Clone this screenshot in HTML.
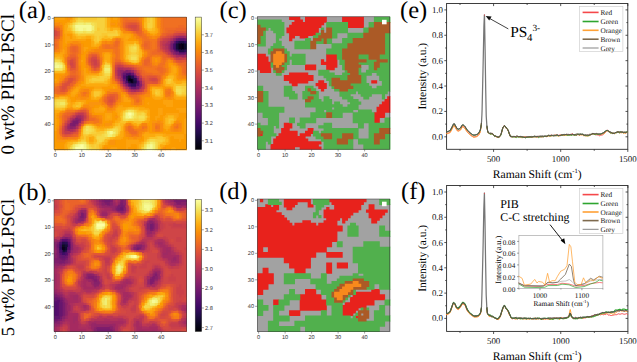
<!DOCTYPE html><html><head><meta charset="utf-8"><style>html,body{margin:0;padding:0;background:#fff}body{width:637px;height:362px;position:relative;overflow:hidden}</style></head><body><svg width="637" height="362" viewBox="0 0 637 362" text-rendering="geometricPrecision" style="position:absolute;left:0;top:0">
<rect width="637" height="362" fill="#fff"/>
<defs><filter id="soft" x="0" y="0" width="1" height="1"><feGaussianBlur stdDeviation="0.45" edgeMode="duplicate"/></filter></defs>
<text x="18.8" y="18.2" font-size="24.5" font-family='"Liberation Serif", serif' text-anchor="start" fill="#000" >(a)</text>
<text x="18.2" y="199.8" font-size="24.5" font-family='"Liberation Serif", serif' text-anchor="start" fill="#000" >(b)</text>
<text x="219.5" y="18.0" font-size="24.5" font-family='"Liberation Serif", serif' text-anchor="start" fill="#000" >(c)</text>
<text x="219.2" y="199.0" font-size="24.5" font-family='"Liberation Serif", serif' text-anchor="start" fill="#000" >(d)</text>
<text x="400.0" y="18.0" font-size="24.5" font-family='"Liberation Serif", serif' text-anchor="start" fill="#000" >(e)</text>
<text x="401.0" y="199.0" font-size="24.5" font-family='"Liberation Serif", serif' text-anchor="start" fill="#000" >(f)</text>
<text transform="translate(14.4,154.4) rotate(-90)" font-size="19" font-family='"Liberation Serif", serif' fill="#000">0 wt% PIB-LPSCl</text>
<text transform="translate(14.4,336.2) rotate(-90)" font-size="18.6" font-family='"Liberation Serif", serif' fill="#000">5 wt% PIB-LPSCl</text>
<g filter="url(#soft)"><rect x="54.0" y="17.1" width="132.4" height="132.5" fill="#f8890c"/>
<path fill="#fca309" d="M54.00 17.10h11.19v3.25h-11.19zM112.26 17.10h5.90v3.25h-5.90zM154.62 17.10h3.25v3.25h-3.25zM154.62 19.75h3.25v3.25h-3.25zM64.59 22.40h3.25v3.25h-3.25zM154.62 22.40h3.25v3.25h-3.25zM154.62 25.05h3.25v3.25h-3.25zM120.20 30.35h3.25v3.25h-3.25zM146.68 30.35h3.25v3.25h-3.25zM64.59 33.00h3.25v3.25h-3.25zM122.85 33.00h8.54v3.25h-8.54zM151.98 33.00h3.25v3.25h-3.25zM64.59 35.65h5.90v3.25h-5.90zM114.90 35.65h11.19v3.25h-11.19zM128.14 35.65h3.25v3.25h-3.25zM64.59 38.30h21.78v3.25h-21.78zM104.31 38.30h3.25v3.25h-3.25zM109.61 38.30h3.25v3.25h-3.25zM122.85 38.30h5.90v3.25h-5.90zM64.59 40.95h3.25v3.25h-3.25zM122.85 40.95h3.25v3.25h-3.25zM122.85 43.60h3.25v3.25h-3.25zM83.13 46.25h5.90v3.25h-5.90zM122.85 46.25h3.25v3.25h-3.25zM138.74 46.25h3.25v3.25h-3.25zM61.94 48.90h3.25v3.25h-3.25zM83.13 48.90h3.25v3.25h-3.25zM122.85 48.90h3.25v3.25h-3.25zM59.30 51.55h5.90v3.25h-5.90zM104.31 51.55h5.90v3.25h-5.90zM122.85 51.55h3.25v3.25h-3.25zM141.38 51.55h3.25v3.25h-3.25zM61.94 56.85h3.25v3.25h-3.25zM122.85 56.85h3.25v3.25h-3.25zM80.48 59.50h3.25v3.25h-3.25zM109.61 62.15h3.25v3.25h-3.25zM133.44 62.15h3.25v3.25h-3.25zM170.51 64.80h5.90v3.25h-5.90zM64.59 67.45h3.25v3.25h-3.25zM83.13 67.45h3.25v3.25h-3.25zM170.51 67.45h3.25v3.25h-3.25zM83.13 70.10h3.25v3.25h-3.25zM99.02 70.10h3.25v3.25h-3.25zM170.51 70.10h3.25v3.25h-3.25zM83.13 72.75h13.84v3.25h-13.84zM167.86 72.75h3.25v3.25h-3.25zM173.16 72.75h3.25v3.25h-3.25zM83.13 75.40h3.25v3.25h-3.25zM109.61 75.40h3.25v3.25h-3.25zM54.00 78.05h3.25v3.25h-3.25zM83.13 78.05h3.25v3.25h-3.25zM162.57 78.05h3.25v3.25h-3.25zM83.13 80.70h3.25v3.25h-3.25zM80.48 83.35h5.90v3.25h-5.90zM106.96 83.35h3.25v3.25h-3.25zM162.57 83.35h3.25v3.25h-3.25zM75.18 86.00h5.90v3.25h-5.90zM93.72 86.00h8.54v3.25h-8.54zM112.26 86.00h3.25v3.25h-3.25zM157.27 86.00h5.90v3.25h-5.90zM170.51 86.00h3.25v3.25h-3.25zM72.54 88.65h3.25v3.25h-3.25zM91.07 88.65h3.25v3.25h-3.25zM101.66 88.65h3.25v3.25h-3.25zM149.33 88.65h3.25v3.25h-3.25zM69.89 91.30h3.25v3.25h-3.25zM75.18 91.30h3.25v3.25h-3.25zM69.89 93.95h5.90v3.25h-5.90zM122.85 93.95h3.25v3.25h-3.25zM67.24 96.60h3.25v3.25h-3.25zM122.85 96.60h5.90v3.25h-5.90zM151.98 96.60h3.25v3.25h-3.25zM159.92 96.60h3.25v3.25h-3.25zM173.16 96.60h3.25v3.25h-3.25zM75.18 99.25h11.19v3.25h-11.19zM122.85 99.25h8.54v3.25h-8.54zM162.57 99.25h11.19v3.25h-11.19zM69.89 101.90h3.25v3.25h-3.25zM83.13 101.90h3.25v3.25h-3.25zM146.68 101.90h3.25v3.25h-3.25zM162.57 101.90h11.19v3.25h-11.19zM69.89 104.55h3.25v3.25h-3.25zM80.48 104.55h3.25v3.25h-3.25zM99.02 104.55h3.25v3.25h-3.25zM117.55 104.55h5.90v3.25h-5.90zM165.22 104.55h8.54v3.25h-8.54zM64.59 107.20h3.25v3.25h-3.25zM72.54 107.20h3.25v3.25h-3.25zM93.72 107.20h5.90v3.25h-5.90zM114.90 107.20h3.25v3.25h-3.25zM144.03 107.20h5.90v3.25h-5.90zM157.27 107.20h5.90v3.25h-5.90zM175.81 107.20h11.19v3.25h-11.19zM93.72 109.85h11.19v3.25h-11.19zM114.90 109.85h3.25v3.25h-3.25zM157.27 109.85h5.90v3.25h-5.90zM178.46 109.85h8.54v3.25h-8.54zM54.00 112.50h3.25v3.25h-3.25zM104.31 112.50h8.54v3.25h-8.54zM157.27 112.50h5.90v3.25h-5.90zM165.22 112.50h13.84v3.25h-13.84zM54.00 115.15h3.25v3.25h-3.25zM104.31 115.15h3.25v3.25h-3.25zM109.61 115.15h3.25v3.25h-3.25zM117.55 115.15h3.25v3.25h-3.25zM154.62 115.15h5.90v3.25h-5.90zM162.57 115.15h3.25v3.25h-3.25zM175.81 115.15h3.25v3.25h-3.25zM54.00 117.80h3.25v3.25h-3.25zM104.31 117.80h8.54v3.25h-8.54zM154.62 117.80h3.25v3.25h-3.25zM162.57 117.80h3.25v3.25h-3.25zM183.75 117.80h3.25v3.25h-3.25zM54.00 120.45h3.25v3.25h-3.25zM146.68 120.45h3.25v3.25h-3.25zM162.57 120.45h3.25v3.25h-3.25zM183.75 120.45h3.25v3.25h-3.25zM54.00 123.10h3.25v3.25h-3.25zM91.07 123.10h3.25v3.25h-3.25zM122.85 123.10h3.25v3.25h-3.25zM162.57 123.10h3.25v3.25h-3.25zM183.75 123.10h3.25v3.25h-3.25zM54.00 125.75h3.25v3.25h-3.25zM96.37 125.75h13.84v3.25h-13.84zM162.57 125.75h3.25v3.25h-3.25zM167.86 125.75h3.25v3.25h-3.25zM183.75 125.75h3.25v3.25h-3.25zM54.00 128.40h3.25v3.25h-3.25zM165.22 128.40h3.25v3.25h-3.25zM183.75 128.40h3.25v3.25h-3.25zM144.03 131.05h5.90v3.25h-5.90zM183.75 131.05h3.25v3.25h-3.25zM141.38 133.70h3.25v3.25h-3.25zM165.22 133.70h19.14v3.25h-19.14zM88.42 136.35h3.25v3.25h-3.25zM120.20 136.35h3.25v3.25h-3.25zM167.86 136.35h3.25v3.25h-3.25zM173.16 136.35h11.19v3.25h-11.19zM69.89 139.00h8.54v3.25h-8.54zM88.42 139.00h5.90v3.25h-5.90zM106.96 139.00h3.25v3.25h-3.25zM125.50 139.00h13.84v3.25h-13.84zM167.86 139.00h3.25v3.25h-3.25zM178.46 139.00h3.25v3.25h-3.25zM64.59 141.65h3.25v3.25h-3.25zM125.50 141.65h16.49v3.25h-16.49zM167.86 141.65h3.25v3.25h-3.25zM101.66 144.30h3.25v3.25h-3.25zM125.50 144.30h5.90v3.25h-5.90zM136.09 144.30h3.25v3.25h-3.25zM162.57 144.30h3.25v3.25h-3.25zM54.00 146.95h3.25v3.25h-3.25zM109.61 146.95h8.54v3.25h-8.54zM125.50 146.95h3.25v3.25h-3.25zM136.09 146.95h3.25v3.25h-3.25zM159.92 146.95h3.25v3.25h-3.25zM170.51 146.95h5.90v3.25h-5.90z"/>
<path fill="#fb9b06" d="M64.59 17.10h3.25v3.25h-3.25zM69.89 17.10h3.25v3.25h-3.25zM109.61 17.10h3.25v3.25h-3.25zM54.00 19.75h16.49v3.25h-16.49zM109.61 19.75h8.54v3.25h-8.54zM141.38 19.75h3.25v3.25h-3.25zM61.94 22.40h3.25v3.25h-3.25zM114.90 22.40h3.25v3.25h-3.25zM141.38 22.40h3.25v3.25h-3.25zM61.94 25.05h3.25v3.25h-3.25zM109.61 25.05h8.54v3.25h-8.54zM61.94 27.70h3.25v3.25h-3.25zM61.94 30.35h3.25v3.25h-3.25zM61.94 33.00h3.25v3.25h-3.25zM67.24 33.00h5.90v3.25h-5.90zM130.79 33.00h3.25v3.25h-3.25zM149.33 33.00h3.25v3.25h-3.25zM154.62 33.00h3.25v3.25h-3.25zM61.94 35.65h3.25v3.25h-3.25zM69.89 35.65h3.25v3.25h-3.25zM130.79 35.65h3.25v3.25h-3.25zM61.94 38.30h3.25v3.25h-3.25zM85.78 38.30h5.90v3.25h-5.90zM128.14 38.30h8.54v3.25h-8.54zM61.94 40.95h3.25v3.25h-3.25zM67.24 40.95h3.25v3.25h-3.25zM80.48 40.95h11.19v3.25h-11.19zM61.94 43.60h5.90v3.25h-5.90zM83.13 43.60h8.54v3.25h-8.54zM61.94 46.25h3.25v3.25h-3.25zM88.42 46.25h8.54v3.25h-8.54zM85.78 48.90h3.25v3.25h-3.25zM54.00 51.55h5.90v3.25h-5.90zM83.13 51.55h3.25v3.25h-3.25zM101.66 51.55h3.25v3.25h-3.25zM61.94 54.20h3.25v3.25h-3.25zM80.48 54.20h5.90v3.25h-5.90zM101.66 54.20h3.25v3.25h-3.25zM109.61 54.20h3.25v3.25h-3.25zM141.38 54.20h3.25v3.25h-3.25zM80.48 56.85h5.90v3.25h-5.90zM83.13 59.50h3.25v3.25h-3.25zM101.66 59.50h3.25v3.25h-3.25zM109.61 59.50h3.25v3.25h-3.25zM138.74 59.50h3.25v3.25h-3.25zM154.62 59.50h3.25v3.25h-3.25zM80.48 62.15h5.90v3.25h-5.90zM130.79 62.15h3.25v3.25h-3.25zM136.09 62.15h3.25v3.25h-3.25zM167.86 62.15h5.90v3.25h-5.90zM64.59 64.80h3.25v3.25h-3.25zM80.48 64.80h5.90v3.25h-5.90zM167.86 64.80h3.25v3.25h-3.25zM80.48 67.45h3.25v3.25h-3.25zM85.78 67.45h3.25v3.25h-3.25zM175.81 67.45h3.25v3.25h-3.25zM64.59 70.10h3.25v3.25h-3.25zM85.78 70.10h3.25v3.25h-3.25zM175.81 70.10h3.25v3.25h-3.25zM54.00 72.75h11.19v3.25h-11.19zM175.81 72.75h3.25v3.25h-3.25zM54.00 75.40h5.90v3.25h-5.90zM56.65 78.05h3.25v3.25h-3.25zM175.81 78.05h3.25v3.25h-3.25zM181.10 78.05h5.90v3.25h-5.90zM54.00 80.70h3.25v3.25h-3.25zM80.48 80.70h3.25v3.25h-3.25zM77.83 83.35h3.25v3.25h-3.25zM109.61 83.35h5.90v3.25h-5.90zM80.48 86.00h13.84v3.25h-13.84zM101.66 86.00h11.19v3.25h-11.19zM114.90 86.00h3.25v3.25h-3.25zM149.33 86.00h3.25v3.25h-3.25zM162.57 86.00h3.25v3.25h-3.25zM77.83 88.65h3.25v3.25h-3.25zM104.31 88.65h3.25v3.25h-3.25zM149.33 91.30h3.25v3.25h-3.25zM67.24 93.95h3.25v3.25h-3.25zM75.18 93.95h3.25v3.25h-3.25zM88.42 93.95h3.25v3.25h-3.25zM120.20 93.95h3.25v3.25h-3.25zM149.33 93.95h3.25v3.25h-3.25zM162.57 93.95h3.25v3.25h-3.25zM69.89 96.60h5.90v3.25h-5.90zM88.42 96.60h3.25v3.25h-3.25zM99.02 96.60h3.25v3.25h-3.25zM144.03 96.60h8.54v3.25h-8.54zM162.57 96.60h3.25v3.25h-3.25zM69.89 99.25h5.90v3.25h-5.90zM85.78 99.25h13.84v3.25h-13.84zM144.03 99.25h19.14v3.25h-19.14zM173.16 99.25h13.84v3.25h-13.84zM85.78 101.90h3.25v3.25h-3.25zM120.20 101.90h11.19v3.25h-11.19zM144.03 101.90h3.25v3.25h-3.25zM149.33 101.90h13.84v3.25h-13.84zM173.16 101.90h13.84v3.25h-13.84zM93.72 104.55h5.90v3.25h-5.90zM101.66 104.55h3.25v3.25h-3.25zM122.85 104.55h13.84v3.25h-13.84zM138.74 104.55h27.08v3.25h-27.08zM173.16 104.55h13.84v3.25h-13.84zM77.83 107.20h3.25v3.25h-3.25zM91.07 107.20h3.25v3.25h-3.25zM104.31 107.20h3.25v3.25h-3.25zM149.33 107.20h8.54v3.25h-8.54zM162.57 107.20h13.84v3.25h-13.84zM59.30 109.85h3.25v3.25h-3.25zM91.07 109.85h3.25v3.25h-3.25zM104.31 109.85h3.25v3.25h-3.25zM112.26 109.85h3.25v3.25h-3.25zM149.33 109.85h8.54v3.25h-8.54zM162.57 109.85h16.49v3.25h-16.49zM56.65 112.50h3.25v3.25h-3.25zM93.72 112.50h11.19v3.25h-11.19zM112.26 112.50h5.90v3.25h-5.90zM149.33 112.50h8.54v3.25h-8.54zM162.57 112.50h3.25v3.25h-3.25zM178.46 112.50h8.54v3.25h-8.54zM101.66 115.15h3.25v3.25h-3.25zM112.26 115.15h3.25v3.25h-3.25zM149.33 115.15h5.90v3.25h-5.90zM159.92 115.15h3.25v3.25h-3.25zM178.46 115.15h8.54v3.25h-8.54zM56.65 117.80h3.25v3.25h-3.25zM101.66 117.80h3.25v3.25h-3.25zM112.26 117.80h5.90v3.25h-5.90zM149.33 117.80h5.90v3.25h-5.90zM157.27 117.80h5.90v3.25h-5.90zM175.81 117.80h8.54v3.25h-8.54zM56.65 120.45h3.25v3.25h-3.25zM101.66 120.45h8.54v3.25h-8.54zM112.26 120.45h3.25v3.25h-3.25zM149.33 120.45h3.25v3.25h-3.25zM173.16 120.45h3.25v3.25h-3.25zM181.10 120.45h3.25v3.25h-3.25zM56.65 123.10h3.25v3.25h-3.25zM83.13 123.10h3.25v3.25h-3.25zM101.66 123.10h3.25v3.25h-3.25zM138.74 123.10h3.25v3.25h-3.25zM146.68 123.10h5.90v3.25h-5.90zM170.51 123.10h3.25v3.25h-3.25zM181.10 123.10h3.25v3.25h-3.25zM149.33 125.75h3.25v3.25h-3.25zM181.10 125.75h3.25v3.25h-3.25zM149.33 128.40h3.25v3.25h-3.25zM162.57 128.40h3.25v3.25h-3.25zM167.86 128.40h3.25v3.25h-3.25zM181.10 128.40h3.25v3.25h-3.25zM54.00 131.05h3.25v3.25h-3.25zM122.85 131.05h3.25v3.25h-3.25zM149.33 131.05h35.02v3.25h-35.02zM54.00 133.70h3.25v3.25h-3.25zM122.85 133.70h3.25v3.25h-3.25zM183.75 133.70h3.25v3.25h-3.25zM54.00 136.35h3.25v3.25h-3.25zM77.83 136.35h3.25v3.25h-3.25zM122.85 136.35h5.90v3.25h-5.90zM141.38 136.35h3.25v3.25h-3.25zM170.51 136.35h3.25v3.25h-3.25zM183.75 136.35h3.25v3.25h-3.25zM54.00 139.00h3.25v3.25h-3.25zM64.59 139.00h5.90v3.25h-5.90zM114.90 139.00h11.19v3.25h-11.19zM138.74 139.00h5.90v3.25h-5.90zM170.51 139.00h8.54v3.25h-8.54zM181.10 139.00h5.90v3.25h-5.90zM54.00 141.65h11.19v3.25h-11.19zM106.96 141.65h3.25v3.25h-3.25zM114.90 141.65h11.19v3.25h-11.19zM170.51 141.65h16.49v3.25h-16.49zM54.00 144.30h11.19v3.25h-11.19zM104.31 144.30h21.78v3.25h-21.78zM130.79 144.30h5.90v3.25h-5.90zM165.22 144.30h21.78v3.25h-21.78zM56.65 146.95h8.54v3.25h-8.54zM101.66 146.95h3.25v3.25h-3.25zM106.96 146.95h3.25v3.25h-3.25zM117.55 146.95h8.54v3.25h-8.54zM128.14 146.95h8.54v3.25h-8.54zM165.22 146.95h5.90v3.25h-5.90zM175.81 146.95h11.19v3.25h-11.19z"/>
<path fill="#fa9407" d="M67.24 17.10h3.25v3.25h-3.25zM117.55 17.10h3.25v3.25h-3.25zM141.38 17.10h3.25v3.25h-3.25zM117.55 19.75h3.25v3.25h-3.25zM59.30 22.40h3.25v3.25h-3.25zM109.61 22.40h5.90v3.25h-5.90zM117.55 25.05h3.25v3.25h-3.25zM141.38 25.05h3.25v3.25h-3.25zM157.27 27.70h3.25v3.25h-3.25zM157.27 30.35h3.25v3.25h-3.25zM133.44 35.65h3.25v3.25h-3.25zM120.20 38.30h3.25v3.25h-3.25zM136.09 38.30h3.25v3.25h-3.25zM69.89 40.95h3.25v3.25h-3.25zM77.83 40.95h3.25v3.25h-3.25zM80.48 43.60h3.25v3.25h-3.25zM99.02 43.60h3.25v3.25h-3.25zM138.74 43.60h3.25v3.25h-3.25zM64.59 46.25h3.25v3.25h-3.25zM80.48 46.25h3.25v3.25h-3.25zM96.37 46.25h3.25v3.25h-3.25zM59.30 48.90h3.25v3.25h-3.25zM64.59 48.90h3.25v3.25h-3.25zM80.48 48.90h3.25v3.25h-3.25zM88.42 48.90h3.25v3.25h-3.25zM141.38 48.90h3.25v3.25h-3.25zM64.59 51.55h3.25v3.25h-3.25zM80.48 51.55h3.25v3.25h-3.25zM85.78 51.55h3.25v3.25h-3.25zM109.61 51.55h3.25v3.25h-3.25zM101.66 56.85h3.25v3.25h-3.25zM109.61 56.85h3.25v3.25h-3.25zM154.62 56.85h3.25v3.25h-3.25zM122.85 59.50h3.25v3.25h-3.25zM175.81 64.80h3.25v3.25h-3.25zM167.86 67.45h3.25v3.25h-3.25zM80.48 70.10h3.25v3.25h-3.25zM88.42 70.10h3.25v3.25h-3.25zM167.86 70.10h3.25v3.25h-3.25zM80.48 72.75h3.25v3.25h-3.25zM59.30 75.40h3.25v3.25h-3.25zM175.81 75.40h3.25v3.25h-3.25zM109.61 78.05h3.25v3.25h-3.25zM178.46 78.05h3.25v3.25h-3.25zM56.65 80.70h3.25v3.25h-3.25zM109.61 80.70h3.25v3.25h-3.25zM114.90 83.35h3.25v3.25h-3.25zM159.92 83.35h3.25v3.25h-3.25zM72.54 86.00h3.25v3.25h-3.25zM165.22 86.00h5.90v3.25h-5.90zM69.89 88.65h3.25v3.25h-3.25zM88.42 88.65h3.25v3.25h-3.25zM106.96 88.65h3.25v3.25h-3.25zM162.57 88.65h3.25v3.25h-3.25zM170.51 88.65h3.25v3.25h-3.25zM77.83 91.30h3.25v3.25h-3.25zM88.42 91.30h3.25v3.25h-3.25zM104.31 91.30h3.25v3.25h-3.25zM120.20 91.30h3.25v3.25h-3.25zM162.57 91.30h3.25v3.25h-3.25zM64.59 93.95h3.25v3.25h-3.25zM101.66 93.95h3.25v3.25h-3.25zM75.18 96.60h5.90v3.25h-5.90zM85.78 96.60h3.25v3.25h-3.25zM120.20 96.60h3.25v3.25h-3.25zM128.14 96.60h3.25v3.25h-3.25zM165.22 96.60h3.25v3.25h-3.25zM170.51 96.60h3.25v3.25h-3.25zM120.20 99.25h3.25v3.25h-3.25zM141.38 99.25h3.25v3.25h-3.25zM88.42 101.90h13.84v3.25h-13.84zM117.55 101.90h3.25v3.25h-3.25zM141.38 101.90h3.25v3.25h-3.25zM88.42 104.55h5.90v3.25h-5.90zM114.90 104.55h3.25v3.25h-3.25zM136.09 104.55h3.25v3.25h-3.25zM67.24 107.20h5.90v3.25h-5.90zM106.96 109.85h5.90v3.25h-5.90zM91.07 112.50h3.25v3.25h-3.25zM56.65 115.15h3.25v3.25h-3.25zM114.90 115.15h3.25v3.25h-3.25zM109.61 120.45h3.25v3.25h-3.25zM151.98 120.45h5.90v3.25h-5.90zM159.92 120.45h3.25v3.25h-3.25zM178.46 120.45h3.25v3.25h-3.25zM93.72 123.10h3.25v3.25h-3.25zM99.02 123.10h3.25v3.25h-3.25zM104.31 123.10h8.54v3.25h-8.54zM130.79 123.10h3.25v3.25h-3.25zM56.65 125.75h3.25v3.25h-3.25zM80.48 125.75h3.25v3.25h-3.25zM122.85 125.75h3.25v3.25h-3.25zM136.09 125.75h3.25v3.25h-3.25zM146.68 125.75h3.25v3.25h-3.25zM122.85 128.40h3.25v3.25h-3.25zM146.68 128.40h3.25v3.25h-3.25zM141.38 131.05h3.25v3.25h-3.25zM128.14 136.35h5.90v3.25h-5.90zM136.09 136.35h5.90v3.25h-5.90zM56.65 139.00h8.54v3.25h-8.54zM109.61 139.00h5.90v3.25h-5.90zM109.61 141.65h5.90v3.25h-5.90zM104.31 146.95h3.25v3.25h-3.25zM162.57 146.95h3.25v3.25h-3.25z"/>
<path fill="#fcb216" d="M72.54 17.10h3.25v3.25h-3.25zM144.03 17.10h3.25v3.25h-3.25zM144.03 19.75h3.25v3.25h-3.25zM67.24 22.40h3.25v3.25h-3.25zM112.26 27.70h5.90v3.25h-5.90zM69.89 30.35h3.25v3.25h-3.25zM149.33 30.35h5.90v3.25h-5.90zM72.54 33.00h3.25v3.25h-3.25zM75.18 35.65h3.25v3.25h-3.25zM80.48 35.65h5.90v3.25h-5.90zM112.26 35.65h3.25v3.25h-3.25zM91.07 38.30h3.25v3.25h-3.25zM133.44 40.95h3.25v3.25h-3.25zM93.72 43.60h3.25v3.25h-3.25zM125.50 43.60h3.25v3.25h-3.25zM138.74 48.90h3.25v3.25h-3.25zM59.30 56.85h3.25v3.25h-3.25zM104.31 59.50h3.25v3.25h-3.25zM109.61 64.80h3.25v3.25h-3.25zM109.61 72.75h3.25v3.25h-3.25zM85.78 75.40h3.25v3.25h-3.25zM106.96 78.05h3.25v3.25h-3.25zM173.16 80.70h3.25v3.25h-3.25zM181.10 80.70h5.90v3.25h-5.90zM165.22 83.35h5.90v3.25h-5.90zM93.72 88.65h8.54v3.25h-8.54zM159.92 88.65h3.25v3.25h-3.25zM91.07 91.30h3.25v3.25h-3.25zM173.16 91.30h3.25v3.25h-3.25zM91.07 93.95h3.25v3.25h-3.25zM99.02 93.95h3.25v3.25h-3.25zM159.92 93.95h3.25v3.25h-3.25zM54.00 96.60h5.90v3.25h-5.90zM64.59 96.60h3.25v3.25h-3.25zM93.72 96.60h3.25v3.25h-3.25zM67.24 101.90h3.25v3.25h-3.25zM80.48 101.90h3.25v3.25h-3.25zM125.50 107.20h3.25v3.25h-3.25zM133.44 107.20h5.90v3.25h-5.90zM120.20 109.85h3.25v3.25h-3.25zM146.68 115.15h3.25v3.25h-3.25zM173.16 117.80h3.25v3.25h-3.25zM117.55 120.45h3.25v3.25h-3.25zM125.50 120.45h3.25v3.25h-3.25zM130.79 120.45h3.25v3.25h-3.25zM141.38 120.45h3.25v3.25h-3.25zM85.78 123.10h5.90v3.25h-5.90zM136.09 123.10h3.25v3.25h-3.25zM165.22 123.10h5.90v3.25h-5.90zM93.72 125.75h3.25v3.25h-3.25zM120.20 125.75h3.25v3.25h-3.25zM99.02 128.40h5.90v3.25h-5.90zM120.20 128.40h3.25v3.25h-3.25zM80.48 131.05h3.25v3.25h-3.25zM80.48 133.70h3.25v3.25h-3.25zM117.55 133.70h3.25v3.25h-3.25zM154.62 133.70h8.54v3.25h-8.54zM112.26 136.35h3.25v3.25h-3.25zM146.68 136.35h3.25v3.25h-3.25zM165.22 136.35h3.25v3.25h-3.25zM144.03 139.00h3.25v3.25h-3.25zM67.24 141.65h3.25v3.25h-3.25zM88.42 141.65h5.90v3.25h-5.90zM141.38 141.65h3.25v3.25h-3.25zM138.74 144.30h3.25v3.25h-3.25zM99.02 146.95h3.25v3.25h-3.25zM138.74 146.95h3.25v3.25h-3.25z"/>
<path fill="#fac228" d="M75.18 17.10h3.25v3.25h-3.25zM104.31 17.10h3.25v3.25h-3.25zM151.98 17.10h3.25v3.25h-3.25zM104.31 19.75h3.25v3.25h-3.25zM151.98 19.75h3.25v3.25h-3.25zM69.89 22.40h3.25v3.25h-3.25zM104.31 22.40h3.25v3.25h-3.25zM151.98 22.40h3.25v3.25h-3.25zM67.24 25.05h3.25v3.25h-3.25zM104.31 25.05h3.25v3.25h-3.25zM151.98 25.05h3.25v3.25h-3.25zM146.68 27.70h5.90v3.25h-5.90zM75.18 33.00h3.25v3.25h-3.25zM117.55 33.00h3.25v3.25h-3.25zM101.66 35.65h3.25v3.25h-3.25zM106.96 35.65h5.90v3.25h-5.90zM99.02 38.30h3.25v3.25h-3.25zM93.72 40.95h5.90v3.25h-5.90zM128.14 43.60h3.25v3.25h-3.25zM136.09 43.60h3.25v3.25h-3.25zM125.50 54.20h3.25v3.25h-3.25zM54.00 56.85h3.25v3.25h-3.25zM125.50 56.85h3.25v3.25h-3.25zM128.14 59.50h3.25v3.25h-3.25zM136.09 59.50h3.25v3.25h-3.25zM106.96 62.15h3.25v3.25h-3.25zM109.61 67.45h3.25v3.25h-3.25zM109.61 70.10h3.25v3.25h-3.25zM91.07 75.40h5.90v3.25h-5.90zM165.22 78.05h3.25v3.25h-3.25zM170.51 78.05h3.25v3.25h-3.25zM88.42 80.70h3.25v3.25h-3.25zM93.72 80.70h11.19v3.25h-11.19zM165.22 80.70h3.25v3.25h-3.25zM170.51 80.70h3.25v3.25h-3.25zM173.16 83.35h13.84v3.25h-13.84zM173.16 86.00h3.25v3.25h-3.25zM157.27 88.65h3.25v3.25h-3.25zM173.16 88.65h3.25v3.25h-3.25zM99.02 91.30h3.25v3.25h-3.25zM154.62 93.95h5.90v3.25h-5.90zM175.81 93.95h3.25v3.25h-3.25zM181.10 93.95h5.90v3.25h-5.90zM77.83 101.90h3.25v3.25h-3.25zM64.59 104.55h3.25v3.25h-3.25zM77.83 104.55h3.25v3.25h-3.25zM54.00 107.20h8.54v3.25h-8.54zM136.09 109.85h8.54v3.25h-8.54zM120.20 115.15h3.25v3.25h-3.25zM120.20 117.80h3.25v3.25h-3.25zM120.20 120.45h5.90v3.25h-5.90zM133.44 120.45h8.54v3.25h-8.54zM117.55 123.10h3.25v3.25h-3.25zM112.26 125.75h3.25v3.25h-3.25zM104.31 128.40h3.25v3.25h-3.25zM117.55 131.05h3.25v3.25h-3.25zM91.07 133.70h3.25v3.25h-3.25zM93.72 136.35h3.25v3.25h-3.25zM149.33 136.35h8.54v3.25h-8.54zM162.57 136.35h3.25v3.25h-3.25zM93.72 141.65h3.25v3.25h-3.25zM159.92 141.65h3.25v3.25h-3.25zM141.38 144.30h3.25v3.25h-3.25zM157.27 144.30h3.25v3.25h-3.25zM67.24 146.95h3.25v3.25h-3.25z"/>
<path fill="#f7d13d" d="M77.83 17.10h3.25v3.25h-3.25zM96.37 17.10h8.54v3.25h-8.54zM149.33 17.10h3.25v3.25h-3.25zM75.18 19.75h3.25v3.25h-3.25zM83.13 19.75h21.78v3.25h-21.78zM149.33 19.75h3.25v3.25h-3.25zM96.37 22.40h8.54v3.25h-8.54zM146.68 22.40h5.90v3.25h-5.90zM69.89 25.05h3.25v3.25h-3.25zM96.37 25.05h8.54v3.25h-8.54zM146.68 25.05h5.90v3.25h-5.90zM99.02 27.70h5.90v3.25h-5.90zM93.72 30.35h13.84v3.25h-13.84zM114.90 30.35h3.25v3.25h-3.25zM77.83 33.00h3.25v3.25h-3.25zM93.72 33.00h8.54v3.25h-8.54zM106.96 33.00h11.19v3.25h-11.19zM96.37 35.65h3.25v3.25h-3.25zM96.37 38.30h3.25v3.25h-3.25zM133.44 43.60h3.25v3.25h-3.25zM128.14 46.25h3.25v3.25h-3.25zM128.14 48.90h3.25v3.25h-3.25zM130.79 51.55h5.90v3.25h-5.90zM128.14 54.20h3.25v3.25h-3.25zM136.09 54.20h3.25v3.25h-3.25zM128.14 56.85h3.25v3.25h-3.25zM136.09 56.85h3.25v3.25h-3.25zM133.44 59.50h3.25v3.25h-3.25zM61.94 67.45h3.25v3.25h-3.25zM99.02 75.40h8.54v3.25h-8.54zM91.07 78.05h13.84v3.25h-13.84zM167.86 78.05h3.25v3.25h-3.25zM181.10 86.00h5.90v3.25h-5.90zM183.75 88.65h3.25v3.25h-3.25zM154.62 91.30h3.25v3.25h-3.25zM181.10 91.30h5.90v3.25h-5.90zM54.00 99.25h3.25v3.25h-3.25zM64.59 101.90h3.25v3.25h-3.25zM54.00 104.55h3.25v3.25h-3.25zM133.44 109.85h3.25v3.25h-3.25zM136.09 112.50h5.90v3.25h-5.90zM144.03 115.15h3.25v3.25h-3.25zM133.44 117.80h5.90v3.25h-5.90zM114.90 125.75h3.25v3.25h-3.25zM106.96 128.40h3.25v3.25h-3.25zM91.07 131.05h5.90v3.25h-5.90zM96.37 133.70h5.90v3.25h-5.90zM104.31 136.35h3.25v3.25h-3.25zM80.48 139.00h5.90v3.25h-5.90zM96.37 139.00h3.25v3.25h-3.25zM101.66 139.00h3.25v3.25h-3.25zM154.62 139.00h8.54v3.25h-8.54zM75.18 141.65h3.25v3.25h-3.25zM96.37 141.65h3.25v3.25h-3.25zM69.89 144.30h3.25v3.25h-3.25zM88.42 144.30h3.25v3.25h-3.25zM93.72 144.30h3.25v3.25h-3.25zM91.07 146.95h5.90v3.25h-5.90zM141.38 146.95h3.25v3.25h-3.25z"/>
<path fill="#f9c932" d="M80.48 17.10h16.49v3.25h-16.49zM146.68 17.10h3.25v3.25h-3.25zM146.68 19.75h3.25v3.25h-3.25zM69.89 27.70h3.25v3.25h-3.25zM96.37 27.70h3.25v3.25h-3.25zM104.31 27.70h3.25v3.25h-3.25zM72.54 30.35h3.25v3.25h-3.25zM106.96 30.35h8.54v3.25h-8.54zM80.48 33.00h13.84v3.25h-13.84zM101.66 33.00h5.90v3.25h-5.90zM93.72 35.65h3.25v3.25h-3.25zM99.02 35.65h3.25v3.25h-3.25zM93.72 38.30h3.25v3.25h-3.25zM130.79 43.60h3.25v3.25h-3.25zM136.09 46.25h3.25v3.25h-3.25zM136.09 48.90h3.25v3.25h-3.25zM128.14 51.55h3.25v3.25h-3.25zM136.09 51.55h3.25v3.25h-3.25zM59.30 59.50h3.25v3.25h-3.25zM130.79 59.50h3.25v3.25h-3.25zM61.94 62.15h3.25v3.25h-3.25zM104.31 62.15h3.25v3.25h-3.25zM101.66 67.45h3.25v3.25h-3.25zM101.66 70.10h3.25v3.25h-3.25zM101.66 72.75h3.25v3.25h-3.25zM96.37 75.40h3.25v3.25h-3.25zM106.96 75.40h3.25v3.25h-3.25zM88.42 78.05h3.25v3.25h-3.25zM104.31 78.05h3.25v3.25h-3.25zM91.07 80.70h3.25v3.25h-3.25zM167.86 80.70h3.25v3.25h-3.25zM154.62 88.65h3.25v3.25h-3.25zM93.72 91.30h5.90v3.25h-5.90zM157.27 91.30h3.25v3.25h-3.25zM93.72 93.95h5.90v3.25h-5.90zM178.46 93.95h3.25v3.25h-3.25zM64.59 99.25h3.25v3.25h-3.25zM75.18 104.55h3.25v3.25h-3.25zM122.85 109.85h3.25v3.25h-3.25zM144.03 112.50h3.25v3.25h-3.25zM144.03 117.80h3.25v3.25h-3.25zM167.86 117.80h5.90v3.25h-5.90zM167.86 120.45h3.25v3.25h-3.25zM83.13 125.75h3.25v3.25h-3.25zM91.07 125.75h3.25v3.25h-3.25zM117.55 125.75h3.25v3.25h-3.25zM93.72 128.40h3.25v3.25h-3.25zM117.55 128.40h3.25v3.25h-3.25zM96.37 131.05h8.54v3.25h-8.54zM83.13 133.70h5.90v3.25h-5.90zM93.72 133.70h3.25v3.25h-3.25zM114.90 133.70h3.25v3.25h-3.25zM83.13 136.35h3.25v3.25h-3.25zM106.96 136.35h3.25v3.25h-3.25zM157.27 136.35h5.90v3.25h-5.90zM146.68 139.00h3.25v3.25h-3.25zM162.57 139.00h3.25v3.25h-3.25zM72.54 141.65h3.25v3.25h-3.25zM85.78 141.65h3.25v3.25h-3.25zM99.02 141.65h3.25v3.25h-3.25zM144.03 141.65h3.25v3.25h-3.25zM157.27 141.65h3.25v3.25h-3.25zM91.07 144.30h3.25v3.25h-3.25zM96.37 144.30h3.25v3.25h-3.25zM96.37 146.95h3.25v3.25h-3.25z"/>
<path fill="#fcaa0f" d="M106.96 17.10h3.25v3.25h-3.25zM69.89 19.75h3.25v3.25h-3.25zM106.96 19.75h3.25v3.25h-3.25zM106.96 22.40h3.25v3.25h-3.25zM64.59 25.05h3.25v3.25h-3.25zM106.96 25.05h3.25v3.25h-3.25zM64.59 27.70h3.25v3.25h-3.25zM109.61 27.70h3.25v3.25h-3.25zM117.55 27.70h3.25v3.25h-3.25zM144.03 27.70h3.25v3.25h-3.25zM154.62 27.70h3.25v3.25h-3.25zM64.59 30.35h5.90v3.25h-5.90zM154.62 30.35h3.25v3.25h-3.25zM120.20 33.00h3.25v3.25h-3.25zM72.54 35.65h3.25v3.25h-3.25zM85.78 35.65h5.90v3.25h-5.90zM125.50 35.65h3.25v3.25h-3.25zM101.66 38.30h3.25v3.25h-3.25zM106.96 38.30h3.25v3.25h-3.25zM91.07 40.95h3.25v3.25h-3.25zM99.02 40.95h3.25v3.25h-3.25zM125.50 40.95h8.54v3.25h-8.54zM136.09 40.95h3.25v3.25h-3.25zM91.07 43.60h3.25v3.25h-3.25zM96.37 43.60h3.25v3.25h-3.25zM54.00 54.20h8.54v3.25h-8.54zM104.31 54.20h5.90v3.25h-5.90zM122.85 54.20h3.25v3.25h-3.25zM104.31 56.85h5.90v3.25h-5.90zM138.74 56.85h3.25v3.25h-3.25zM61.94 59.50h3.25v3.25h-3.25zM106.96 59.50h3.25v3.25h-3.25zM125.50 59.50h3.25v3.25h-3.25zM101.66 62.15h3.25v3.25h-3.25zM173.16 67.45h3.25v3.25h-3.25zM173.16 70.10h3.25v3.25h-3.25zM96.37 72.75h3.25v3.25h-3.25zM170.51 72.75h3.25v3.25h-3.25zM165.22 75.40h3.25v3.25h-3.25zM173.16 75.40h3.25v3.25h-3.25zM173.16 78.05h3.25v3.25h-3.25zM106.96 80.70h3.25v3.25h-3.25zM162.57 80.70h3.25v3.25h-3.25zM175.81 80.70h5.90v3.25h-5.90zM85.78 83.35h21.78v3.25h-21.78zM151.98 86.00h5.90v3.25h-5.90zM75.18 88.65h3.25v3.25h-3.25zM72.54 91.30h3.25v3.25h-3.25zM101.66 91.30h3.25v3.25h-3.25zM151.98 93.95h3.25v3.25h-3.25zM173.16 93.95h3.25v3.25h-3.25zM91.07 96.60h3.25v3.25h-3.25zM96.37 96.60h3.25v3.25h-3.25zM154.62 96.60h5.90v3.25h-5.90zM175.81 96.60h11.19v3.25h-11.19zM67.24 99.25h3.25v3.25h-3.25zM72.54 101.90h3.25v3.25h-3.25zM67.24 104.55h3.25v3.25h-3.25zM75.18 107.20h3.25v3.25h-3.25zM99.02 107.20h5.90v3.25h-5.90zM117.55 107.20h8.54v3.25h-8.54zM138.74 107.20h5.90v3.25h-5.90zM54.00 109.85h5.90v3.25h-5.90zM117.55 109.85h3.25v3.25h-3.25zM146.68 109.85h3.25v3.25h-3.25zM117.55 112.50h3.25v3.25h-3.25zM146.68 112.50h3.25v3.25h-3.25zM106.96 115.15h3.25v3.25h-3.25zM165.22 115.15h3.25v3.25h-3.25zM173.16 115.15h3.25v3.25h-3.25zM117.55 117.80h3.25v3.25h-3.25zM146.68 117.80h3.25v3.25h-3.25zM114.90 120.45h3.25v3.25h-3.25zM128.14 120.45h3.25v3.25h-3.25zM144.03 120.45h3.25v3.25h-3.25zM112.26 123.10h3.25v3.25h-3.25zM133.44 123.10h3.25v3.25h-3.25zM109.61 125.75h3.25v3.25h-3.25zM165.22 125.75h3.25v3.25h-3.25zM80.48 128.40h3.25v3.25h-3.25zM120.20 131.05h3.25v3.25h-3.25zM120.20 133.70h3.25v3.25h-3.25zM144.03 133.70h11.19v3.25h-11.19zM162.57 133.70h3.25v3.25h-3.25zM91.07 136.35h3.25v3.25h-3.25zM114.90 136.35h5.90v3.25h-5.90zM144.03 136.35h3.25v3.25h-3.25zM104.31 141.65h3.25v3.25h-3.25zM165.22 141.65h3.25v3.25h-3.25zM64.59 144.30h3.25v3.25h-3.25zM159.92 144.30h3.25v3.25h-3.25zM64.59 146.95h3.25v3.25h-3.25z"/>
<path fill="#f57d15" d="M120.20 17.10h3.25v3.25h-3.25zM120.20 19.75h3.25v3.25h-3.25zM138.74 19.75h3.25v3.25h-3.25zM120.20 22.40h3.25v3.25h-3.25zM120.20 25.05h3.25v3.25h-3.25zM59.30 27.70h3.25v3.25h-3.25zM159.92 27.70h3.25v3.25h-3.25zM159.92 30.35h3.25v3.25h-3.25zM59.30 35.65h3.25v3.25h-3.25zM117.55 38.30h3.25v3.25h-3.25zM67.24 46.25h3.25v3.25h-3.25zM77.83 46.25h3.25v3.25h-3.25zM117.55 46.25h3.25v3.25h-3.25zM141.38 46.25h3.25v3.25h-3.25zM54.00 48.90h3.25v3.25h-3.25zM67.24 48.90h3.25v3.25h-3.25zM77.83 48.90h3.25v3.25h-3.25zM144.03 48.90h3.25v3.25h-3.25zM67.24 51.55h3.25v3.25h-3.25zM77.83 51.55h3.25v3.25h-3.25zM88.42 51.55h3.25v3.25h-3.25zM112.26 51.55h3.25v3.25h-3.25zM154.62 54.20h3.25v3.25h-3.25zM64.59 56.85h3.25v3.25h-3.25zM112.26 56.85h3.25v3.25h-3.25zM64.59 59.50h3.25v3.25h-3.25zM112.26 59.50h3.25v3.25h-3.25zM120.20 59.50h3.25v3.25h-3.25zM165.22 59.50h3.25v3.25h-3.25zM85.78 62.15h3.25v3.25h-3.25zM125.50 62.15h3.25v3.25h-3.25zM157.27 62.15h3.25v3.25h-3.25zM99.02 64.80h3.25v3.25h-3.25zM178.46 64.80h3.25v3.25h-3.25zM165.22 67.45h3.25v3.25h-3.25zM67.24 70.10h3.25v3.25h-3.25zM77.83 70.10h3.25v3.25h-3.25zM93.72 70.10h3.25v3.25h-3.25zM165.22 70.10h3.25v3.25h-3.25zM67.24 72.75h3.25v3.25h-3.25zM77.83 72.75h3.25v3.25h-3.25zM61.94 78.05h3.25v3.25h-3.25zM77.83 78.05h3.25v3.25h-3.25zM159.92 78.05h3.25v3.25h-3.25zM59.30 80.70h3.25v3.25h-3.25zM56.65 83.35h3.25v3.25h-3.25zM149.33 83.35h8.54v3.25h-8.54zM69.89 86.00h3.25v3.25h-3.25zM146.68 86.00h3.25v3.25h-3.25zM120.20 88.65h3.25v3.25h-3.25zM165.22 88.65h3.25v3.25h-3.25zM80.48 91.30h3.25v3.25h-3.25zM85.78 91.30h3.25v3.25h-3.25zM106.96 91.30h3.25v3.25h-3.25zM80.48 93.95h3.25v3.25h-3.25zM104.31 93.95h3.25v3.25h-3.25zM117.55 93.95h3.25v3.25h-3.25zM138.74 93.95h3.25v3.25h-3.25zM165.22 93.95h3.25v3.25h-3.25zM101.66 96.60h3.25v3.25h-3.25zM117.55 96.60h3.25v3.25h-3.25zM130.79 96.60h3.25v3.25h-3.25zM138.74 96.60h3.25v3.25h-3.25zM138.74 99.25h3.25v3.25h-3.25zM133.44 101.90h5.90v3.25h-5.90zM112.26 104.55h3.25v3.25h-3.25zM80.48 107.20h3.25v3.25h-3.25zM85.78 107.20h3.25v3.25h-3.25zM64.59 109.85h3.25v3.25h-3.25zM88.42 112.50h3.25v3.25h-3.25zM59.30 115.15h3.25v3.25h-3.25zM91.07 115.15h5.90v3.25h-5.90zM88.42 120.45h5.90v3.25h-5.90zM59.30 123.10h3.25v3.25h-3.25zM154.62 123.10h5.90v3.25h-5.90zM136.09 128.40h8.54v3.25h-8.54zM154.62 128.40h5.90v3.25h-5.90zM77.83 131.05h3.25v3.25h-3.25zM136.09 133.70h3.25v3.25h-3.25zM67.24 136.35h8.54v3.25h-8.54z"/>
<path fill="#f06f20" d="M122.85 17.10h5.90v3.25h-5.90zM162.57 17.10h24.43v3.25h-24.43zM122.85 19.75h3.25v3.25h-3.25zM136.09 19.75h3.25v3.25h-3.25zM162.57 19.75h24.43v3.25h-24.43zM162.57 22.40h24.43v3.25h-24.43zM138.74 25.05h3.25v3.25h-3.25zM162.57 25.05h16.49v3.25h-16.49zM183.75 25.05h3.25v3.25h-3.25zM162.57 27.70h3.25v3.25h-3.25zM59.30 30.35h3.25v3.25h-3.25zM162.57 30.35h3.25v3.25h-3.25zM59.30 33.00h3.25v3.25h-3.25zM136.09 33.00h3.25v3.25h-3.25zM141.38 33.00h3.25v3.25h-3.25zM159.92 33.00h3.25v3.25h-3.25zM141.38 35.65h5.90v3.25h-5.90zM56.65 38.30h3.25v3.25h-3.25zM144.03 38.30h5.90v3.25h-5.90zM54.00 40.95h3.25v3.25h-3.25zM117.55 40.95h3.25v3.25h-3.25zM149.33 40.95h3.25v3.25h-3.25zM154.62 40.95h3.25v3.25h-3.25zM104.31 43.60h5.90v3.25h-5.90zM112.26 43.60h3.25v3.25h-3.25zM141.38 43.60h3.25v3.25h-3.25zM149.33 43.60h3.25v3.25h-3.25zM154.62 43.60h3.25v3.25h-3.25zM54.00 46.25h3.25v3.25h-3.25zM104.31 46.25h13.84v3.25h-13.84zM149.33 46.25h3.25v3.25h-3.25zM154.62 46.25h3.25v3.25h-3.25zM114.90 48.90h3.25v3.25h-3.25zM149.33 48.90h5.90v3.25h-5.90zM69.89 51.55h3.25v3.25h-3.25zM75.18 51.55h3.25v3.25h-3.25zM91.07 51.55h5.90v3.25h-5.90zM114.90 51.55h3.25v3.25h-3.25zM149.33 51.55h3.25v3.25h-3.25zM75.18 54.20h3.25v3.25h-3.25zM114.90 54.20h3.25v3.25h-3.25zM149.33 54.20h3.25v3.25h-3.25zM159.92 54.20h3.25v3.25h-3.25zM114.90 56.85h3.25v3.25h-3.25zM144.03 56.85h3.25v3.25h-3.25zM165.22 56.85h5.90v3.25h-5.90zM99.02 59.50h3.25v3.25h-3.25zM162.57 59.50h3.25v3.25h-3.25zM99.02 62.15h3.25v3.25h-3.25zM122.85 62.15h3.25v3.25h-3.25zM141.38 62.15h3.25v3.25h-3.25zM149.33 62.15h3.25v3.25h-3.25zM159.92 62.15h5.90v3.25h-5.90zM112.26 64.80h3.25v3.25h-3.25zM136.09 64.80h16.49v3.25h-16.49zM157.27 64.80h5.90v3.25h-5.90zM181.10 64.80h3.25v3.25h-3.25zM67.24 67.45h3.25v3.25h-3.25zM112.26 67.45h3.25v3.25h-3.25zM141.38 67.45h3.25v3.25h-3.25zM154.62 67.45h3.25v3.25h-3.25zM162.57 67.45h3.25v3.25h-3.25zM181.10 67.45h3.25v3.25h-3.25zM75.18 70.10h3.25v3.25h-3.25zM112.26 70.10h3.25v3.25h-3.25zM144.03 70.10h3.25v3.25h-3.25zM157.27 70.10h3.25v3.25h-3.25zM162.57 70.10h3.25v3.25h-3.25zM181.10 70.10h3.25v3.25h-3.25zM75.18 72.75h3.25v3.25h-3.25zM112.26 72.75h3.25v3.25h-3.25zM151.98 72.75h11.19v3.25h-11.19zM183.75 72.75h3.25v3.25h-3.25zM112.26 75.40h3.25v3.25h-3.25zM146.68 83.35h3.25v3.25h-3.25zM54.00 86.00h3.25v3.25h-3.25zM54.00 91.30h3.25v3.25h-3.25zM83.13 91.30h3.25v3.25h-3.25zM112.26 91.30h5.90v3.25h-5.90zM125.50 91.30h3.25v3.25h-3.25zM167.86 91.30h3.25v3.25h-3.25zM128.14 93.95h3.25v3.25h-3.25zM136.09 93.95h3.25v3.25h-3.25zM133.44 96.60h5.90v3.25h-5.90zM114.90 99.25h3.25v3.25h-3.25zM104.31 101.90h3.25v3.25h-3.25zM106.96 104.55h3.25v3.25h-3.25zM83.13 107.20h3.25v3.25h-3.25zM61.94 112.50h3.25v3.25h-3.25zM88.42 115.15h3.25v3.25h-3.25zM93.72 117.80h3.25v3.25h-3.25zM59.30 125.75h3.25v3.25h-3.25zM141.38 125.75h3.25v3.25h-3.25zM154.62 125.75h3.25v3.25h-3.25zM175.81 125.75h3.25v3.25h-3.25zM77.83 128.40h3.25v3.25h-3.25zM128.14 131.05h3.25v3.25h-3.25zM59.30 133.70h3.25v3.25h-3.25z"/>
<path fill="#f3761b" d="M128.14 17.10h11.19v3.25h-11.19zM159.92 17.10h3.25v3.25h-3.25zM159.92 19.75h3.25v3.25h-3.25zM138.74 22.40h3.25v3.25h-3.25zM159.92 22.40h3.25v3.25h-3.25zM54.00 25.05h5.90v3.25h-5.90zM159.92 25.05h3.25v3.25h-3.25zM122.85 27.70h3.25v3.25h-3.25zM130.79 30.35h3.25v3.25h-3.25zM141.38 30.35h3.25v3.25h-3.25zM144.03 33.00h3.25v3.25h-3.25zM138.74 35.65h3.25v3.25h-3.25zM146.68 35.65h3.25v3.25h-3.25zM157.27 35.65h3.25v3.25h-3.25zM114.90 38.30h3.25v3.25h-3.25zM141.38 38.30h3.25v3.25h-3.25zM149.33 38.30h8.54v3.25h-8.54zM56.65 40.95h3.25v3.25h-3.25zM112.26 40.95h3.25v3.25h-3.25zM141.38 40.95h3.25v3.25h-3.25zM151.98 40.95h3.25v3.25h-3.25zM56.65 43.60h3.25v3.25h-3.25zM69.89 43.60h8.54v3.25h-8.54zM101.66 43.60h3.25v3.25h-3.25zM109.61 43.60h3.25v3.25h-3.25zM117.55 43.60h3.25v3.25h-3.25zM151.98 43.60h3.25v3.25h-3.25zM56.65 46.25h3.25v3.25h-3.25zM101.66 46.25h3.25v3.25h-3.25zM151.98 46.25h3.25v3.25h-3.25zM112.26 48.90h3.25v3.25h-3.25zM117.55 48.90h3.25v3.25h-3.25zM146.68 48.90h3.25v3.25h-3.25zM96.37 51.55h3.25v3.25h-3.25zM117.55 51.55h3.25v3.25h-3.25zM146.68 51.55h3.25v3.25h-3.25zM67.24 54.20h3.25v3.25h-3.25zM117.55 54.20h3.25v3.25h-3.25zM146.68 54.20h3.25v3.25h-3.25zM151.98 54.20h3.25v3.25h-3.25zM157.27 54.20h3.25v3.25h-3.25zM85.78 56.85h3.25v3.25h-3.25zM99.02 56.85h3.25v3.25h-3.25zM117.55 56.85h3.25v3.25h-3.25zM149.33 56.85h3.25v3.25h-3.25zM159.92 56.85h3.25v3.25h-3.25zM85.78 59.50h3.25v3.25h-3.25zM141.38 59.50h3.25v3.25h-3.25zM149.33 59.50h3.25v3.25h-3.25zM159.92 59.50h3.25v3.25h-3.25zM112.26 62.15h3.25v3.25h-3.25zM175.81 62.15h3.25v3.25h-3.25zM88.42 64.80h3.25v3.25h-3.25zM151.98 64.80h5.90v3.25h-5.90zM162.57 64.80h3.25v3.25h-3.25zM144.03 67.45h11.19v3.25h-11.19zM146.68 70.10h11.19v3.25h-11.19zM162.57 72.75h3.25v3.25h-3.25zM181.10 72.75h3.25v3.25h-3.25zM64.59 75.40h3.25v3.25h-3.25zM77.83 75.40h3.25v3.25h-3.25zM159.92 75.40h3.25v3.25h-3.25zM112.26 78.05h3.25v3.25h-3.25zM75.18 80.70h3.25v3.25h-3.25zM114.90 80.70h3.25v3.25h-3.25zM72.54 83.35h3.25v3.25h-3.25zM117.55 83.35h3.25v3.25h-3.25zM67.24 88.65h3.25v3.25h-3.25zM167.86 88.65h3.25v3.25h-3.25zM64.59 91.30h3.25v3.25h-3.25zM109.61 91.30h3.25v3.25h-3.25zM144.03 91.30h3.25v3.25h-3.25zM165.22 91.30h3.25v3.25h-3.25zM83.13 93.95h3.25v3.25h-3.25zM167.86 93.95h3.25v3.25h-3.25zM101.66 99.25h3.25v3.25h-3.25zM133.44 99.25h3.25v3.25h-3.25zM67.24 109.85h8.54v3.25h-8.54zM96.37 117.80h3.25v3.25h-3.25zM85.78 120.45h3.25v3.25h-3.25zM93.72 120.45h5.90v3.25h-5.90zM175.81 123.10h3.25v3.25h-3.25zM125.50 125.75h3.25v3.25h-3.25zM130.79 125.75h3.25v3.25h-3.25zM144.03 125.75h3.25v3.25h-3.25zM157.27 125.75h3.25v3.25h-3.25zM173.16 125.75h3.25v3.25h-3.25zM125.50 128.40h3.25v3.25h-3.25zM133.44 128.40h3.25v3.25h-3.25zM136.09 131.05h3.25v3.25h-3.25zM130.79 133.70h5.90v3.25h-5.90zM61.94 136.35h5.90v3.25h-5.90z"/>
<path fill="#f78410" d="M138.74 17.10h3.25v3.25h-3.25zM59.30 25.05h3.25v3.25h-3.25zM128.14 30.35h3.25v3.25h-3.25zM133.44 33.00h3.25v3.25h-3.25zM136.09 35.65h3.25v3.25h-3.25zM149.33 35.65h3.25v3.25h-3.25zM154.62 35.65h3.25v3.25h-3.25zM59.30 38.30h3.25v3.25h-3.25zM138.74 38.30h3.25v3.25h-3.25zM104.31 40.95h3.25v3.25h-3.25zM109.61 40.95h3.25v3.25h-3.25zM77.83 43.60h3.25v3.25h-3.25zM99.02 46.25h3.25v3.25h-3.25zM56.65 48.90h3.25v3.25h-3.25zM93.72 48.90h19.14v3.25h-19.14zM99.02 51.55h3.25v3.25h-3.25zM77.83 54.20h3.25v3.25h-3.25zM85.78 54.20h3.25v3.25h-3.25zM99.02 54.20h3.25v3.25h-3.25zM112.26 54.20h3.25v3.25h-3.25zM144.03 54.20h3.25v3.25h-3.25zM77.83 56.85h3.25v3.25h-3.25zM141.38 56.85h3.25v3.25h-3.25zM170.51 59.50h3.25v3.25h-3.25zM138.74 62.15h3.25v3.25h-3.25zM151.98 62.15h3.25v3.25h-3.25zM165.22 62.15h3.25v3.25h-3.25zM77.83 64.80h3.25v3.25h-3.25zM165.22 64.80h3.25v3.25h-3.25zM77.83 67.45h3.25v3.25h-3.25zM88.42 67.45h3.25v3.25h-3.25zM178.46 67.45h3.25v3.25h-3.25zM91.07 70.10h3.25v3.25h-3.25zM96.37 70.10h3.25v3.25h-3.25zM178.46 70.10h3.25v3.25h-3.25zM178.46 72.75h3.25v3.25h-3.25zM181.10 75.40h5.90v3.25h-5.90zM112.26 80.70h3.25v3.25h-3.25zM159.92 80.70h3.25v3.25h-3.25zM54.00 83.35h3.25v3.25h-3.25zM157.27 83.35h3.25v3.25h-3.25zM117.55 86.00h3.25v3.25h-3.25zM83.13 88.65h5.90v3.25h-5.90zM146.68 88.65h3.25v3.25h-3.25zM117.55 91.30h3.25v3.25h-3.25zM146.68 91.30h3.25v3.25h-3.25zM170.51 91.30h3.25v3.25h-3.25zM85.78 93.95h3.25v3.25h-3.25zM141.38 93.95h3.25v3.25h-3.25zM117.55 99.25h3.25v3.25h-3.25zM101.66 101.90h3.25v3.25h-3.25zM114.90 101.90h3.25v3.25h-3.25zM138.74 101.90h3.25v3.25h-3.25zM106.96 107.20h5.90v3.25h-5.90zM59.30 112.50h3.25v3.25h-3.25zM96.37 115.15h3.25v3.25h-3.25zM59.30 117.80h3.25v3.25h-3.25zM99.02 117.80h3.25v3.25h-3.25zM59.30 120.45h3.25v3.25h-3.25zM99.02 120.45h3.25v3.25h-3.25zM128.14 123.10h3.25v3.25h-3.25zM141.38 123.10h5.90v3.25h-5.90zM173.16 123.10h3.25v3.25h-3.25zM178.46 123.10h3.25v3.25h-3.25zM138.74 125.75h3.25v3.25h-3.25zM178.46 125.75h3.25v3.25h-3.25zM144.03 128.40h3.25v3.25h-3.25zM173.16 128.40h5.90v3.25h-5.90zM125.50 131.05h3.25v3.25h-3.25zM138.74 131.05h3.25v3.25h-3.25zM128.14 133.70h3.25v3.25h-3.25zM59.30 136.35h3.25v3.25h-3.25zM75.18 136.35h3.25v3.25h-3.25z"/>
<path fill="#f98b0b" d="M157.27 17.10h3.25v3.25h-3.25zM157.27 19.75h3.25v3.25h-3.25zM54.00 22.40h5.90v3.25h-5.90zM117.55 22.40h3.25v3.25h-3.25zM157.27 22.40h3.25v3.25h-3.25zM157.27 25.05h3.25v3.25h-3.25zM120.20 27.70h3.25v3.25h-3.25zM141.38 27.70h3.25v3.25h-3.25zM122.85 30.35h5.90v3.25h-5.90zM144.03 30.35h3.25v3.25h-3.25zM146.68 33.00h3.25v3.25h-3.25zM157.27 33.00h3.25v3.25h-3.25zM151.98 35.65h3.25v3.25h-3.25zM112.26 38.30h3.25v3.25h-3.25zM59.30 40.95h3.25v3.25h-3.25zM72.54 40.95h5.90v3.25h-5.90zM101.66 40.95h3.25v3.25h-3.25zM106.96 40.95h3.25v3.25h-3.25zM120.20 40.95h3.25v3.25h-3.25zM138.74 40.95h3.25v3.25h-3.25zM59.30 43.60h3.25v3.25h-3.25zM67.24 43.60h3.25v3.25h-3.25zM120.20 43.60h3.25v3.25h-3.25zM59.30 46.25h3.25v3.25h-3.25zM120.20 46.25h3.25v3.25h-3.25zM91.07 48.90h3.25v3.25h-3.25zM120.20 48.90h3.25v3.25h-3.25zM120.20 51.55h3.25v3.25h-3.25zM144.03 51.55h3.25v3.25h-3.25zM64.59 54.20h3.25v3.25h-3.25zM120.20 54.20h3.25v3.25h-3.25zM120.20 56.85h3.25v3.25h-3.25zM151.98 56.85h3.25v3.25h-3.25zM157.27 56.85h3.25v3.25h-3.25zM77.83 59.50h3.25v3.25h-3.25zM151.98 59.50h3.25v3.25h-3.25zM157.27 59.50h3.25v3.25h-3.25zM167.86 59.50h3.25v3.25h-3.25zM64.59 62.15h3.25v3.25h-3.25zM77.83 62.15h3.25v3.25h-3.25zM128.14 62.15h3.25v3.25h-3.25zM154.62 62.15h3.25v3.25h-3.25zM173.16 62.15h3.25v3.25h-3.25zM85.78 64.80h3.25v3.25h-3.25zM99.02 67.45h3.25v3.25h-3.25zM64.59 72.75h3.25v3.25h-3.25zM165.22 72.75h3.25v3.25h-3.25zM61.94 75.40h3.25v3.25h-3.25zM80.48 75.40h3.25v3.25h-3.25zM162.57 75.40h3.25v3.25h-3.25zM178.46 75.40h3.25v3.25h-3.25zM59.30 78.05h3.25v3.25h-3.25zM80.48 78.05h3.25v3.25h-3.25zM77.83 80.70h3.25v3.25h-3.25zM75.18 83.35h3.25v3.25h-3.25zM80.48 88.65h3.25v3.25h-3.25zM109.61 88.65h11.19v3.25h-11.19zM67.24 91.30h3.25v3.25h-3.25zM122.85 91.30h3.25v3.25h-3.25zM54.00 93.95h11.19v3.25h-11.19zM77.83 93.95h3.25v3.25h-3.25zM125.50 93.95h3.25v3.25h-3.25zM144.03 93.95h5.90v3.25h-5.90zM170.51 93.95h3.25v3.25h-3.25zM80.48 96.60h5.90v3.25h-5.90zM141.38 96.60h3.25v3.25h-3.25zM167.86 96.60h3.25v3.25h-3.25zM99.02 99.25h3.25v3.25h-3.25zM130.79 99.25h3.25v3.25h-3.25zM130.79 101.90h3.25v3.25h-3.25zM83.13 104.55h5.90v3.25h-5.90zM104.31 104.55h3.25v3.25h-3.25zM88.42 107.20h3.25v3.25h-3.25zM112.26 107.20h3.25v3.25h-3.25zM61.94 109.85h3.25v3.25h-3.25zM88.42 109.85h3.25v3.25h-3.25zM99.02 115.15h3.25v3.25h-3.25zM157.27 120.45h3.25v3.25h-3.25zM175.81 120.45h3.25v3.25h-3.25zM96.37 123.10h3.25v3.25h-3.25zM125.50 123.10h3.25v3.25h-3.25zM151.98 123.10h3.25v3.25h-3.25zM159.92 123.10h3.25v3.25h-3.25zM133.44 125.75h3.25v3.25h-3.25zM151.98 125.75h3.25v3.25h-3.25zM159.92 125.75h3.25v3.25h-3.25zM170.51 125.75h3.25v3.25h-3.25zM56.65 128.40h3.25v3.25h-3.25zM151.98 128.40h3.25v3.25h-3.25zM159.92 128.40h3.25v3.25h-3.25zM170.51 128.40h3.25v3.25h-3.25zM178.46 128.40h3.25v3.25h-3.25zM56.65 131.05h3.25v3.25h-3.25zM56.65 133.70h3.25v3.25h-3.25zM77.83 133.70h3.25v3.25h-3.25zM125.50 133.70h3.25v3.25h-3.25zM138.74 133.70h3.25v3.25h-3.25zM56.65 136.35h3.25v3.25h-3.25zM133.44 136.35h3.25v3.25h-3.25z"/>
<path fill="#fbba1f" d="M72.54 19.75h3.25v3.25h-3.25zM144.03 22.40h3.25v3.25h-3.25zM144.03 25.05h3.25v3.25h-3.25zM67.24 27.70h3.25v3.25h-3.25zM106.96 27.70h3.25v3.25h-3.25zM151.98 27.70h3.25v3.25h-3.25zM117.55 30.35h3.25v3.25h-3.25zM77.83 35.65h3.25v3.25h-3.25zM91.07 35.65h3.25v3.25h-3.25zM104.31 35.65h3.25v3.25h-3.25zM125.50 46.25h3.25v3.25h-3.25zM125.50 48.90h3.25v3.25h-3.25zM125.50 51.55h3.25v3.25h-3.25zM138.74 51.55h3.25v3.25h-3.25zM138.74 54.20h3.25v3.25h-3.25zM56.65 56.85h3.25v3.25h-3.25zM101.66 64.80h3.25v3.25h-3.25zM54.00 70.10h11.19v3.25h-11.19zM99.02 72.75h3.25v3.25h-3.25zM88.42 75.40h3.25v3.25h-3.25zM167.86 75.40h5.90v3.25h-5.90zM85.78 78.05h3.25v3.25h-3.25zM85.78 80.70h3.25v3.25h-3.25zM104.31 80.70h3.25v3.25h-3.25zM170.51 83.35h3.25v3.25h-3.25zM151.98 88.65h3.25v3.25h-3.25zM151.98 91.30h3.25v3.25h-3.25zM159.92 91.30h3.25v3.25h-3.25zM59.30 96.60h5.90v3.25h-5.90zM75.18 101.90h3.25v3.25h-3.25zM72.54 104.55h3.25v3.25h-3.25zM61.94 107.20h3.25v3.25h-3.25zM128.14 107.20h5.90v3.25h-5.90zM144.03 109.85h3.25v3.25h-3.25zM120.20 112.50h3.25v3.25h-3.25zM167.86 115.15h5.90v3.25h-5.90zM165.22 117.80h3.25v3.25h-3.25zM165.22 120.45h3.25v3.25h-3.25zM170.51 120.45h3.25v3.25h-3.25zM114.90 123.10h3.25v3.25h-3.25zM120.20 123.10h3.25v3.25h-3.25zM96.37 128.40h3.25v3.25h-3.25zM88.42 133.70h3.25v3.25h-3.25zM80.48 136.35h3.25v3.25h-3.25zM85.78 136.35h3.25v3.25h-3.25zM109.61 136.35h3.25v3.25h-3.25zM77.83 139.00h3.25v3.25h-3.25zM85.78 139.00h3.25v3.25h-3.25zM93.72 139.00h3.25v3.25h-3.25zM104.31 139.00h3.25v3.25h-3.25zM165.22 139.00h3.25v3.25h-3.25zM69.89 141.65h3.25v3.25h-3.25zM101.66 141.65h3.25v3.25h-3.25zM162.57 141.65h3.25v3.25h-3.25zM67.24 144.30h3.25v3.25h-3.25zM99.02 144.30h3.25v3.25h-3.25zM157.27 146.95h3.25v3.25h-3.25z"/>
<path fill="#f5d949" d="M77.83 19.75h5.90v3.25h-5.90zM72.54 22.40h3.25v3.25h-3.25zM93.72 22.40h3.25v3.25h-3.25zM93.72 25.05h3.25v3.25h-3.25zM93.72 27.70h3.25v3.25h-3.25zM130.79 46.25h3.25v3.25h-3.25zM130.79 48.90h5.90v3.25h-5.90zM130.79 54.20h5.90v3.25h-5.90zM54.00 59.50h5.90v3.25h-5.90zM61.94 64.80h3.25v3.25h-3.25zM104.31 72.75h5.90v3.25h-5.90zM175.81 86.00h5.90v3.25h-5.90zM181.10 88.65h3.25v3.25h-3.25zM175.81 91.30h3.25v3.25h-3.25zM56.65 99.25h8.54v3.25h-8.54zM54.00 101.90h3.25v3.25h-3.25zM56.65 104.55h8.54v3.25h-8.54zM125.50 109.85h3.25v3.25h-3.25zM122.85 112.50h3.25v3.25h-3.25zM141.38 112.50h3.25v3.25h-3.25zM136.09 115.15h3.25v3.25h-3.25zM122.85 117.80h3.25v3.25h-3.25zM128.14 117.80h5.90v3.25h-5.90zM138.74 117.80h5.90v3.25h-5.90zM88.42 125.75h3.25v3.25h-3.25zM83.13 128.40h3.25v3.25h-3.25zM91.07 128.40h3.25v3.25h-3.25zM109.61 128.40h3.25v3.25h-3.25zM114.90 128.40h3.25v3.25h-3.25zM83.13 131.05h3.25v3.25h-3.25zM88.42 131.05h3.25v3.25h-3.25zM104.31 131.05h3.25v3.25h-3.25zM114.90 131.05h3.25v3.25h-3.25zM101.66 133.70h3.25v3.25h-3.25zM96.37 136.35h8.54v3.25h-8.54zM99.02 139.00h3.25v3.25h-3.25zM149.33 139.00h5.90v3.25h-5.90zM154.62 141.65h3.25v3.25h-3.25zM154.62 144.30h3.25v3.25h-3.25zM69.89 146.95h3.25v3.25h-3.25zM88.42 146.95h3.25v3.25h-3.25zM154.62 146.95h3.25v3.25h-3.25z"/>
<path fill="#ed6925" d="M125.50 19.75h11.19v3.25h-11.19zM122.85 22.40h3.25v3.25h-3.25zM122.85 25.05h3.25v3.25h-3.25zM178.46 25.05h5.90v3.25h-5.90zM125.50 27.70h3.25v3.25h-3.25zM138.74 27.70h3.25v3.25h-3.25zM165.22 27.70h11.19v3.25h-11.19zM133.44 30.35h3.25v3.25h-3.25zM165.22 30.35h3.25v3.25h-3.25zM138.74 33.00h3.25v3.25h-3.25zM54.00 38.30h3.25v3.25h-3.25zM114.90 40.95h3.25v3.25h-3.25zM144.03 40.95h5.90v3.25h-5.90zM54.00 43.60h3.25v3.25h-3.25zM114.90 43.60h3.25v3.25h-3.25zM146.68 43.60h3.25v3.25h-3.25zM69.89 46.25h3.25v3.25h-3.25zM75.18 46.25h3.25v3.25h-3.25zM144.03 46.25h5.90v3.25h-5.90zM69.89 48.90h3.25v3.25h-3.25zM75.18 48.90h3.25v3.25h-3.25zM154.62 48.90h3.25v3.25h-3.25zM72.54 51.55h3.25v3.25h-3.25zM151.98 51.55h8.54v3.25h-8.54zM96.37 54.20h3.25v3.25h-3.25zM75.18 56.85h3.25v3.25h-3.25zM146.68 56.85h3.25v3.25h-3.25zM162.57 56.85h3.25v3.25h-3.25zM75.18 59.50h3.25v3.25h-3.25zM114.90 59.50h5.90v3.25h-5.90zM173.16 59.50h3.25v3.25h-3.25zM75.18 62.15h3.25v3.25h-3.25zM146.68 62.15h3.25v3.25h-3.25zM178.46 62.15h5.90v3.25h-5.90zM75.18 64.80h3.25v3.25h-3.25zM133.44 64.80h3.25v3.25h-3.25zM183.75 64.80h3.25v3.25h-3.25zM75.18 67.45h3.25v3.25h-3.25zM91.07 67.45h3.25v3.25h-3.25zM138.74 67.45h3.25v3.25h-3.25zM157.27 67.45h5.90v3.25h-5.90zM183.75 67.45h3.25v3.25h-3.25zM69.89 70.10h3.25v3.25h-3.25zM141.38 70.10h3.25v3.25h-3.25zM159.92 70.10h3.25v3.25h-3.25zM183.75 70.10h3.25v3.25h-3.25zM69.89 72.75h5.90v3.25h-5.90zM144.03 72.75h8.54v3.25h-8.54zM67.24 75.40h3.25v3.25h-3.25zM75.18 75.40h3.25v3.25h-3.25zM75.18 78.05h3.25v3.25h-3.25zM61.94 80.70h3.25v3.25h-3.25zM157.27 80.70h3.25v3.25h-3.25zM59.30 83.35h3.25v3.25h-3.25zM56.65 86.00h3.25v3.25h-3.25zM120.20 86.00h3.25v3.25h-3.25zM54.00 88.65h3.25v3.25h-3.25zM122.85 88.65h3.25v3.25h-3.25zM56.65 91.30h8.54v3.25h-8.54zM141.38 91.30h3.25v3.25h-3.25zM106.96 93.95h3.25v3.25h-3.25zM130.79 93.95h5.90v3.25h-5.90zM104.31 96.60h3.25v3.25h-3.25zM136.09 99.25h3.25v3.25h-3.25zM112.26 101.90h3.25v3.25h-3.25zM109.61 104.55h3.25v3.25h-3.25zM75.18 109.85h3.25v3.25h-3.25zM85.78 109.85h3.25v3.25h-3.25zM64.59 112.50h3.25v3.25h-3.25zM61.94 115.15h3.25v3.25h-3.25zM61.94 117.80h3.25v3.25h-3.25zM88.42 117.80h5.90v3.25h-5.90zM61.94 120.45h3.25v3.25h-3.25zM128.14 125.75h3.25v3.25h-3.25zM59.30 128.40h3.25v3.25h-3.25zM128.14 128.40h5.90v3.25h-5.90zM59.30 131.05h3.25v3.25h-3.25zM130.79 131.05h5.90v3.25h-5.90zM75.18 133.70h3.25v3.25h-3.25z"/>
<path fill="#f2e865" d="M75.18 22.40h3.25v3.25h-3.25zM83.13 22.40h3.25v3.25h-3.25zM72.54 25.05h3.25v3.25h-3.25zM77.83 30.35h5.90v3.25h-5.90zM85.78 30.35h5.90v3.25h-5.90zM59.30 62.15h3.25v3.25h-3.25zM54.00 67.45h8.54v3.25h-8.54zM104.31 70.10h5.90v3.25h-5.90zM59.30 101.90h5.90v3.25h-5.90zM128.14 109.85h3.25v3.25h-3.25zM85.78 128.40h3.25v3.25h-3.25zM80.48 141.65h5.90v3.25h-5.90zM151.98 141.65h3.25v3.25h-3.25zM72.54 144.30h3.25v3.25h-3.25zM85.78 146.95h3.25v3.25h-3.25zM144.03 146.95h3.25v3.25h-3.25z"/>
<path fill="#f1ef75" d="M77.83 22.40h5.90v3.25h-5.90zM85.78 22.40h5.90v3.25h-5.90zM91.07 25.05h3.25v3.25h-3.25zM91.07 27.70h3.25v3.25h-3.25zM56.65 62.15h3.25v3.25h-3.25zM104.31 67.45h5.90v3.25h-5.90zM130.79 115.15h3.25v3.25h-3.25zM106.96 131.05h3.25v3.25h-3.25zM112.26 131.05h3.25v3.25h-3.25zM106.96 133.70h5.90v3.25h-5.90zM149.33 141.65h3.25v3.25h-3.25zM151.98 144.30h3.25v3.25h-3.25zM72.54 146.95h3.25v3.25h-3.25zM151.98 146.95h3.25v3.25h-3.25z"/>
<path fill="#f4e156" d="M91.07 22.40h3.25v3.25h-3.25zM72.54 27.70h3.25v3.25h-3.25zM75.18 30.35h3.25v3.25h-3.25zM83.13 30.35h3.25v3.25h-3.25zM91.07 30.35h3.25v3.25h-3.25zM133.44 46.25h3.25v3.25h-3.25zM130.79 56.85h5.90v3.25h-5.90zM104.31 64.80h5.90v3.25h-5.90zM175.81 88.65h5.90v3.25h-5.90zM178.46 91.30h3.25v3.25h-3.25zM56.65 101.90h3.25v3.25h-3.25zM130.79 109.85h3.25v3.25h-3.25zM133.44 112.50h3.25v3.25h-3.25zM122.85 115.15h3.25v3.25h-3.25zM133.44 115.15h3.25v3.25h-3.25zM138.74 115.15h5.90v3.25h-5.90zM125.50 117.80h3.25v3.25h-3.25zM85.78 125.75h3.25v3.25h-3.25zM88.42 128.40h3.25v3.25h-3.25zM112.26 128.40h3.25v3.25h-3.25zM85.78 131.05h3.25v3.25h-3.25zM104.31 133.70h3.25v3.25h-3.25zM112.26 133.70h3.25v3.25h-3.25zM77.83 141.65h3.25v3.25h-3.25zM146.68 141.65h3.25v3.25h-3.25zM85.78 144.30h3.25v3.25h-3.25zM144.03 144.30h3.25v3.25h-3.25z"/>
<path fill="#e65d2f" d="M125.50 22.40h3.25v3.25h-3.25zM136.09 22.40h3.25v3.25h-3.25zM54.00 27.70h3.25v3.25h-3.25zM128.14 27.70h3.25v3.25h-3.25zM136.09 30.35h3.25v3.25h-3.25zM173.16 30.35h3.25v3.25h-3.25zM165.22 33.00h3.25v3.25h-3.25zM56.65 35.65h3.25v3.25h-3.25zM159.92 35.65h3.25v3.25h-3.25zM157.27 38.30h3.25v3.25h-3.25zM157.27 46.25h3.25v3.25h-3.25zM157.27 48.90h3.25v3.25h-3.25zM165.22 54.20h3.25v3.25h-3.25zM96.37 56.85h3.25v3.25h-3.25zM88.42 62.15h3.25v3.25h-3.25zM120.20 62.15h3.25v3.25h-3.25zM130.79 64.80h3.25v3.25h-3.25zM136.09 67.45h3.25v3.25h-3.25zM138.74 70.10h3.25v3.25h-3.25zM69.89 75.40h5.90v3.25h-5.90zM144.03 75.40h3.25v3.25h-3.25zM157.27 78.05h3.25v3.25h-3.25zM64.59 88.65h3.25v3.25h-3.25zM138.74 91.30h3.25v3.25h-3.25zM109.61 93.95h5.90v3.25h-5.90zM106.96 101.90h3.25v3.25h-3.25zM77.83 109.85h3.25v3.25h-3.25zM69.89 112.50h3.25v3.25h-3.25zM85.78 112.50h3.25v3.25h-3.25zM64.59 115.15h3.25v3.25h-3.25zM64.59 117.80h3.25v3.25h-3.25zM61.94 123.10h3.25v3.25h-3.25zM61.94 133.70h3.25v3.25h-3.25zM69.89 133.70h3.25v3.25h-3.25z"/>
<path fill="#e25734" d="M128.14 22.40h3.25v3.25h-3.25zM125.50 25.05h3.25v3.25h-3.25zM175.81 30.35h11.19v3.25h-11.19zM167.86 33.00h3.25v3.25h-3.25zM54.00 35.65h3.25v3.25h-3.25zM157.27 40.95h3.25v3.25h-3.25zM157.27 43.60h3.25v3.25h-3.25zM162.57 51.55h3.25v3.25h-3.25zM91.07 54.20h5.90v3.25h-5.90zM69.89 56.85h5.90v3.25h-5.90zM88.42 56.85h3.25v3.25h-3.25zM67.24 59.50h3.25v3.25h-3.25zM175.81 59.50h3.25v3.25h-3.25zM181.10 59.50h5.90v3.25h-5.90zM67.24 62.15h3.25v3.25h-3.25zM114.90 62.15h3.25v3.25h-3.25zM91.07 64.80h3.25v3.25h-3.25zM128.14 64.80h3.25v3.25h-3.25zM69.89 67.45h5.90v3.25h-5.90zM93.72 67.45h3.25v3.25h-3.25zM141.38 75.40h3.25v3.25h-3.25zM146.68 75.40h3.25v3.25h-3.25zM154.62 75.40h3.25v3.25h-3.25zM72.54 78.05h3.25v3.25h-3.25zM114.90 78.05h3.25v3.25h-3.25zM144.03 78.05h3.25v3.25h-3.25zM64.59 80.70h3.25v3.25h-3.25zM117.55 80.70h3.25v3.25h-3.25zM146.68 80.70h5.90v3.25h-5.90zM59.30 86.00h3.25v3.25h-3.25zM144.03 86.00h3.25v3.25h-3.25zM59.30 88.65h3.25v3.25h-3.25zM136.09 91.30h3.25v3.25h-3.25zM106.96 96.60h3.25v3.25h-3.25zM112.26 96.60h3.25v3.25h-3.25zM112.26 99.25h3.25v3.25h-3.25zM109.61 101.90h3.25v3.25h-3.25zM83.13 109.85h3.25v3.25h-3.25zM67.24 115.15h3.25v3.25h-3.25zM85.78 117.80h3.25v3.25h-3.25zM75.18 131.05h3.25v3.25h-3.25zM67.24 133.70h3.25v3.25h-3.25z"/>
<path fill="#de5238" d="M130.79 22.40h5.90v3.25h-5.90zM136.09 25.05h3.25v3.25h-3.25zM130.79 27.70h3.25v3.25h-3.25zM136.09 27.70h3.25v3.25h-3.25zM56.65 30.35h3.25v3.25h-3.25zM56.65 33.00h3.25v3.25h-3.25zM170.51 33.00h3.25v3.25h-3.25zM162.57 35.65h3.25v3.25h-3.25zM159.92 48.90h3.25v3.25h-3.25zM167.86 54.20h3.25v3.25h-3.25zM72.54 59.50h3.25v3.25h-3.25zM88.42 59.50h3.25v3.25h-3.25zM178.46 59.50h3.25v3.25h-3.25zM117.55 62.15h3.25v3.25h-3.25zM125.50 64.80h3.25v3.25h-3.25zM138.74 72.75h3.25v3.25h-3.25zM149.33 75.40h5.90v3.25h-5.90zM67.24 78.05h3.25v3.25h-3.25zM146.68 78.05h3.25v3.25h-3.25zM69.89 80.70h3.25v3.25h-3.25zM144.03 80.70h3.25v3.25h-3.25zM151.98 80.70h5.90v3.25h-5.90zM61.94 83.35h3.25v3.25h-3.25zM67.24 83.35h3.25v3.25h-3.25zM144.03 83.35h3.25v3.25h-3.25zM64.59 86.00h3.25v3.25h-3.25zM61.94 88.65h3.25v3.25h-3.25zM128.14 91.30h3.25v3.25h-3.25zM109.61 96.60h3.25v3.25h-3.25zM106.96 99.25h3.25v3.25h-3.25zM80.48 109.85h3.25v3.25h-3.25zM72.54 112.50h3.25v3.25h-3.25zM85.78 115.15h3.25v3.25h-3.25zM77.83 125.75h3.25v3.25h-3.25zM64.59 133.70h3.25v3.25h-3.25z"/>
<path fill="#f6fa96" d="M75.18 25.05h16.49v3.25h-16.49zM77.83 27.70h5.90v3.25h-5.90zM85.78 27.70h5.90v3.25h-5.90zM54.00 64.80h5.90v3.25h-5.90zM128.14 115.15h3.25v3.25h-3.25zM109.61 131.05h3.25v3.25h-3.25zM77.83 144.30h3.25v3.25h-3.25zM149.33 144.30h3.25v3.25h-3.25zM83.13 146.95h3.25v3.25h-3.25zM146.68 146.95h5.90v3.25h-5.90z"/>
<path fill="#d94d3d" d="M128.14 25.05h3.25v3.25h-3.25zM133.44 27.70h3.25v3.25h-3.25zM165.22 35.65h3.25v3.25h-3.25zM159.92 38.30h3.25v3.25h-3.25zM173.16 56.85h3.25v3.25h-3.25zM96.37 59.50h3.25v3.25h-3.25zM72.54 62.15h3.25v3.25h-3.25zM72.54 64.80h3.25v3.25h-3.25zM96.37 64.80h3.25v3.25h-3.25zM122.85 64.80h3.25v3.25h-3.25zM133.44 67.45h3.25v3.25h-3.25zM136.09 70.10h3.25v3.25h-3.25zM69.89 78.05h3.25v3.25h-3.25zM67.24 80.70h3.25v3.25h-3.25zM64.59 83.35h3.25v3.25h-3.25zM120.20 83.35h3.25v3.25h-3.25zM61.94 86.00h3.25v3.25h-3.25zM125.50 88.65h3.25v3.25h-3.25zM133.44 91.30h3.25v3.25h-3.25zM109.61 99.25h3.25v3.25h-3.25zM64.59 120.45h3.25v3.25h-3.25zM61.94 125.75h3.25v3.25h-3.25zM72.54 131.05h3.25v3.25h-3.25z"/>
<path fill="#d44842" d="M130.79 25.05h5.90v3.25h-5.90zM54.00 30.35h3.25v3.25h-3.25zM54.00 33.00h3.25v3.25h-3.25zM173.16 33.00h3.25v3.25h-3.25zM167.86 35.65h3.25v3.25h-3.25zM165.22 51.55h3.25v3.25h-3.25zM91.07 56.85h5.90v3.25h-5.90zM69.89 59.50h3.25v3.25h-3.25zM91.07 62.15h3.25v3.25h-3.25zM96.37 62.15h3.25v3.25h-3.25zM69.89 64.80h3.25v3.25h-3.25zM93.72 64.80h3.25v3.25h-3.25zM141.38 78.05h3.25v3.25h-3.25zM149.33 78.05h3.25v3.25h-3.25zM154.62 78.05h3.25v3.25h-3.25zM122.85 86.00h3.25v3.25h-3.25zM141.38 88.65h3.25v3.25h-3.25zM130.79 91.30h3.25v3.25h-3.25zM69.89 115.15h3.25v3.25h-3.25zM67.24 117.80h3.25v3.25h-3.25zM61.94 128.40h3.25v3.25h-3.25zM61.94 131.05h3.25v3.25h-3.25z"/>
<path fill="#ea632a" d="M56.65 27.70h3.25v3.25h-3.25zM175.81 27.70h11.19v3.25h-11.19zM138.74 30.35h3.25v3.25h-3.25zM167.86 30.35h5.90v3.25h-5.90zM162.57 33.00h3.25v3.25h-3.25zM144.03 43.60h3.25v3.25h-3.25zM72.54 46.25h3.25v3.25h-3.25zM72.54 48.90h3.25v3.25h-3.25zM159.92 51.55h3.25v3.25h-3.25zM69.89 54.20h5.90v3.25h-5.90zM88.42 54.20h3.25v3.25h-3.25zM162.57 54.20h3.25v3.25h-3.25zM67.24 56.85h3.25v3.25h-3.25zM170.51 56.85h3.25v3.25h-3.25zM144.03 59.50h5.90v3.25h-5.90zM144.03 62.15h3.25v3.25h-3.25zM183.75 62.15h3.25v3.25h-3.25zM67.24 64.80h3.25v3.25h-3.25zM96.37 67.45h3.25v3.25h-3.25zM72.54 70.10h3.25v3.25h-3.25zM141.38 72.75h3.25v3.25h-3.25zM157.27 75.40h3.25v3.25h-3.25zM64.59 78.05h3.25v3.25h-3.25zM72.54 80.70h3.25v3.25h-3.25zM69.89 83.35h3.25v3.25h-3.25zM67.24 86.00h3.25v3.25h-3.25zM56.65 88.65h3.25v3.25h-3.25zM144.03 88.65h3.25v3.25h-3.25zM114.90 93.95h3.25v3.25h-3.25zM114.90 96.60h3.25v3.25h-3.25zM104.31 99.25h3.25v3.25h-3.25zM67.24 112.50h3.25v3.25h-3.25zM83.13 120.45h3.25v3.25h-3.25zM80.48 123.10h3.25v3.25h-3.25zM72.54 133.70h3.25v3.25h-3.25z"/>
<path fill="#f3f586" d="M75.18 27.70h3.25v3.25h-3.25zM83.13 27.70h3.25v3.25h-3.25zM54.00 62.15h3.25v3.25h-3.25zM59.30 64.80h3.25v3.25h-3.25zM125.50 112.50h3.25v3.25h-3.25zM130.79 112.50h3.25v3.25h-3.25zM125.50 115.15h3.25v3.25h-3.25zM75.18 144.30h3.25v3.25h-3.25zM83.13 144.30h3.25v3.25h-3.25zM146.68 144.30h3.25v3.25h-3.25z"/>
<path fill="#cf4446" d="M175.81 33.00h3.25v3.25h-3.25zM183.75 33.00h3.25v3.25h-3.25zM159.92 46.25h3.25v3.25h-3.25zM162.57 48.90h3.25v3.25h-3.25zM183.75 56.85h3.25v3.25h-3.25zM91.07 59.50h3.25v3.25h-3.25zM69.89 62.15h3.25v3.25h-3.25zM114.90 64.80h3.25v3.25h-3.25zM114.90 75.40h3.25v3.25h-3.25zM151.98 78.05h3.25v3.25h-3.25zM83.13 112.50h3.25v3.25h-3.25zM83.13 117.80h3.25v3.25h-3.25zM75.18 128.40h3.25v3.25h-3.25zM69.89 131.05h3.25v3.25h-3.25z"/>
<path fill="#ca404a" d="M178.46 33.00h5.90v3.25h-5.90zM170.51 35.65h3.25v3.25h-3.25zM162.57 38.30h3.25v3.25h-3.25zM159.92 40.95h3.25v3.25h-3.25zM159.92 43.60h3.25v3.25h-3.25zM170.51 54.20h3.25v3.25h-3.25zM175.81 56.85h3.25v3.25h-3.25zM181.10 56.85h3.25v3.25h-3.25zM93.72 59.50h3.25v3.25h-3.25zM93.72 62.15h3.25v3.25h-3.25zM120.20 64.80h3.25v3.25h-3.25zM130.79 67.45h3.25v3.25h-3.25zM138.74 75.40h3.25v3.25h-3.25zM117.55 78.05h3.25v3.25h-3.25zM75.18 112.50h3.25v3.25h-3.25zM80.48 120.45h3.25v3.25h-3.25zM64.59 123.10h3.25v3.25h-3.25z"/>
<path fill="#b73557" d="M173.16 35.65h3.25v3.25h-3.25zM165.22 40.95h3.25v3.25h-3.25zM162.57 43.60h3.25v3.25h-3.25zM173.16 54.20h3.25v3.25h-3.25zM128.14 67.45h3.25v3.25h-3.25zM141.38 83.35h3.25v3.25h-3.25zM69.89 117.80h3.25v3.25h-3.25zM64.59 125.75h3.25v3.25h-3.25zM64.59 128.40h3.25v3.25h-3.25zM72.54 128.40h3.25v3.25h-3.25z"/>
<path fill="#a52c60" d="M175.81 35.65h3.25v3.25h-3.25zM183.75 35.65h3.25v3.25h-3.25zM167.86 48.90h3.25v3.25h-3.25zM170.51 51.55h3.25v3.25h-3.25zM175.81 54.20h3.25v3.25h-3.25zM183.75 54.20h3.25v3.25h-3.25zM133.44 88.65h3.25v3.25h-3.25zM75.18 115.15h3.25v3.25h-3.25zM67.24 123.10h3.25v3.25h-3.25zM67.24 128.40h3.25v3.25h-3.25z"/>
<path fill="#982766" d="M178.46 35.65h5.90v3.25h-5.90zM167.86 43.60h3.25v3.25h-3.25zM167.86 46.25h3.25v3.25h-3.25zM178.46 54.20h5.90v3.25h-5.90zM133.44 72.75h3.25v3.25h-3.25zM136.09 75.40h3.25v3.25h-3.25zM138.74 86.00h3.25v3.25h-3.25zM72.54 117.80h3.25v3.25h-3.25zM69.89 120.45h3.25v3.25h-3.25zM77.83 120.45h3.25v3.25h-3.25zM67.24 125.75h3.25v3.25h-3.25z"/>
<path fill="#c43c4e" d="M165.22 38.30h3.25v3.25h-3.25zM178.46 56.85h3.25v3.25h-3.25zM117.55 64.80h3.25v3.25h-3.25zM114.90 67.45h3.25v3.25h-3.25zM114.90 72.75h3.25v3.25h-3.25zM136.09 72.75h3.25v3.25h-3.25zM141.38 80.70h3.25v3.25h-3.25zM138.74 88.65h3.25v3.25h-3.25zM83.13 115.15h3.25v3.25h-3.25zM64.59 131.05h5.90v3.25h-5.90z"/>
<path fill="#bf3952" d="M167.86 38.30h3.25v3.25h-3.25zM162.57 40.95h3.25v3.25h-3.25zM162.57 46.25h3.25v3.25h-3.25zM165.22 48.90h3.25v3.25h-3.25zM167.86 51.55h3.25v3.25h-3.25zM114.90 70.10h3.25v3.25h-3.25zM133.44 70.10h3.25v3.25h-3.25zM120.20 80.70h3.25v3.25h-3.25zM141.38 86.00h3.25v3.25h-3.25zM128.14 88.65h3.25v3.25h-3.25zM77.83 112.50h5.90v3.25h-5.90zM72.54 115.15h3.25v3.25h-3.25zM67.24 120.45h3.25v3.25h-3.25zM77.83 123.10h3.25v3.25h-3.25z"/>
<path fill="#ab2f5e" d="M170.51 38.30h3.25v3.25h-3.25zM167.86 40.95h3.25v3.25h-3.25zM165.22 43.60h3.25v3.25h-3.25zM117.55 67.45h5.90v3.25h-5.90zM122.85 83.35h3.25v3.25h-3.25zM130.79 88.65h3.25v3.25h-3.25zM80.48 115.15h3.25v3.25h-3.25zM80.48 117.80h3.25v3.25h-3.25zM69.89 128.40h3.25v3.25h-3.25z"/>
<path fill="#8c2369" d="M173.16 38.30h3.25v3.25h-3.25zM120.20 75.40h3.25v3.25h-3.25zM128.14 86.00h3.25v3.25h-3.25zM77.83 117.80h3.25v3.25h-3.25zM75.18 123.10h3.25v3.25h-3.25zM69.89 125.75h3.25v3.25h-3.25z"/>
<path fill="#6c186e" d="M175.81 38.30h3.25v3.25h-3.25zM183.75 38.30h3.25v3.25h-3.25zM183.75 51.55h3.25v3.25h-3.25zM130.79 86.00h3.25v3.25h-3.25z"/>
<path fill="#5f136e" d="M178.46 38.30h5.90v3.25h-5.90zM173.16 40.95h3.25v3.25h-3.25zM173.16 48.90h3.25v3.25h-3.25zM178.46 51.55h5.90v3.25h-5.90zM133.44 75.40h3.25v3.25h-3.25z"/>
<path fill="#85216b" d="M170.51 40.95h3.25v3.25h-3.25zM170.51 48.90h3.25v3.25h-3.25zM173.16 51.55h3.25v3.25h-3.25zM122.85 70.10h3.25v3.25h-3.25zM128.14 70.10h3.25v3.25h-3.25zM120.20 72.75h3.25v3.25h-3.25zM122.85 80.70h3.25v3.25h-3.25zM138.74 83.35h3.25v3.25h-3.25zM75.18 117.80h3.25v3.25h-3.25z"/>
<path fill="#360961" d="M175.81 40.95h3.25v3.25h-3.25zM183.75 40.95h3.25v3.25h-3.25zM175.81 48.90h3.25v3.25h-3.25zM183.75 48.90h3.25v3.25h-3.25z"/>
<path fill="#210c4a" d="M178.46 40.95h5.90v3.25h-5.90zM178.46 48.90h5.90v3.25h-5.90zM125.50 75.40h3.25v3.25h-3.25zM125.50 78.05h3.25v3.25h-3.25z"/>
<path fill="#721a6e" d="M170.51 43.60h3.25v3.25h-3.25zM170.51 46.25h3.25v3.25h-3.25zM175.81 51.55h3.25v3.25h-3.25zM136.09 78.05h3.25v3.25h-3.25z"/>
<path fill="#440a68" d="M173.16 43.60h3.25v3.25h-3.25zM173.16 46.25h3.25v3.25h-3.25zM125.50 72.75h5.90v3.25h-5.90zM125.50 80.70h3.25v3.25h-3.25z"/>
<path fill="#150b37" d="M175.81 43.60h3.25v3.25h-3.25zM175.81 46.25h3.25v3.25h-3.25zM128.14 80.70h3.25v3.25h-3.25z"/>
<path fill="#07051b" d="M178.46 43.60h3.25v3.25h-3.25zM178.46 46.25h3.25v3.25h-3.25zM130.79 78.05h3.25v3.25h-3.25zM130.79 80.70h3.25v3.25h-3.25z"/>
<path fill="#040312" d="M181.10 43.60h3.25v3.25h-3.25zM181.10 46.25h3.25v3.25h-3.25zM128.14 78.05h3.25v3.25h-3.25z"/>
<path fill="#10092d" d="M183.75 43.60h3.25v3.25h-3.25zM183.75 46.25h3.25v3.25h-3.25zM128.14 75.40h3.25v3.25h-3.25z"/>
<path fill="#b1325a" d="M165.22 46.25h3.25v3.25h-3.25zM122.85 67.45h5.90v3.25h-5.90zM117.55 75.40h3.25v3.25h-3.25zM138.74 78.05h3.25v3.25h-3.25zM125.50 86.00h3.25v3.25h-3.25zM136.09 88.65h3.25v3.25h-3.25zM75.18 125.75h3.25v3.25h-3.25z"/>
<path fill="#9f2a63" d="M117.55 70.10h3.25v3.25h-3.25zM130.79 70.10h3.25v3.25h-3.25zM117.55 72.75h3.25v3.25h-3.25zM120.20 78.05h3.25v3.25h-3.25zM77.83 115.15h3.25v3.25h-3.25z"/>
<path fill="#922568" d="M120.20 70.10h3.25v3.25h-3.25zM138.74 80.70h3.25v3.25h-3.25zM72.54 125.75h3.25v3.25h-3.25z"/>
<path fill="#7f1e6c" d="M125.50 70.10h3.25v3.25h-3.25zM125.50 83.35h3.25v3.25h-3.25zM69.89 123.10h3.25v3.25h-3.25z"/>
<path fill="#65156e" d="M122.85 72.75h3.25v3.25h-3.25zM130.79 72.75h3.25v3.25h-3.25zM122.85 78.05h3.25v3.25h-3.25zM133.44 86.00h3.25v3.25h-3.25z"/>
<path fill="#510e6c" d="M122.85 75.40h3.25v3.25h-3.25zM136.09 80.70h3.25v3.25h-3.25z"/>
<path fill="#280b53" d="M130.79 75.40h3.25v3.25h-3.25zM133.44 78.05h3.25v3.25h-3.25z"/>
<path fill="#1b0c41" d="M133.44 80.70h3.25v3.25h-3.25z"/>
<path fill="#4a0c6b" d="M128.14 83.35h3.25v3.25h-3.25z"/>
<path fill="#2f0a5b" d="M130.79 83.35h5.90v3.25h-5.90z"/>
<path fill="#59106e" d="M136.09 83.35h3.25v3.25h-3.25z"/>
<path fill="#781c6d" d="M136.09 86.00h3.25v3.25h-3.25zM72.54 120.45h5.90v3.25h-5.90zM72.54 123.10h3.25v3.25h-3.25z"/>
<path fill="#fcffa4" d="M128.14 112.50h3.25v3.25h-3.25zM80.48 144.30h3.25v3.25h-3.25zM75.18 146.95h8.54v3.25h-8.54z"/>
</g>
<rect x="54.0" y="17.1" width="132.4" height="132.5" fill="none" stroke="#333" stroke-width="0.5"/>
<line x1="55.32" y1="149.6" x2="55.32" y2="151.79999999999998" stroke="#444" stroke-width="0.5"/>
<text x="55.32" y="157.40" font-size="5.6" font-family='"Liberation Sans", sans-serif' text-anchor="middle" fill="#333" >0</text>
<line x1="51.8" y1="18.42" x2="54.0" y2="18.42" stroke="#444" stroke-width="0.5"/>
<text x="50.70" y="20.42" font-size="5.6" font-family='"Liberation Sans", sans-serif' text-anchor="end" fill="#333" >0</text>
<line x1="81.80" y1="149.6" x2="81.80" y2="151.79999999999998" stroke="#444" stroke-width="0.5"/>
<text x="81.80" y="157.40" font-size="5.6" font-family='"Liberation Sans", sans-serif' text-anchor="middle" fill="#333" >10</text>
<line x1="51.8" y1="44.90" x2="54.0" y2="44.90" stroke="#444" stroke-width="0.5"/>
<text x="50.70" y="46.90" font-size="5.6" font-family='"Liberation Sans", sans-serif' text-anchor="end" fill="#333" >10</text>
<line x1="108.28" y1="149.6" x2="108.28" y2="151.79999999999998" stroke="#444" stroke-width="0.5"/>
<text x="108.28" y="157.40" font-size="5.6" font-family='"Liberation Sans", sans-serif' text-anchor="middle" fill="#333" >20</text>
<line x1="51.8" y1="71.38" x2="54.0" y2="71.38" stroke="#444" stroke-width="0.5"/>
<text x="50.70" y="73.38" font-size="5.6" font-family='"Liberation Sans", sans-serif' text-anchor="end" fill="#333" >20</text>
<line x1="134.76" y1="149.6" x2="134.76" y2="151.79999999999998" stroke="#444" stroke-width="0.5"/>
<text x="134.76" y="157.40" font-size="5.6" font-family='"Liberation Sans", sans-serif' text-anchor="middle" fill="#333" >30</text>
<line x1="51.8" y1="97.86" x2="54.0" y2="97.86" stroke="#444" stroke-width="0.5"/>
<text x="50.70" y="99.86" font-size="5.6" font-family='"Liberation Sans", sans-serif' text-anchor="end" fill="#333" >30</text>
<line x1="161.24" y1="149.6" x2="161.24" y2="151.79999999999998" stroke="#444" stroke-width="0.5"/>
<text x="161.24" y="157.40" font-size="5.6" font-family='"Liberation Sans", sans-serif' text-anchor="middle" fill="#333" >40</text>
<line x1="51.8" y1="124.34" x2="54.0" y2="124.34" stroke="#444" stroke-width="0.5"/>
<text x="50.70" y="126.34" font-size="5.6" font-family='"Liberation Sans", sans-serif' text-anchor="end" fill="#333" >40</text>
<defs><linearGradient id="cb17" x1="0" y1="1" x2="0" y2="0"><stop offset="0.0000" stop-color="#000004"/><stop offset="0.0625" stop-color="#0b0724"/><stop offset="0.1250" stop-color="#210c4a"/><stop offset="0.1875" stop-color="#3d0965"/><stop offset="0.2500" stop-color="#57106e"/><stop offset="0.3125" stop-color="#71196e"/><stop offset="0.3750" stop-color="#8a226a"/><stop offset="0.4375" stop-color="#a32c61"/><stop offset="0.5000" stop-color="#bc3754"/><stop offset="0.5625" stop-color="#d24644"/><stop offset="0.6250" stop-color="#e45a31"/><stop offset="0.6875" stop-color="#f1731d"/><stop offset="0.7500" stop-color="#f98e09"/><stop offset="0.8125" stop-color="#fcac11"/><stop offset="0.8750" stop-color="#f9cb35"/><stop offset="0.9375" stop-color="#f2ea69"/><stop offset="1.0000" stop-color="#fcffa4"/></linearGradient></defs>
<rect x="195.2" y="17.1" width="6.5" height="132.5" fill="url(#cb17)" stroke="#333" stroke-width="0.5"/>
<line x1="201.7" y1="140.77" x2="203.89999999999998" y2="140.77" stroke="#444" stroke-width="0.5"/>
<text x="205.00" y="142.77" font-size="5.6" font-family='"Liberation Sans", sans-serif' text-anchor="start" fill="#333" >3.1</text>
<line x1="201.7" y1="123.10" x2="203.89999999999998" y2="123.10" stroke="#444" stroke-width="0.5"/>
<text x="205.00" y="125.10" font-size="5.6" font-family='"Liberation Sans", sans-serif' text-anchor="start" fill="#333" >3.2</text>
<line x1="201.7" y1="105.43" x2="203.89999999999998" y2="105.43" stroke="#444" stroke-width="0.5"/>
<text x="205.00" y="107.43" font-size="5.6" font-family='"Liberation Sans", sans-serif' text-anchor="start" fill="#333" >3.3</text>
<line x1="201.7" y1="87.77" x2="203.89999999999998" y2="87.77" stroke="#444" stroke-width="0.5"/>
<text x="205.00" y="89.77" font-size="5.6" font-family='"Liberation Sans", sans-serif' text-anchor="start" fill="#333" >3.4</text>
<line x1="201.7" y1="70.10" x2="203.89999999999998" y2="70.10" stroke="#444" stroke-width="0.5"/>
<text x="205.00" y="72.10" font-size="5.6" font-family='"Liberation Sans", sans-serif' text-anchor="start" fill="#333" >3.5</text>
<line x1="201.7" y1="52.43" x2="203.89999999999998" y2="52.43" stroke="#444" stroke-width="0.5"/>
<text x="205.00" y="54.43" font-size="5.6" font-family='"Liberation Sans", sans-serif' text-anchor="start" fill="#333" >3.6</text>
<line x1="201.7" y1="34.77" x2="203.89999999999998" y2="34.77" stroke="#444" stroke-width="0.5"/>
<text x="205.00" y="36.77" font-size="5.6" font-family='"Liberation Sans", sans-serif' text-anchor="start" fill="#333" >3.7</text>
<g filter="url(#soft)"><rect x="54.0" y="199.5" width="132.4" height="132.0" fill="#d44842"/>
<path fill="#ca404a" d="M54.00 199.50h3.25v3.24h-3.25zM125.50 199.50h3.25v3.24h-3.25zM54.00 202.14h3.25v3.24h-3.25zM162.57 202.14h3.25v3.24h-3.25zM93.72 204.78h3.25v3.24h-3.25zM54.00 207.42h3.25v3.24h-3.25zM183.75 207.42h3.25v3.24h-3.25zM75.18 210.06h3.25v3.24h-3.25zM85.78 210.06h3.25v3.24h-3.25zM96.37 210.06h3.25v3.24h-3.25zM72.54 212.70h3.25v3.24h-3.25zM85.78 212.70h3.25v3.24h-3.25zM109.61 212.70h3.25v3.24h-3.25zM69.89 215.34h3.25v3.24h-3.25zM69.89 220.62h3.25v3.24h-3.25zM83.13 220.62h3.25v3.24h-3.25zM159.92 220.62h3.25v3.24h-3.25zM75.18 223.26h3.25v3.24h-3.25zM162.57 223.26h3.25v3.24h-3.25zM167.86 223.26h5.90v3.24h-5.90zM181.10 223.26h5.90v3.24h-5.90zM162.57 225.90h3.25v3.24h-3.25zM170.51 225.90h16.49v3.24h-16.49zM61.94 228.54h3.25v3.24h-3.25zM114.90 228.54h3.25v3.24h-3.25zM159.92 228.54h3.25v3.24h-3.25zM59.30 231.18h3.25v3.24h-3.25zM112.26 231.18h3.25v3.24h-3.25zM157.27 231.18h3.25v3.24h-3.25zM154.62 233.82h3.25v3.24h-3.25zM109.61 236.46h5.90v3.24h-5.90zM141.38 236.46h3.25v3.24h-3.25zM165.22 236.46h3.25v3.24h-3.25zM175.81 236.46h5.90v3.24h-5.90zM109.61 239.10h3.25v3.24h-3.25zM138.74 239.10h3.25v3.24h-3.25zM175.81 239.10h5.90v3.24h-5.90zM80.48 241.74h3.25v3.24h-3.25zM167.86 241.74h3.25v3.24h-3.25zM83.13 244.38h3.25v3.24h-3.25zM109.61 244.38h3.25v3.24h-3.25zM151.98 244.38h3.25v3.24h-3.25zM109.61 247.02h3.25v3.24h-3.25zM114.90 247.02h3.25v3.24h-3.25zM154.62 247.02h3.25v3.24h-3.25zM183.75 247.02h3.25v3.24h-3.25zM109.61 249.66h3.25v3.24h-3.25zM114.90 249.66h3.25v3.24h-3.25zM146.68 249.66h3.25v3.24h-3.25zM157.27 249.66h3.25v3.24h-3.25zM178.46 249.66h3.25v3.24h-3.25zM77.83 252.30h3.25v3.24h-3.25zM181.10 252.30h3.25v3.24h-3.25zM96.37 254.94h13.84v3.24h-13.84zM181.10 254.94h3.25v3.24h-3.25zM101.66 257.58h3.25v3.24h-3.25zM157.27 257.58h3.25v3.24h-3.25zM181.10 257.58h3.25v3.24h-3.25zM144.03 260.22h5.90v3.24h-5.90zM162.57 260.22h3.25v3.24h-3.25zM181.10 260.22h3.25v3.24h-3.25zM75.18 262.86h8.54v3.24h-8.54zM141.38 262.86h5.90v3.24h-5.90zM151.98 262.86h8.54v3.24h-8.54zM181.10 262.86h3.25v3.24h-3.25zM75.18 265.50h3.25v3.24h-3.25zM104.31 265.50h3.25v3.24h-3.25zM138.74 265.50h8.54v3.24h-8.54zM159.92 265.50h3.25v3.24h-3.25zM178.46 265.50h3.25v3.24h-3.25zM77.83 268.14h5.90v3.24h-5.90zM104.31 268.14h3.25v3.24h-3.25zM133.44 268.14h3.25v3.24h-3.25zM149.33 268.14h3.25v3.24h-3.25zM96.37 270.78h3.25v3.24h-3.25zM104.31 270.78h3.25v3.24h-3.25zM130.79 270.78h5.90v3.24h-5.90zM146.68 270.78h3.25v3.24h-3.25zM59.30 273.42h3.25v3.24h-3.25zM104.31 273.42h3.25v3.24h-3.25zM144.03 273.42h3.25v3.24h-3.25zM170.51 273.42h3.25v3.24h-3.25zM59.30 276.06h3.25v3.24h-3.25zM133.44 276.06h3.25v3.24h-3.25zM167.86 276.06h8.54v3.24h-8.54zM59.30 278.70h3.25v3.24h-3.25zM101.66 278.70h3.25v3.24h-3.25zM120.20 278.70h3.25v3.24h-3.25zM167.86 278.70h8.54v3.24h-8.54zM59.30 281.34h3.25v3.24h-3.25zM109.61 281.34h5.90v3.24h-5.90zM159.92 281.34h3.25v3.24h-3.25zM104.31 283.98h5.90v3.24h-5.90zM133.44 283.98h3.25v3.24h-3.25zM178.46 283.98h3.25v3.24h-3.25zM128.14 286.62h3.25v3.24h-3.25zM138.74 286.62h11.19v3.24h-11.19zM175.81 286.62h5.90v3.24h-5.90zM130.79 289.26h3.25v3.24h-3.25zM175.81 289.26h8.54v3.24h-8.54zM117.55 291.90h3.25v3.24h-3.25zM175.81 291.90h8.54v3.24h-8.54zM178.46 294.54h3.25v3.24h-3.25zM133.44 299.82h3.25v3.24h-3.25zM178.46 299.82h3.25v3.24h-3.25zM133.44 302.46h3.25v3.24h-3.25zM75.18 305.10h3.25v3.24h-3.25zM88.42 305.10h3.25v3.24h-3.25zM120.20 305.10h3.25v3.24h-3.25zM125.50 305.10h3.25v3.24h-3.25zM130.79 305.10h3.25v3.24h-3.25zM173.16 305.10h3.25v3.24h-3.25zM75.18 307.74h3.25v3.24h-3.25zM88.42 307.74h3.25v3.24h-3.25zM80.48 310.38h3.25v3.24h-3.25zM130.79 310.38h5.90v3.24h-5.90zM138.74 313.02h3.25v3.24h-3.25zM125.50 315.66h3.25v3.24h-3.25zM133.44 315.66h3.25v3.24h-3.25zM181.10 315.66h3.25v3.24h-3.25zM130.79 318.30h3.25v3.24h-3.25zM141.38 320.94h3.25v3.24h-3.25zM170.51 320.94h8.54v3.24h-8.54zM125.50 323.58h3.25v3.24h-3.25zM167.86 323.58h3.25v3.24h-3.25zM61.94 326.22h3.25v3.24h-3.25zM122.85 326.22h3.25v3.24h-3.25zM159.92 326.22h3.25v3.24h-3.25zM170.51 326.22h16.49v3.24h-16.49zM64.59 328.86h3.25v3.24h-3.25zM120.20 328.86h3.25v3.24h-3.25zM162.57 328.86h3.25v3.24h-3.25z"/>
<path fill="#cf4446" d="M56.65 199.50h3.25v3.24h-3.25zM88.42 199.50h3.25v3.24h-3.25zM56.65 202.14h3.25v3.24h-3.25zM56.65 204.78h3.25v3.24h-3.25zM170.51 204.78h3.25v3.24h-3.25zM56.65 207.42h3.25v3.24h-3.25zM85.78 207.42h3.25v3.24h-3.25zM85.78 215.34h3.25v3.24h-3.25zM99.02 215.34h3.25v3.24h-3.25zM151.98 215.34h3.25v3.24h-3.25zM157.27 215.34h3.25v3.24h-3.25zM162.57 220.62h13.84v3.24h-13.84zM181.10 220.62h5.90v3.24h-5.90zM69.89 223.26h3.25v3.24h-3.25zM141.38 223.26h3.25v3.24h-3.25zM165.22 223.26h3.25v3.24h-3.25zM67.24 225.90h3.25v3.24h-3.25zM165.22 225.90h5.90v3.24h-5.90zM54.00 228.54h8.54v3.24h-8.54zM69.89 228.54h3.25v3.24h-3.25zM112.26 228.54h3.25v3.24h-3.25zM162.57 228.54h24.43v3.24h-24.43zM56.65 231.18h3.25v3.24h-3.25zM159.92 231.18h27.08v3.24h-27.08zM56.65 233.82h3.25v3.24h-3.25zM109.61 233.82h3.25v3.24h-3.25zM162.57 233.82h24.43v3.24h-24.43zM106.96 236.46h3.25v3.24h-3.25zM167.86 236.46h8.54v3.24h-8.54zM181.10 236.46h5.90v3.24h-5.90zM106.96 239.10h3.25v3.24h-3.25zM167.86 239.10h3.25v3.24h-3.25zM173.16 239.10h3.25v3.24h-3.25zM181.10 239.10h5.90v3.24h-5.90zM77.83 241.74h3.25v3.24h-3.25zM83.13 241.74h3.25v3.24h-3.25zM109.61 241.74h3.25v3.24h-3.25zM133.44 241.74h3.25v3.24h-3.25zM149.33 241.74h3.25v3.24h-3.25zM170.51 241.74h16.49v3.24h-16.49zM112.26 244.38h3.25v3.24h-3.25zM149.33 244.38h3.25v3.24h-3.25zM173.16 244.38h13.84v3.24h-13.84zM83.13 247.02h3.25v3.24h-3.25zM128.14 247.02h3.25v3.24h-3.25zM149.33 247.02h5.90v3.24h-5.90zM175.81 247.02h8.54v3.24h-8.54zM80.48 249.66h3.25v3.24h-3.25zM133.44 249.66h3.25v3.24h-3.25zM149.33 249.66h3.25v3.24h-3.25zM181.10 249.66h5.90v3.24h-5.90zM109.61 252.30h5.90v3.24h-5.90zM146.68 252.30h11.19v3.24h-11.19zM183.75 252.30h3.25v3.24h-3.25zM75.18 254.94h3.25v3.24h-3.25zM109.61 254.94h3.25v3.24h-3.25zM146.68 254.94h11.19v3.24h-11.19zM183.75 254.94h3.25v3.24h-3.25zM75.18 257.58h3.25v3.24h-3.25zM109.61 257.58h3.25v3.24h-3.25zM146.68 257.58h11.19v3.24h-11.19zM183.75 257.58h3.25v3.24h-3.25zM75.18 260.22h11.19v3.24h-11.19zM149.33 260.22h13.84v3.24h-13.84zM183.75 260.22h3.25v3.24h-3.25zM83.13 262.86h3.25v3.24h-3.25zM130.79 262.86h3.25v3.24h-3.25zM138.74 262.86h3.25v3.24h-3.25zM146.68 262.86h5.90v3.24h-5.90zM159.92 262.86h5.90v3.24h-5.90zM183.75 262.86h3.25v3.24h-3.25zM83.13 265.50h3.25v3.24h-3.25zM136.09 265.50h3.25v3.24h-3.25zM146.68 265.50h5.90v3.24h-5.90zM162.57 265.50h5.90v3.24h-5.90zM181.10 265.50h5.90v3.24h-5.90zM61.94 268.14h3.25v3.24h-3.25zM83.13 268.14h3.25v3.24h-3.25zM101.66 268.14h3.25v3.24h-3.25zM136.09 268.14h13.84v3.24h-13.84zM162.57 268.14h3.25v3.24h-3.25zM167.86 268.14h19.14v3.24h-19.14zM99.02 270.78h5.90v3.24h-5.90zM106.96 270.78h3.25v3.24h-3.25zM136.09 270.78h11.19v3.24h-11.19zM162.57 270.78h3.25v3.24h-3.25zM170.51 270.78h16.49v3.24h-16.49zM101.66 273.42h3.25v3.24h-3.25zM128.14 273.42h16.49v3.24h-16.49zM162.57 273.42h3.25v3.24h-3.25zM167.86 273.42h3.25v3.24h-3.25zM173.16 273.42h13.84v3.24h-13.84zM101.66 276.06h5.90v3.24h-5.90zM109.61 276.06h3.25v3.24h-3.25zM122.85 276.06h3.25v3.24h-3.25zM136.09 276.06h3.25v3.24h-3.25zM141.38 276.06h3.25v3.24h-3.25zM162.57 276.06h5.90v3.24h-5.90zM175.81 276.06h11.19v3.24h-11.19zM106.96 278.70h5.90v3.24h-5.90zM136.09 278.70h3.25v3.24h-3.25zM162.57 278.70h5.90v3.24h-5.90zM175.81 278.70h11.19v3.24h-11.19zM106.96 281.34h3.25v3.24h-3.25zM136.09 281.34h3.25v3.24h-3.25zM141.38 281.34h3.25v3.24h-3.25zM162.57 281.34h24.43v3.24h-24.43zM75.18 283.98h3.25v3.24h-3.25zM136.09 283.98h8.54v3.24h-8.54zM159.92 283.98h3.25v3.24h-3.25zM175.81 283.98h3.25v3.24h-3.25zM181.10 283.98h5.90v3.24h-5.90zM61.94 286.62h3.25v3.24h-3.25zM75.18 286.62h3.25v3.24h-3.25zM104.31 286.62h5.90v3.24h-5.90zM130.79 286.62h8.54v3.24h-8.54zM157.27 286.62h3.25v3.24h-3.25zM181.10 286.62h5.90v3.24h-5.90zM133.44 289.26h8.54v3.24h-8.54zM183.75 289.26h3.25v3.24h-3.25zM93.72 291.90h3.25v3.24h-3.25zM136.09 291.90h3.25v3.24h-3.25zM183.75 291.90h3.25v3.24h-3.25zM136.09 294.54h3.25v3.24h-3.25zM175.81 294.54h3.25v3.24h-3.25zM181.10 294.54h5.90v3.24h-5.90zM136.09 297.18h3.25v3.24h-3.25zM175.81 297.18h8.54v3.24h-8.54zM130.79 299.82h3.25v3.24h-3.25zM136.09 299.82h3.25v3.24h-3.25zM175.81 299.82h3.25v3.24h-3.25zM181.10 299.82h5.90v3.24h-5.90zM85.78 302.46h3.25v3.24h-3.25zM128.14 302.46h5.90v3.24h-5.90zM136.09 302.46h3.25v3.24h-3.25zM173.16 302.46h3.25v3.24h-3.25zM128.14 305.10h3.25v3.24h-3.25zM170.51 305.10h3.25v3.24h-3.25zM122.85 307.74h8.54v3.24h-8.54zM167.86 307.74h5.90v3.24h-5.90zM175.81 307.74h3.25v3.24h-3.25zM83.13 310.38h3.25v3.24h-3.25zM125.50 310.38h5.90v3.24h-5.90zM99.02 313.02h3.25v3.24h-3.25zM117.55 313.02h21.78v3.24h-21.78zM141.38 313.02h3.25v3.24h-3.25zM159.92 313.02h5.90v3.24h-5.90zM181.10 313.02h3.25v3.24h-3.25zM128.14 315.66h5.90v3.24h-5.90zM128.14 318.30h3.25v3.24h-3.25zM178.46 318.30h3.25v3.24h-3.25zM128.14 320.94h3.25v3.24h-3.25zM144.03 320.94h5.90v3.24h-5.90zM167.86 320.94h3.25v3.24h-3.25zM128.14 323.58h3.25v3.24h-3.25zM125.50 326.22h5.90v3.24h-5.90zM167.86 326.22h3.25v3.24h-3.25zM61.94 328.86h3.25v3.24h-3.25zM128.14 328.86h3.25v3.24h-3.25zM165.22 328.86h16.49v3.24h-16.49z"/>
<path fill="#de5238" d="M59.30 199.50h3.25v3.24h-3.25zM59.30 202.14h3.25v3.24h-3.25zM85.78 202.14h3.25v3.24h-3.25zM165.22 204.78h3.25v3.24h-3.25zM59.30 207.42h3.25v3.24h-3.25zM178.46 210.06h8.54v3.24h-8.54zM67.24 212.70h3.25v3.24h-3.25zM157.27 212.70h3.25v3.24h-3.25zM149.33 215.34h3.25v3.24h-3.25zM109.61 217.98h3.25v3.24h-3.25zM162.57 217.98h3.25v3.24h-3.25zM170.51 217.98h3.25v3.24h-3.25zM181.10 217.98h5.90v3.24h-5.90zM64.59 223.26h3.25v3.24h-3.25zM114.90 223.26h3.25v3.24h-3.25zM72.54 225.90h3.25v3.24h-3.25zM117.55 233.82h3.25v3.24h-3.25zM75.18 236.46h3.25v3.24h-3.25zM80.48 236.46h5.90v3.24h-5.90zM85.78 239.10h3.25v3.24h-3.25zM136.09 239.10h3.25v3.24h-3.25zM130.79 241.74h3.25v3.24h-3.25zM106.96 247.02h3.25v3.24h-3.25zM80.48 252.30h3.25v3.24h-3.25zM80.48 257.58h5.90v3.24h-5.90zM109.61 262.86h3.25v3.24h-3.25zM61.94 270.78h3.25v3.24h-3.25zM75.18 278.70h3.25v3.24h-3.25zM112.26 278.70h3.25v3.24h-3.25zM165.22 283.98h5.90v3.24h-5.90zM159.92 286.62h3.25v3.24h-3.25zM146.68 289.26h3.25v3.24h-3.25zM96.37 291.90h3.25v3.24h-3.25zM141.38 291.90h3.25v3.24h-3.25zM170.51 291.90h3.25v3.24h-3.25zM138.74 294.54h3.25v3.24h-3.25zM170.51 294.54h3.25v3.24h-3.25zM138.74 297.18h3.25v3.24h-3.25zM88.42 302.46h3.25v3.24h-3.25zM117.55 307.74h3.25v3.24h-3.25zM88.42 310.38h3.25v3.24h-3.25zM159.92 310.38h3.25v3.24h-3.25zM157.27 313.02h3.25v3.24h-3.25zM157.27 315.66h3.25v3.24h-3.25zM83.13 318.30h3.25v3.24h-3.25zM146.68 318.30h8.54v3.24h-8.54zM157.27 318.30h3.25v3.24h-3.25zM165.22 318.30h3.25v3.24h-3.25zM170.51 318.30h3.25v3.24h-3.25zM175.81 318.30h3.25v3.24h-3.25zM165.22 320.94h3.25v3.24h-3.25z"/>
<path fill="#e65d2f" d="M61.94 199.50h3.25v3.24h-3.25zM159.92 199.50h3.25v3.24h-3.25zM61.94 202.14h3.25v3.24h-3.25zM83.13 202.14h3.25v3.24h-3.25zM159.92 202.14h3.25v3.24h-3.25zM61.94 204.78h3.25v3.24h-3.25zM72.54 204.78h3.25v3.24h-3.25zM159.92 204.78h3.25v3.24h-3.25zM61.94 207.42h3.25v3.24h-3.25zM88.42 207.42h5.90v3.24h-5.90zM67.24 210.06h3.25v3.24h-3.25zM93.72 210.06h3.25v3.24h-3.25zM128.14 210.06h3.25v3.24h-3.25zM175.81 210.06h3.25v3.24h-3.25zM59.30 212.70h3.25v3.24h-3.25zM64.59 212.70h3.25v3.24h-3.25zM159.92 212.70h3.25v3.24h-3.25zM183.75 212.70h3.25v3.24h-3.25zM112.26 215.34h3.25v3.24h-3.25zM117.55 215.34h3.25v3.24h-3.25zM165.22 215.34h5.90v3.24h-5.90zM183.75 215.34h3.25v3.24h-3.25zM64.59 217.98h3.25v3.24h-3.25zM141.38 217.98h3.25v3.24h-3.25zM64.59 220.62h3.25v3.24h-3.25zM109.61 220.62h3.25v3.24h-3.25zM136.09 220.62h3.25v3.24h-3.25zM61.94 223.26h3.25v3.24h-3.25zM109.61 223.26h3.25v3.24h-3.25zM109.61 225.90h3.25v3.24h-3.25zM72.54 228.54h3.25v3.24h-3.25zM106.96 231.18h3.25v3.24h-3.25zM85.78 236.46h3.25v3.24h-3.25zM130.79 236.46h8.54v3.24h-8.54zM101.66 239.10h3.25v3.24h-3.25zM133.44 239.10h3.25v3.24h-3.25zM88.42 241.74h3.25v3.24h-3.25zM114.90 241.74h3.25v3.24h-3.25zM117.55 244.38h3.25v3.24h-3.25zM125.50 244.38h3.25v3.24h-3.25zM88.42 247.02h3.25v3.24h-3.25zM120.20 247.02h3.25v3.24h-3.25zM91.07 252.30h3.25v3.24h-3.25zM88.42 257.58h3.25v3.24h-3.25zM93.72 257.58h3.25v3.24h-3.25zM112.26 257.58h3.25v3.24h-3.25zM141.38 257.58h3.25v3.24h-3.25zM88.42 260.22h3.25v3.24h-3.25zM138.74 260.22h3.25v3.24h-3.25zM99.02 265.50h3.25v3.24h-3.25zM91.07 268.14h5.90v3.24h-5.90zM109.61 270.78h3.25v3.24h-3.25zM61.94 276.06h3.25v3.24h-3.25zM61.94 278.70h3.25v3.24h-3.25zM114.90 278.70h3.25v3.24h-3.25zM64.59 283.98h3.25v3.24h-3.25zM162.57 286.62h3.25v3.24h-3.25zM144.03 291.90h3.25v3.24h-3.25zM91.07 297.18h3.25v3.24h-3.25zM91.07 305.10h3.25v3.24h-3.25zM170.51 310.38h3.25v3.24h-3.25zM144.03 313.02h3.25v3.24h-3.25zM167.86 313.02h3.25v3.24h-3.25zM154.62 315.66h3.25v3.24h-3.25zM178.46 315.66h3.25v3.24h-3.25zM159.92 320.94h3.25v3.24h-3.25z"/>
<path fill="#ed6925" d="M64.59 199.50h3.25v3.24h-3.25zM77.83 199.50h3.25v3.24h-3.25zM83.13 199.50h3.25v3.24h-3.25zM64.59 202.14h5.90v3.24h-5.90zM64.59 204.78h5.90v3.24h-5.90zM64.59 207.42h5.90v3.24h-5.90zM88.42 210.06h3.25v3.24h-3.25zM151.98 212.70h3.25v3.24h-3.25zM162.57 212.70h3.25v3.24h-3.25zM56.65 215.34h5.90v3.24h-5.90zM114.90 215.34h3.25v3.24h-3.25zM170.51 215.34h3.25v3.24h-3.25zM54.00 217.98h5.90v3.24h-5.90zM61.94 217.98h3.25v3.24h-3.25zM104.31 217.98h3.25v3.24h-3.25zM120.20 217.98h3.25v3.24h-3.25zM136.09 217.98h3.25v3.24h-3.25zM175.81 217.98h3.25v3.24h-3.25zM56.65 220.62h8.54v3.24h-8.54zM117.55 223.26h3.25v3.24h-3.25zM136.09 223.26h3.25v3.24h-3.25zM75.18 225.90h3.25v3.24h-3.25zM138.74 231.18h3.25v3.24h-3.25zM128.14 233.82h3.25v3.24h-3.25zM128.14 236.46h3.25v3.24h-3.25zM104.31 244.38h3.25v3.24h-3.25zM120.20 244.38h3.25v3.24h-3.25zM85.78 252.30h3.25v3.24h-3.25zM85.78 254.94h3.25v3.24h-3.25zM99.02 262.86h3.25v3.24h-3.25zM88.42 265.50h3.25v3.24h-3.25zM109.61 265.50h3.25v3.24h-3.25zM69.89 268.14h3.25v3.24h-3.25zM64.59 270.78h3.25v3.24h-3.25zM75.18 273.42h3.25v3.24h-3.25zM112.26 276.06h3.25v3.24h-3.25zM67.24 283.98h3.25v3.24h-3.25zM167.86 289.26h3.25v3.24h-3.25zM146.68 291.90h3.25v3.24h-3.25zM167.86 291.90h3.25v3.24h-3.25zM167.86 294.54h3.25v3.24h-3.25zM93.72 297.18h3.25v3.24h-3.25zM141.38 297.18h3.25v3.24h-3.25zM91.07 299.82h3.25v3.24h-3.25zM167.86 299.82h3.25v3.24h-3.25zM91.07 302.46h3.25v3.24h-3.25zM114.90 302.46h3.25v3.24h-3.25zM162.57 305.10h3.25v3.24h-3.25zM114.90 307.74h3.25v3.24h-3.25zM159.92 307.74h3.25v3.24h-3.25zM96.37 310.38h3.25v3.24h-3.25zM112.26 310.38h3.25v3.24h-3.25zM173.16 310.38h5.90v3.24h-5.90zM85.78 313.02h3.25v3.24h-3.25zM83.13 315.66h5.90v3.24h-5.90z"/>
<path fill="#ea632a" d="M67.24 199.50h11.19v3.24h-11.19zM69.89 202.14h13.84v3.24h-13.84zM69.89 204.78h3.25v3.24h-3.25zM128.14 204.78h3.25v3.24h-3.25zM69.89 207.42h3.25v3.24h-3.25zM159.92 207.42h5.90v3.24h-5.90zM61.94 210.06h5.90v3.24h-5.90zM157.27 210.06h5.90v3.24h-5.90zM61.94 212.70h3.25v3.24h-3.25zM181.10 212.70h3.25v3.24h-3.25zM54.00 215.34h3.25v3.24h-3.25zM61.94 215.34h3.25v3.24h-3.25zM96.37 215.34h3.25v3.24h-3.25zM125.50 215.34h3.25v3.24h-3.25zM146.68 215.34h3.25v3.24h-3.25zM162.57 215.34h3.25v3.24h-3.25zM181.10 215.34h3.25v3.24h-3.25zM112.26 217.98h3.25v3.24h-3.25zM138.74 217.98h3.25v3.24h-3.25zM173.16 217.98h3.25v3.24h-3.25zM178.46 217.98h3.25v3.24h-3.25zM54.00 220.62h3.25v3.24h-3.25zM114.90 220.62h3.25v3.24h-3.25zM138.74 225.90h3.25v3.24h-3.25zM75.18 233.82h3.25v3.24h-3.25zM130.79 233.82h8.54v3.24h-8.54zM101.66 236.46h3.25v3.24h-3.25zM117.55 236.46h3.25v3.24h-3.25zM88.42 239.10h3.25v3.24h-3.25zM130.79 239.10h3.25v3.24h-3.25zM128.14 241.74h3.25v3.24h-3.25zM122.85 247.02h3.25v3.24h-3.25zM88.42 249.66h3.25v3.24h-3.25zM104.31 249.66h3.25v3.24h-3.25zM120.20 249.66h3.25v3.24h-3.25zM83.13 252.30h3.25v3.24h-3.25zM88.42 252.30h3.25v3.24h-3.25zM117.55 252.30h3.25v3.24h-3.25zM83.13 254.94h3.25v3.24h-3.25zM88.42 254.94h3.25v3.24h-3.25zM114.90 254.94h3.25v3.24h-3.25zM91.07 257.58h3.25v3.24h-3.25zM99.02 260.22h3.25v3.24h-3.25zM88.42 262.86h3.25v3.24h-3.25zM67.24 268.14h3.25v3.24h-3.25zM125.50 270.78h3.25v3.24h-3.25zM122.85 273.42h3.25v3.24h-3.25zM75.18 276.06h3.25v3.24h-3.25zM120.20 276.06h3.25v3.24h-3.25zM72.54 281.34h3.25v3.24h-3.25zM69.89 283.98h3.25v3.24h-3.25zM165.22 286.62h5.90v3.24h-5.90zM104.31 289.26h5.90v3.24h-5.90zM157.27 289.26h3.25v3.24h-3.25zM141.38 294.54h3.25v3.24h-3.25zM88.42 299.82h3.25v3.24h-3.25zM138.74 302.46h3.25v3.24h-3.25zM165.22 302.46h3.25v3.24h-3.25zM93.72 310.38h3.25v3.24h-3.25zM157.27 310.38h3.25v3.24h-3.25zM83.13 313.02h3.25v3.24h-3.25zM88.42 313.02h3.25v3.24h-3.25zM178.46 313.02h3.25v3.24h-3.25zM146.68 315.66h3.25v3.24h-3.25zM162.57 320.94h3.25v3.24h-3.25z"/>
<path fill="#f06f20" d="M80.48 199.50h3.25v3.24h-3.25zM170.51 207.42h3.25v3.24h-3.25zM162.57 210.06h3.25v3.24h-3.25zM173.16 210.06h3.25v3.24h-3.25zM93.72 212.70h3.25v3.24h-3.25zM178.46 212.70h3.25v3.24h-3.25zM59.30 217.98h3.25v3.24h-3.25zM114.90 217.98h5.90v3.24h-5.90zM122.85 217.98h3.25v3.24h-3.25zM117.55 220.62h3.25v3.24h-3.25zM133.44 220.62h3.25v3.24h-3.25zM83.13 223.26h3.25v3.24h-3.25zM120.20 228.54h3.25v3.24h-3.25zM138.74 228.54h3.25v3.24h-3.25zM104.31 231.18h3.25v3.24h-3.25zM120.20 231.18h3.25v3.24h-3.25zM77.83 233.82h8.54v3.24h-8.54zM101.66 233.82h3.25v3.24h-3.25zM117.55 239.10h3.25v3.24h-3.25zM128.14 239.10h3.25v3.24h-3.25zM101.66 241.74h3.25v3.24h-3.25zM117.55 241.74h3.25v3.24h-3.25zM122.85 244.38h3.25v3.24h-3.25zM104.31 247.02h3.25v3.24h-3.25zM91.07 249.66h3.25v3.24h-3.25zM128.14 249.66h3.25v3.24h-3.25zM141.38 254.94h3.25v3.24h-3.25zM91.07 260.22h3.25v3.24h-3.25zM112.26 260.22h3.25v3.24h-3.25zM130.79 260.22h3.25v3.24h-3.25zM136.09 260.22h3.25v3.24h-3.25zM125.50 265.50h3.25v3.24h-3.25zM109.61 268.14h3.25v3.24h-3.25zM125.50 268.14h3.25v3.24h-3.25zM72.54 270.78h3.25v3.24h-3.25zM99.02 291.90h3.25v3.24h-3.25zM96.37 294.54h3.25v3.24h-3.25zM114.90 294.54h3.25v3.24h-3.25zM167.86 297.18h3.25v3.24h-3.25zM114.90 299.82h3.25v3.24h-3.25zM114.90 305.10h3.25v3.24h-3.25zM93.72 307.74h3.25v3.24h-3.25zM138.74 307.74h3.25v3.24h-3.25zM99.02 310.38h3.25v3.24h-3.25zM141.38 310.38h3.25v3.24h-3.25zM154.62 313.02h3.25v3.24h-3.25zM151.98 315.66h3.25v3.24h-3.25zM170.51 315.66h3.25v3.24h-3.25z"/>
<path fill="#e25734" d="M85.78 199.50h3.25v3.24h-3.25zM75.18 204.78h3.25v3.24h-3.25zM167.86 204.78h3.25v3.24h-3.25zM72.54 207.42h3.25v3.24h-3.25zM128.14 207.42h3.25v3.24h-3.25zM59.30 210.06h3.25v3.24h-3.25zM69.89 210.06h3.25v3.24h-3.25zM54.00 212.70h5.90v3.24h-5.90zM154.62 212.70h3.25v3.24h-3.25zM64.59 215.34h3.25v3.24h-3.25zM159.92 215.34h3.25v3.24h-3.25zM106.96 217.98h3.25v3.24h-3.25zM85.78 220.62h3.25v3.24h-3.25zM112.26 220.62h3.25v3.24h-3.25zM138.74 220.62h3.25v3.24h-3.25zM54.00 223.26h8.54v3.24h-8.54zM80.48 223.26h3.25v3.24h-3.25zM138.74 223.26h3.25v3.24h-3.25zM117.55 225.90h3.25v3.24h-3.25zM109.61 228.54h3.25v3.24h-3.25zM72.54 231.18h3.25v3.24h-3.25zM104.31 233.82h3.25v3.24h-3.25zM138.74 233.82h3.25v3.24h-3.25zM77.83 236.46h3.25v3.24h-3.25zM114.90 239.10h3.25v3.24h-3.25zM104.31 241.74h3.25v3.24h-3.25zM88.42 244.38h3.25v3.24h-3.25zM125.50 247.02h3.25v3.24h-3.25zM85.78 249.66h3.25v3.24h-3.25zM130.79 249.66h3.25v3.24h-3.25zM93.72 252.30h11.19v3.24h-11.19zM141.38 252.30h3.25v3.24h-3.25zM80.48 254.94h3.25v3.24h-3.25zM91.07 254.94h3.25v3.24h-3.25zM85.78 257.58h3.25v3.24h-3.25zM96.37 257.58h3.25v3.24h-3.25zM85.78 265.50h3.25v3.24h-3.25zM64.59 268.14h3.25v3.24h-3.25zM72.54 268.14h3.25v3.24h-3.25zM88.42 268.14h3.25v3.24h-3.25zM96.37 268.14h3.25v3.24h-3.25zM75.18 270.78h3.25v3.24h-3.25zM61.94 273.42h3.25v3.24h-3.25zM117.55 278.70h3.25v3.24h-3.25zM61.94 281.34h3.25v3.24h-3.25zM72.54 283.98h3.25v3.24h-3.25zM170.51 286.62h3.25v3.24h-3.25zM101.66 289.26h3.25v3.24h-3.25zM109.61 289.26h3.25v3.24h-3.25zM149.33 289.26h8.54v3.24h-8.54zM170.51 289.26h3.25v3.24h-3.25zM114.90 291.90h3.25v3.24h-3.25zM93.72 294.54h3.25v3.24h-3.25zM85.78 297.18h5.90v3.24h-5.90zM170.51 297.18h3.25v3.24h-3.25zM85.78 299.82h3.25v3.24h-3.25zM138.74 299.82h3.25v3.24h-3.25zM170.51 299.82h3.25v3.24h-3.25zM167.86 302.46h3.25v3.24h-3.25zM165.22 305.10h3.25v3.24h-3.25zM91.07 307.74h3.25v3.24h-3.25zM162.57 307.74h3.25v3.24h-3.25zM91.07 310.38h3.25v3.24h-3.25zM114.90 310.38h3.25v3.24h-3.25zM138.74 310.38h3.25v3.24h-3.25zM91.07 313.02h3.25v3.24h-3.25zM88.42 315.66h3.25v3.24h-3.25zM167.86 315.66h3.25v3.24h-3.25zM159.92 318.30h5.90v3.24h-5.90zM173.16 318.30h3.25v3.24h-3.25zM162.57 323.58h3.25v3.24h-3.25z"/>
<path fill="#bf3952" d="M91.07 199.50h3.25v3.24h-3.25zM165.22 202.14h3.25v3.24h-3.25zM175.81 207.42h5.90v3.24h-5.90zM125.50 210.06h3.25v3.24h-3.25zM72.54 215.34h3.25v3.24h-3.25zM146.68 217.98h3.25v3.24h-3.25zM157.27 228.54h3.25v3.24h-3.25zM154.62 231.18h3.25v3.24h-3.25zM144.03 233.82h3.25v3.24h-3.25zM54.00 236.46h3.25v3.24h-3.25zM144.03 236.46h3.25v3.24h-3.25zM151.98 236.46h3.25v3.24h-3.25zM146.68 239.10h3.25v3.24h-3.25zM151.98 239.10h3.25v3.24h-3.25zM136.09 241.74h3.25v3.24h-3.25zM77.83 244.38h3.25v3.24h-3.25zM80.48 247.02h3.25v3.24h-3.25zM157.27 247.02h3.25v3.24h-3.25zM136.09 249.66h3.25v3.24h-3.25zM141.38 249.66h3.25v3.24h-3.25zM173.16 249.66h3.25v3.24h-3.25zM75.18 252.30h3.25v3.24h-3.25zM72.54 257.58h3.25v3.24h-3.25zM104.31 257.58h5.90v3.24h-5.90zM72.54 260.22h3.25v3.24h-3.25zM104.31 260.22h5.90v3.24h-5.90zM69.89 262.86h3.25v3.24h-3.25zM157.27 265.50h3.25v3.24h-3.25zM170.51 265.50h3.25v3.24h-3.25zM159.92 268.14h3.25v3.24h-3.25zM91.07 270.78h3.25v3.24h-3.25zM80.48 273.42h3.25v3.24h-3.25zM146.68 273.42h3.25v3.24h-3.25zM128.14 276.06h3.25v3.24h-3.25zM144.03 276.06h3.25v3.24h-3.25zM159.92 276.06h3.25v3.24h-3.25zM117.55 281.34h3.25v3.24h-3.25zM77.83 283.98h3.25v3.24h-3.25zM101.66 283.98h3.25v3.24h-3.25zM109.61 283.98h3.25v3.24h-3.25zM144.03 283.98h3.25v3.24h-3.25zM59.30 286.62h3.25v3.24h-3.25zM61.94 289.26h3.25v3.24h-3.25zM67.24 289.26h5.90v3.24h-5.90zM114.90 289.26h3.25v3.24h-3.25zM80.48 291.90h3.25v3.24h-3.25zM85.78 291.90h5.90v3.24h-5.90zM130.79 297.18h3.25v3.24h-3.25zM83.13 302.46h3.25v3.24h-3.25zM125.50 302.46h3.25v3.24h-3.25zM181.10 302.46h5.90v3.24h-5.90zM72.54 305.10h3.25v3.24h-3.25zM77.83 305.10h3.25v3.24h-3.25zM178.46 307.74h3.25v3.24h-3.25zM75.18 310.38h3.25v3.24h-3.25zM77.83 313.02h3.25v3.24h-3.25zM96.37 315.66h3.25v3.24h-3.25zM101.66 315.66h5.90v3.24h-5.90zM112.26 315.66h11.19v3.24h-11.19zM138.74 315.66h5.90v3.24h-5.90zM183.75 315.66h3.25v3.24h-3.25zM125.50 318.30h3.25v3.24h-3.25zM125.50 320.94h3.25v3.24h-3.25zM61.94 323.58h5.90v3.24h-5.90zM141.38 323.58h5.90v3.24h-5.90zM178.46 323.58h3.25v3.24h-3.25zM59.30 326.22h3.25v3.24h-3.25zM159.92 328.86h3.25v3.24h-3.25z"/>
<path fill="#b1325a" d="M93.72 199.50h3.25v3.24h-3.25zM114.90 199.50h3.25v3.24h-3.25zM167.86 202.14h3.25v3.24h-3.25zM173.16 204.78h3.25v3.24h-3.25zM80.48 207.42h5.90v3.24h-5.90zM99.02 207.42h3.25v3.24h-3.25zM125.50 207.42h3.25v3.24h-3.25zM99.02 210.06h3.25v3.24h-3.25zM109.61 210.06h3.25v3.24h-3.25zM106.96 212.70h3.25v3.24h-3.25zM120.20 212.70h3.25v3.24h-3.25zM104.31 215.34h3.25v3.24h-3.25zM72.54 217.98h3.25v3.24h-3.25zM154.62 217.98h3.25v3.24h-3.25zM72.54 220.62h3.25v3.24h-3.25zM80.48 220.62h3.25v3.24h-3.25zM157.27 223.26h3.25v3.24h-3.25zM157.27 225.90h3.25v3.24h-3.25zM144.03 228.54h3.25v3.24h-3.25zM61.94 233.82h3.25v3.24h-3.25zM69.89 233.82h3.25v3.24h-3.25zM154.62 239.10h3.25v3.24h-3.25zM162.57 239.10h3.25v3.24h-3.25zM72.54 241.74h3.25v3.24h-3.25zM144.03 241.74h3.25v3.24h-3.25zM75.18 244.38h3.25v3.24h-3.25zM77.83 247.02h3.25v3.24h-3.25zM144.03 247.02h3.25v3.24h-3.25zM159.92 247.02h3.25v3.24h-3.25zM159.92 249.66h3.25v3.24h-3.25zM159.92 252.30h3.25v3.24h-3.25zM69.89 254.94h3.25v3.24h-3.25zM159.92 254.94h3.25v3.24h-3.25zM165.22 257.58h3.25v3.24h-3.25zM167.86 262.86h3.25v3.24h-3.25zM61.94 265.50h3.25v3.24h-3.25zM151.98 268.14h3.25v3.24h-3.25zM56.65 270.78h3.25v3.24h-3.25zM85.78 270.78h3.25v3.24h-3.25zM96.37 273.42h3.25v3.24h-3.25zM80.48 278.70h3.25v3.24h-3.25zM122.85 278.70h3.25v3.24h-3.25zM130.79 281.34h3.25v3.24h-3.25zM154.62 283.98h3.25v3.24h-3.25zM80.48 286.62h3.25v3.24h-3.25zM99.02 286.62h3.25v3.24h-3.25zM59.30 289.26h3.25v3.24h-3.25zM83.13 289.26h3.25v3.24h-3.25zM91.07 289.26h3.25v3.24h-3.25zM117.55 289.26h3.25v3.24h-3.25zM61.94 291.90h3.25v3.24h-3.25zM67.24 291.90h3.25v3.24h-3.25zM75.18 291.90h3.25v3.24h-3.25zM120.20 291.90h3.25v3.24h-3.25zM77.83 294.54h3.25v3.24h-3.25zM130.79 294.54h3.25v3.24h-3.25zM128.14 297.18h3.25v3.24h-3.25zM120.20 299.82h3.25v3.24h-3.25zM125.50 299.82h3.25v3.24h-3.25zM72.54 302.46h3.25v3.24h-3.25zM122.85 302.46h3.25v3.24h-3.25zM80.48 305.10h3.25v3.24h-3.25zM85.78 305.10h3.25v3.24h-3.25zM85.78 307.74h3.25v3.24h-3.25zM183.75 310.38h3.25v3.24h-3.25zM93.72 318.30h11.19v3.24h-11.19zM109.61 318.30h8.54v3.24h-8.54zM122.85 318.30h3.25v3.24h-3.25zM136.09 318.30h3.25v3.24h-3.25zM64.59 320.94h3.25v3.24h-3.25zM77.83 320.94h3.25v3.24h-3.25zM133.44 320.94h3.25v3.24h-3.25zM138.74 320.94h3.25v3.24h-3.25zM67.24 323.58h3.25v3.24h-3.25zM80.48 323.58h5.90v3.24h-5.90zM120.20 323.58h3.25v3.24h-3.25zM149.33 323.58h3.25v3.24h-3.25zM154.62 323.58h3.25v3.24h-3.25zM183.75 323.58h3.25v3.24h-3.25zM67.24 326.22h3.25v3.24h-3.25zM117.55 326.22h3.25v3.24h-3.25zM133.44 326.22h3.25v3.24h-3.25zM133.44 328.86h3.25v3.24h-3.25z"/>
<path fill="#9f2a63" d="M96.37 199.50h3.25v3.24h-3.25zM112.26 199.50h3.25v3.24h-3.25zM117.55 199.50h3.25v3.24h-3.25zM167.86 199.50h3.25v3.24h-3.25zM181.10 204.78h3.25v3.24h-3.25zM109.61 207.42h3.25v3.24h-3.25zM101.66 210.06h5.90v3.24h-5.90zM114.90 210.06h3.25v3.24h-3.25zM75.18 217.98h3.25v3.24h-3.25zM83.13 217.98h3.25v3.24h-3.25zM75.18 220.62h5.90v3.24h-5.90zM59.30 236.46h3.25v3.24h-3.25zM69.89 236.46h3.25v3.24h-3.25zM54.00 239.10h3.25v3.24h-3.25zM157.27 241.74h5.90v3.24h-5.90zM72.54 247.02h3.25v3.24h-3.25zM165.22 247.02h3.25v3.24h-3.25zM165.22 249.66h5.90v3.24h-5.90zM162.57 252.30h5.90v3.24h-5.90zM173.16 254.94h3.25v3.24h-3.25zM170.51 257.58h3.25v3.24h-3.25zM170.51 260.22h5.90v3.24h-5.90zM64.59 262.86h3.25v3.24h-3.25zM56.65 265.50h3.25v3.24h-3.25zM151.98 270.78h3.25v3.24h-3.25zM54.00 273.42h3.25v3.24h-3.25zM93.72 273.42h3.25v3.24h-3.25zM54.00 276.06h3.25v3.24h-3.25zM83.13 276.06h3.25v3.24h-3.25zM54.00 278.70h3.25v3.24h-3.25zM85.78 278.70h3.25v3.24h-3.25zM54.00 281.34h3.25v3.24h-3.25zM99.02 281.34h3.25v3.24h-3.25zM125.50 281.34h3.25v3.24h-3.25zM91.07 283.98h3.25v3.24h-3.25zM120.20 283.98h3.25v3.24h-3.25zM149.33 283.98h3.25v3.24h-3.25zM93.72 286.62h3.25v3.24h-3.25zM117.55 286.62h5.90v3.24h-5.90zM59.30 291.90h3.25v3.24h-3.25zM61.94 294.54h3.25v3.24h-3.25zM72.54 294.54h5.90v3.24h-5.90zM125.50 294.54h3.25v3.24h-3.25zM64.59 297.18h3.25v3.24h-3.25zM72.54 297.18h5.90v3.24h-5.90zM122.85 297.18h3.25v3.24h-3.25zM67.24 299.82h3.25v3.24h-3.25zM67.24 302.46h3.25v3.24h-3.25zM67.24 310.38h3.25v3.24h-3.25zM67.24 313.02h3.25v3.24h-3.25zM72.54 315.66h5.90v3.24h-5.90zM72.54 318.30h5.90v3.24h-5.90zM72.54 320.94h3.25v3.24h-3.25zM91.07 320.94h5.90v3.24h-5.90zM88.42 323.58h3.25v3.24h-3.25zM54.00 326.22h3.25v3.24h-3.25zM91.07 328.86h3.25v3.24h-3.25zM138.74 328.86h5.90v3.24h-5.90zM151.98 328.86h3.25v3.24h-3.25z"/>
<path fill="#8c2369" d="M99.02 199.50h3.25v3.24h-3.25zM122.85 199.50h3.25v3.24h-3.25zM114.90 204.78h3.25v3.24h-3.25zM117.55 210.06h3.25v3.24h-3.25zM83.13 212.70h3.25v3.24h-3.25zM77.83 215.34h3.25v3.24h-3.25zM83.13 215.34h3.25v3.24h-3.25zM77.83 217.98h3.25v3.24h-3.25zM151.98 220.62h3.25v3.24h-3.25zM151.98 228.54h3.25v3.24h-3.25zM61.94 236.46h3.25v3.24h-3.25zM67.24 236.46h3.25v3.24h-3.25zM69.89 241.74h3.25v3.24h-3.25zM54.00 247.02h3.25v3.24h-3.25zM54.00 252.30h3.25v3.24h-3.25zM67.24 254.94h3.25v3.24h-3.25zM54.00 262.86h8.54v3.24h-8.54zM154.62 270.78h3.25v3.24h-3.25zM85.78 273.42h3.25v3.24h-3.25zM91.07 273.42h3.25v3.24h-3.25zM151.98 273.42h3.25v3.24h-3.25zM85.78 276.06h3.25v3.24h-3.25zM149.33 276.06h3.25v3.24h-3.25zM91.07 278.70h3.25v3.24h-3.25zM96.37 278.70h3.25v3.24h-3.25zM151.98 281.34h3.25v3.24h-3.25zM93.72 283.98h5.90v3.24h-5.90zM54.00 291.90h3.25v3.24h-3.25zM59.30 294.54h3.25v3.24h-3.25zM61.94 297.18h3.25v3.24h-3.25zM64.59 302.46h3.25v3.24h-3.25zM64.59 305.10h3.25v3.24h-3.25zM64.59 307.74h3.25v3.24h-3.25zM64.59 310.38h3.25v3.24h-3.25zM64.59 313.02h3.25v3.24h-3.25zM93.72 326.22h3.25v3.24h-3.25zM112.26 328.86h3.25v3.24h-3.25z"/>
<path fill="#7f1e6c" d="M101.66 199.50h3.25v3.24h-3.25zM109.61 199.50h3.25v3.24h-3.25zM120.20 199.50h3.25v3.24h-3.25zM173.16 199.50h3.25v3.24h-3.25zM104.31 202.14h3.25v3.24h-3.25zM175.81 202.14h5.90v3.24h-5.90zM122.85 204.78h3.25v3.24h-3.25zM114.90 207.42h3.25v3.24h-3.25zM151.98 223.26h3.25v3.24h-3.25zM151.98 225.90h3.25v3.24h-3.25zM149.33 228.54h3.25v3.24h-3.25zM64.59 236.46h3.25v3.24h-3.25zM138.74 247.02h3.25v3.24h-3.25zM67.24 252.30h3.25v3.24h-3.25zM54.00 257.58h3.25v3.24h-3.25zM54.00 260.22h5.90v3.24h-5.90zM154.62 273.42h3.25v3.24h-3.25zM88.42 276.06h5.90v3.24h-5.90zM151.98 276.06h3.25v3.24h-3.25zM93.72 278.70h3.25v3.24h-3.25zM149.33 278.70h5.90v3.24h-5.90zM149.33 281.34h3.25v3.24h-3.25zM56.65 294.54h3.25v3.24h-3.25zM61.94 299.82h3.25v3.24h-3.25zM59.30 318.30h3.25v3.24h-3.25zM54.00 320.94h3.25v3.24h-3.25zM96.37 326.22h13.84v3.24h-13.84zM109.61 328.86h3.25v3.24h-3.25z"/>
<path fill="#721a6e" d="M104.31 199.50h5.90v3.24h-5.90zM120.20 204.78h3.25v3.24h-3.25zM117.55 207.42h3.25v3.24h-3.25zM149.33 223.26h3.25v3.24h-3.25zM149.33 225.90h3.25v3.24h-3.25zM59.30 239.10h3.25v3.24h-3.25zM56.65 241.74h3.25v3.24h-3.25zM56.65 247.02h3.25v3.24h-3.25zM136.09 247.02h3.25v3.24h-3.25zM59.30 257.58h3.25v3.24h-3.25zM59.30 315.66h3.25v3.24h-3.25zM56.65 318.30h3.25v3.24h-3.25z"/>
<path fill="#f78410" d="M128.14 199.50h3.25v3.24h-3.25zM130.79 207.42h3.25v3.24h-3.25zM167.86 207.42h3.25v3.24h-3.25zM130.79 210.06h3.25v3.24h-3.25zM165.22 210.06h3.25v3.24h-3.25zM173.16 212.70h5.90v3.24h-5.90zM88.42 215.34h3.25v3.24h-3.25zM136.09 215.34h8.54v3.24h-8.54zM130.79 220.62h3.25v3.24h-3.25zM120.20 223.26h3.25v3.24h-3.25zM130.79 223.26h3.25v3.24h-3.25zM77.83 225.90h3.25v3.24h-3.25zM125.50 231.18h3.25v3.24h-3.25zM99.02 236.46h3.25v3.24h-3.25zM120.20 236.46h3.25v3.24h-3.25zM125.50 236.46h3.25v3.24h-3.25zM125.50 239.10h3.25v3.24h-3.25zM99.02 241.74h3.25v3.24h-3.25zM120.20 241.74h5.90v3.24h-5.90zM120.20 252.30h3.25v3.24h-3.25zM117.55 254.94h3.25v3.24h-3.25zM114.90 257.58h3.25v3.24h-3.25zM93.72 260.22h5.90v3.24h-5.90zM93.72 265.50h3.25v3.24h-3.25zM67.24 273.42h3.25v3.24h-3.25zM112.26 273.42h3.25v3.24h-3.25zM64.59 278.70h3.25v3.24h-3.25zM69.89 281.34h3.25v3.24h-3.25zM96.37 297.18h3.25v3.24h-3.25zM159.92 305.10h3.25v3.24h-3.25zM175.81 313.02h3.25v3.24h-3.25z"/>
<path fill="#fcb216" d="M130.79 199.50h3.25v3.24h-3.25zM133.44 204.78h3.25v3.24h-3.25zM141.38 212.70h5.90v3.24h-5.90zM93.72 217.98h3.25v3.24h-3.25zM88.42 225.90h3.25v3.24h-3.25zM96.37 244.38h3.25v3.24h-3.25zM138.74 254.94h3.25v3.24h-3.25zM122.85 262.86h3.25v3.24h-3.25zM122.85 265.50h3.25v3.24h-3.25zM151.98 294.54h3.25v3.24h-3.25zM99.02 297.18h3.25v3.24h-3.25zM146.68 297.18h3.25v3.24h-3.25zM159.92 299.82h3.25v3.24h-3.25zM154.62 305.10h3.25v3.24h-3.25zM101.66 307.74h3.25v3.24h-3.25zM109.61 307.74h3.25v3.24h-3.25zM149.33 307.74h3.25v3.24h-3.25z"/>
<path fill="#fbba1f" d="M133.44 199.50h3.25v3.24h-3.25zM133.44 202.14h3.25v3.24h-3.25zM154.62 204.78h3.25v3.24h-3.25zM136.09 210.06h3.25v3.24h-3.25zM104.31 220.62h3.25v3.24h-3.25zM91.07 223.26h3.25v3.24h-3.25zM80.48 228.54h3.25v3.24h-3.25zM85.78 228.54h5.90v3.24h-5.90zM101.66 228.54h3.25v3.24h-3.25zM99.02 231.18h3.25v3.24h-3.25zM99.02 247.02h3.25v3.24h-3.25zM125.50 252.30h3.25v3.24h-3.25zM133.44 252.30h3.25v3.24h-3.25zM122.85 260.22h3.25v3.24h-3.25zM162.57 294.54h3.25v3.24h-3.25zM109.61 299.82h3.25v3.24h-3.25zM109.61 302.46h3.25v3.24h-3.25zM141.38 305.10h3.25v3.24h-3.25zM104.31 307.74h5.90v3.24h-5.90z"/>
<path fill="#fac228" d="M136.09 199.50h3.25v3.24h-3.25zM136.09 202.14h3.25v3.24h-3.25zM104.31 225.90h3.25v3.24h-3.25zM83.13 228.54h3.25v3.24h-3.25zM91.07 231.18h3.25v3.24h-3.25zM93.72 233.82h5.90v3.24h-5.90zM128.14 252.30h5.90v3.24h-5.90zM120.20 257.58h3.25v3.24h-3.25zM125.50 257.58h5.90v3.24h-5.90zM136.09 257.58h3.25v3.24h-3.25zM120.20 270.78h3.25v3.24h-3.25zM114.90 273.42h5.90v3.24h-5.90zM101.66 294.54h3.25v3.24h-3.25zM109.61 294.54h3.25v3.24h-3.25zM109.61 297.18h3.25v3.24h-3.25zM99.02 299.82h3.25v3.24h-3.25zM157.27 302.46h3.25v3.24h-3.25zM99.02 305.10h3.25v3.24h-3.25zM109.61 305.10h3.25v3.24h-3.25zM151.98 305.10h3.25v3.24h-3.25zM146.68 307.74h3.25v3.24h-3.25z"/>
<path fill="#f7d13d" d="M138.74 199.50h3.25v3.24h-3.25zM93.72 220.62h3.25v3.24h-3.25zM133.44 257.58h3.25v3.24h-3.25zM120.20 260.22h3.25v3.24h-3.25zM106.96 294.54h3.25v3.24h-3.25zM157.27 294.54h5.90v3.24h-5.90zM149.33 297.18h3.25v3.24h-3.25zM146.68 299.82h3.25v3.24h-3.25zM149.33 305.10h3.25v3.24h-3.25z"/>
<path fill="#f2e865" d="M141.38 199.50h3.25v3.24h-3.25zM149.33 199.50h3.25v3.24h-3.25zM96.37 220.62h3.25v3.24h-3.25zM101.66 220.62h3.25v3.24h-3.25zM93.72 225.90h3.25v3.24h-3.25zM96.37 228.54h3.25v3.24h-3.25zM136.09 254.94h3.25v3.24h-3.25zM117.55 262.86h3.25v3.24h-3.25zM120.20 265.50h3.25v3.24h-3.25zM114.90 268.14h3.25v3.24h-3.25zM117.55 270.78h3.25v3.24h-3.25zM151.98 297.18h3.25v3.24h-3.25zM101.66 299.82h3.25v3.24h-3.25zM101.66 302.46h3.25v3.24h-3.25z"/>
<path fill="#f1ef75" d="M144.03 199.50h5.90v3.24h-5.90zM141.38 202.14h3.25v3.24h-3.25zM149.33 202.14h3.25v3.24h-3.25zM141.38 204.78h3.25v3.24h-3.25zM141.38 207.42h3.25v3.24h-3.25zM149.33 207.42h3.25v3.24h-3.25zM101.66 225.90h3.25v3.24h-3.25zM128.14 254.94h3.25v3.24h-3.25zM104.31 297.18h3.25v3.24h-3.25zM154.62 297.18h3.25v3.24h-3.25zM104.31 299.82h3.25v3.24h-3.25zM149.33 299.82h3.25v3.24h-3.25zM104.31 302.46h3.25v3.24h-3.25zM149.33 302.46h5.90v3.24h-5.90z"/>
<path fill="#f4e156" d="M151.98 199.50h3.25v3.24h-3.25zM151.98 202.14h3.25v3.24h-3.25zM138.74 204.78h3.25v3.24h-3.25zM151.98 204.78h3.25v3.24h-3.25zM138.74 207.42h3.25v3.24h-3.25zM144.03 210.06h5.90v3.24h-5.90zM93.72 223.26h3.25v3.24h-3.25zM93.72 228.54h3.25v3.24h-3.25zM125.50 254.94h3.25v3.24h-3.25zM114.90 265.50h3.25v3.24h-3.25zM120.20 268.14h3.25v3.24h-3.25zM114.90 270.78h3.25v3.24h-3.25zM101.66 297.18h3.25v3.24h-3.25zM106.96 297.18h3.25v3.24h-3.25zM157.27 297.18h3.25v3.24h-3.25zM146.68 302.46h3.25v3.24h-3.25zM154.62 302.46h3.25v3.24h-3.25zM104.31 305.10h3.25v3.24h-3.25z"/>
<path fill="#f9c932" d="M154.62 199.50h3.25v3.24h-3.25zM154.62 202.14h3.25v3.24h-3.25zM136.09 204.78h3.25v3.24h-3.25zM136.09 207.42h3.25v3.24h-3.25zM151.98 207.42h3.25v3.24h-3.25zM138.74 210.06h3.25v3.24h-3.25zM149.33 210.06h3.25v3.24h-3.25zM91.07 225.90h3.25v3.24h-3.25zM91.07 228.54h3.25v3.24h-3.25zM96.37 247.02h3.25v3.24h-3.25zM122.85 254.94h3.25v3.24h-3.25zM122.85 257.58h3.25v3.24h-3.25zM130.79 257.58h3.25v3.24h-3.25zM117.55 260.22h3.25v3.24h-3.25zM114.90 262.86h3.25v3.24h-3.25zM154.62 294.54h3.25v3.24h-3.25zM159.92 297.18h3.25v3.24h-3.25zM99.02 302.46h3.25v3.24h-3.25zM144.03 302.46h3.25v3.24h-3.25zM144.03 307.74h3.25v3.24h-3.25z"/>
<path fill="#fa9407" d="M157.27 199.50h3.25v3.24h-3.25zM157.27 202.14h3.25v3.24h-3.25zM130.79 204.78h3.25v3.24h-3.25zM167.86 210.06h3.25v3.24h-3.25zM130.79 212.70h3.25v3.24h-3.25zM99.02 217.98h3.25v3.24h-3.25zM128.14 217.98h3.25v3.24h-3.25zM125.50 220.62h5.90v3.24h-5.90zM88.42 223.26h3.25v3.24h-3.25zM106.96 223.26h3.25v3.24h-3.25zM128.14 223.26h3.25v3.24h-3.25zM128.14 225.90h5.90v3.24h-5.90zM104.31 228.54h3.25v3.24h-3.25zM122.85 228.54h5.90v3.24h-5.90zM133.44 228.54h3.25v3.24h-3.25zM91.07 236.46h3.25v3.24h-3.25zM122.85 236.46h3.25v3.24h-3.25zM122.85 239.10h3.25v3.24h-3.25zM96.37 241.74h3.25v3.24h-3.25zM99.02 249.66h3.25v3.24h-3.25zM138.74 257.58h3.25v3.24h-3.25zM125.50 260.22h3.25v3.24h-3.25zM93.72 262.86h3.25v3.24h-3.25zM120.20 273.42h3.25v3.24h-3.25zM67.24 276.06h5.90v3.24h-5.90zM114.90 276.06h3.25v3.24h-3.25zM69.89 278.70h3.25v3.24h-3.25zM109.61 291.90h3.25v3.24h-3.25zM165.22 294.54h3.25v3.24h-3.25zM96.37 299.82h3.25v3.24h-3.25zM112.26 299.82h3.25v3.24h-3.25zM112.26 302.46h3.25v3.24h-3.25zM151.98 310.38h3.25v3.24h-3.25zM149.33 313.02h3.25v3.24h-3.25z"/>
<path fill="#c43c4e" d="M162.57 199.50h3.25v3.24h-3.25zM91.07 202.14h3.25v3.24h-3.25zM125.50 202.14h3.25v3.24h-3.25zM54.00 204.78h3.25v3.24h-3.25zM77.83 207.42h3.25v3.24h-3.25zM96.37 207.42h3.25v3.24h-3.25zM181.10 207.42h3.25v3.24h-3.25zM117.55 212.70h3.25v3.24h-3.25zM106.96 215.34h3.25v3.24h-3.25zM154.62 215.34h3.25v3.24h-3.25zM69.89 217.98h3.25v3.24h-3.25zM157.27 217.98h3.25v3.24h-3.25zM72.54 223.26h3.25v3.24h-3.25zM159.92 223.26h3.25v3.24h-3.25zM173.16 223.26h8.54v3.24h-8.54zM159.92 225.90h3.25v3.24h-3.25zM64.59 228.54h5.90v3.24h-5.90zM61.94 231.18h3.25v3.24h-3.25zM69.89 231.18h3.25v3.24h-3.25zM114.90 231.18h3.25v3.24h-3.25zM59.30 233.82h3.25v3.24h-3.25zM112.26 233.82h5.90v3.24h-5.90zM72.54 236.46h3.25v3.24h-3.25zM154.62 236.46h11.19v3.24h-11.19zM149.33 239.10h3.25v3.24h-3.25zM165.22 239.10h3.25v3.24h-3.25zM75.18 241.74h3.25v3.24h-3.25zM146.68 241.74h3.25v3.24h-3.25zM151.98 241.74h3.25v3.24h-3.25zM80.48 244.38h3.25v3.24h-3.25zM146.68 244.38h3.25v3.24h-3.25zM170.51 244.38h3.25v3.24h-3.25zM112.26 247.02h3.25v3.24h-3.25zM146.68 247.02h3.25v3.24h-3.25zM173.16 247.02h3.25v3.24h-3.25zM112.26 249.66h3.25v3.24h-3.25zM144.03 249.66h3.25v3.24h-3.25zM175.81 249.66h3.25v3.24h-3.25zM157.27 252.30h3.25v3.24h-3.25zM178.46 252.30h3.25v3.24h-3.25zM72.54 254.94h3.25v3.24h-3.25zM157.27 254.94h3.25v3.24h-3.25zM159.92 257.58h3.25v3.24h-3.25zM72.54 262.86h3.25v3.24h-3.25zM104.31 262.86h5.90v3.24h-5.90zM165.22 262.86h3.25v3.24h-3.25zM178.46 262.86h3.25v3.24h-3.25zM64.59 265.50h3.25v3.24h-3.25zM77.83 265.50h5.90v3.24h-5.90zM130.79 265.50h5.90v3.24h-5.90zM151.98 265.50h3.25v3.24h-3.25zM167.86 265.50h3.25v3.24h-3.25zM173.16 265.50h5.90v3.24h-5.90zM130.79 268.14h3.25v3.24h-3.25zM59.30 270.78h3.25v3.24h-3.25zM80.48 270.78h3.25v3.24h-3.25zM93.72 270.78h3.25v3.24h-3.25zM99.02 273.42h3.25v3.24h-3.25zM106.96 273.42h3.25v3.24h-3.25zM106.96 276.06h3.25v3.24h-3.25zM125.50 276.06h3.25v3.24h-3.25zM130.79 276.06h3.25v3.24h-3.25zM77.83 278.70h3.25v3.24h-3.25zM133.44 278.70h3.25v3.24h-3.25zM159.92 278.70h3.25v3.24h-3.25zM101.66 281.34h3.25v3.24h-3.25zM114.90 281.34h3.25v3.24h-3.25zM133.44 281.34h3.25v3.24h-3.25zM59.30 283.98h3.25v3.24h-3.25zM130.79 283.98h3.25v3.24h-3.25zM157.27 283.98h3.25v3.24h-3.25zM77.83 286.62h3.25v3.24h-3.25zM101.66 286.62h3.25v3.24h-3.25zM109.61 286.62h3.25v3.24h-3.25zM149.33 286.62h8.54v3.24h-8.54zM64.59 289.26h3.25v3.24h-3.25zM72.54 289.26h8.54v3.24h-8.54zM96.37 289.26h3.25v3.24h-3.25zM128.14 289.26h3.25v3.24h-3.25zM83.13 291.90h3.25v3.24h-3.25zM91.07 291.90h3.25v3.24h-3.25zM133.44 291.90h3.25v3.24h-3.25zM80.48 294.54h3.25v3.24h-3.25zM133.44 294.54h3.25v3.24h-3.25zM80.48 297.18h3.25v3.24h-3.25zM133.44 297.18h3.25v3.24h-3.25zM80.48 299.82h3.25v3.24h-3.25zM128.14 299.82h3.25v3.24h-3.25zM175.81 302.46h5.90v3.24h-5.90zM122.85 305.10h3.25v3.24h-3.25zM133.44 305.10h3.25v3.24h-3.25zM175.81 305.10h3.25v3.24h-3.25zM72.54 307.74h3.25v3.24h-3.25zM77.83 307.74h3.25v3.24h-3.25zM130.79 307.74h5.90v3.24h-5.90zM77.83 310.38h3.25v3.24h-3.25zM181.10 310.38h3.25v3.24h-3.25zM183.75 313.02h3.25v3.24h-3.25zM93.72 315.66h3.25v3.24h-3.25zM122.85 315.66h3.25v3.24h-3.25zM136.09 315.66h3.25v3.24h-3.25zM88.42 318.30h3.25v3.24h-3.25zM141.38 318.30h3.25v3.24h-3.25zM80.48 320.94h5.90v3.24h-5.90zM130.79 320.94h3.25v3.24h-3.25zM149.33 320.94h8.54v3.24h-8.54zM130.79 323.58h3.25v3.24h-3.25zM157.27 323.58h3.25v3.24h-3.25zM170.51 323.58h8.54v3.24h-8.54zM64.59 326.22h3.25v3.24h-3.25zM120.20 326.22h3.25v3.24h-3.25zM130.79 326.22h3.25v3.24h-3.25zM59.30 328.86h3.25v3.24h-3.25zM130.79 328.86h3.25v3.24h-3.25z"/>
<path fill="#ab2f5e" d="M165.22 199.50h3.25v3.24h-3.25zM101.66 207.42h3.25v3.24h-3.25zM77.83 210.06h3.25v3.24h-3.25zM106.96 210.06h3.25v3.24h-3.25zM112.26 210.06h3.25v3.24h-3.25zM99.02 212.70h3.25v3.24h-3.25zM75.18 215.34h3.25v3.24h-3.25zM149.33 217.98h3.25v3.24h-3.25zM144.03 223.26h3.25v3.24h-3.25zM144.03 225.90h3.25v3.24h-3.25zM157.27 239.10h5.90v3.24h-5.90zM138.74 241.74h3.25v3.24h-3.25zM154.62 241.74h3.25v3.24h-3.25zM162.57 241.74h3.25v3.24h-3.25zM144.03 244.38h3.25v3.24h-3.25zM157.27 244.38h3.25v3.24h-3.25zM165.22 244.38h3.25v3.24h-3.25zM130.79 247.02h3.25v3.24h-3.25zM75.18 249.66h3.25v3.24h-3.25zM170.51 249.66h3.25v3.24h-3.25zM170.51 252.30h5.90v3.24h-5.90zM69.89 257.58h3.25v3.24h-3.25zM69.89 260.22h3.25v3.24h-3.25zM167.86 260.22h3.25v3.24h-3.25zM67.24 262.86h3.25v3.24h-3.25zM170.51 262.86h5.90v3.24h-5.90zM56.65 268.14h3.25v3.24h-3.25zM157.27 268.14h3.25v3.24h-3.25zM56.65 273.42h3.25v3.24h-3.25zM56.65 276.06h3.25v3.24h-3.25zM56.65 278.70h3.25v3.24h-3.25zM99.02 278.70h3.25v3.24h-3.25zM128.14 278.70h3.25v3.24h-3.25zM157.27 278.70h3.25v3.24h-3.25zM56.65 281.34h3.25v3.24h-3.25zM80.48 281.34h3.25v3.24h-3.25zM85.78 281.34h5.90v3.24h-5.90zM120.20 281.34h3.25v3.24h-3.25zM56.65 283.98h3.25v3.24h-3.25zM80.48 283.98h3.25v3.24h-3.25zM85.78 283.98h5.90v3.24h-5.90zM114.90 283.98h3.25v3.24h-3.25zM125.50 283.98h3.25v3.24h-3.25zM146.68 283.98h3.25v3.24h-3.25zM56.65 286.62h3.25v3.24h-3.25zM122.85 286.62h3.25v3.24h-3.25zM85.78 289.26h5.90v3.24h-5.90zM120.20 289.26h5.90v3.24h-5.90zM69.89 291.90h5.90v3.24h-5.90zM128.14 291.90h3.25v3.24h-3.25zM64.59 294.54h5.90v3.24h-5.90zM77.83 297.18h3.25v3.24h-3.25zM77.83 299.82h3.25v3.24h-3.25zM69.89 302.46h3.25v3.24h-3.25zM69.89 305.10h3.25v3.24h-3.25zM181.10 305.10h5.90v3.24h-5.90zM69.89 307.74h3.25v3.24h-3.25zM83.13 307.74h3.25v3.24h-3.25zM181.10 307.74h3.25v3.24h-3.25zM69.89 310.38h3.25v3.24h-3.25zM104.31 318.30h5.90v3.24h-5.90zM117.55 318.30h5.90v3.24h-5.90zM183.75 318.30h3.25v3.24h-3.25zM61.94 320.94h3.25v3.24h-3.25zM67.24 320.94h3.25v3.24h-3.25zM122.85 320.94h3.25v3.24h-3.25zM181.10 320.94h3.25v3.24h-3.25zM59.30 323.58h3.25v3.24h-3.25zM77.83 323.58h3.25v3.24h-3.25zM85.78 323.58h3.25v3.24h-3.25zM117.55 323.58h3.25v3.24h-3.25zM133.44 323.58h3.25v3.24h-3.25zM138.74 323.58h3.25v3.24h-3.25zM151.98 323.58h3.25v3.24h-3.25zM56.65 326.22h3.25v3.24h-3.25zM77.83 326.22h11.19v3.24h-11.19zM141.38 326.22h8.54v3.24h-8.54zM56.65 328.86h3.25v3.24h-3.25zM85.78 328.86h5.90v3.24h-5.90zM157.27 328.86h3.25v3.24h-3.25z"/>
<path fill="#922568" d="M170.51 199.50h3.25v3.24h-3.25zM117.55 202.14h3.25v3.24h-3.25zM173.16 202.14h3.25v3.24h-3.25zM104.31 204.78h11.19v3.24h-11.19zM112.26 207.42h3.25v3.24h-3.25zM80.48 210.06h3.25v3.24h-3.25zM146.68 228.54h3.25v3.24h-3.25zM149.33 231.18h3.25v3.24h-3.25zM56.65 239.10h3.25v3.24h-3.25zM69.89 239.10h3.25v3.24h-3.25zM141.38 244.38h3.25v3.24h-3.25zM54.00 249.66h3.25v3.24h-3.25zM67.24 257.58h3.25v3.24h-3.25zM67.24 260.22h3.25v3.24h-3.25zM61.94 262.86h3.25v3.24h-3.25zM157.27 273.42h3.25v3.24h-3.25zM146.68 278.70h3.25v3.24h-3.25zM154.62 278.70h3.25v3.24h-3.25zM146.68 281.34h3.25v3.24h-3.25zM56.65 291.90h3.25v3.24h-3.25zM64.59 299.82h3.25v3.24h-3.25zM61.94 318.30h3.25v3.24h-3.25zM54.00 323.58h3.25v3.24h-3.25zM93.72 323.58h19.14v3.24h-19.14zM112.26 326.22h3.25v3.24h-3.25z"/>
<path fill="#781c6d" d="M175.81 199.50h11.19v3.24h-11.19zM106.96 202.14h3.25v3.24h-3.25zM120.20 202.14h3.25v3.24h-3.25zM117.55 204.78h3.25v3.24h-3.25zM80.48 212.70h3.25v3.24h-3.25zM80.48 215.34h3.25v3.24h-3.25zM56.65 249.66h3.25v3.24h-3.25zM56.65 252.30h3.25v3.24h-3.25zM56.65 254.94h3.25v3.24h-3.25zM56.65 257.58h3.25v3.24h-3.25zM64.59 257.58h3.25v3.24h-3.25zM59.30 260.22h5.90v3.24h-5.90zM54.00 294.54h3.25v3.24h-3.25zM59.30 297.18h3.25v3.24h-3.25zM61.94 302.46h3.25v3.24h-3.25zM61.94 305.10h3.25v3.24h-3.25zM61.94 307.74h3.25v3.24h-3.25zM61.94 310.38h3.25v3.24h-3.25zM61.94 313.02h3.25v3.24h-3.25zM96.37 328.86h13.84v3.24h-13.84z"/>
<path fill="#d44842" d="M88.42 202.14h3.25v3.24h-3.25zM80.48 204.78h5.90v3.24h-5.90zM91.07 204.78h3.25v3.24h-3.25zM75.18 207.42h3.25v3.24h-3.25zM54.00 210.06h3.25v3.24h-3.25zM69.89 212.70h3.25v3.24h-3.25zM96.37 212.70h3.25v3.24h-3.25zM112.26 212.70h5.90v3.24h-5.90zM67.24 215.34h3.25v3.24h-3.25zM109.61 215.34h3.25v3.24h-3.25zM85.78 217.98h3.25v3.24h-3.25zM159.92 217.98h3.25v3.24h-3.25zM141.38 220.62h3.25v3.24h-3.25zM175.81 220.62h5.90v3.24h-5.90zM77.83 223.26h3.25v3.24h-3.25zM54.00 225.90h8.54v3.24h-8.54zM64.59 225.90h3.25v3.24h-3.25zM69.89 225.90h3.25v3.24h-3.25zM112.26 225.90h5.90v3.24h-5.90zM141.38 225.90h3.25v3.24h-3.25zM54.00 231.18h3.25v3.24h-3.25zM54.00 233.82h3.25v3.24h-3.25zM72.54 233.82h3.25v3.24h-3.25zM106.96 233.82h3.25v3.24h-3.25zM141.38 233.82h3.25v3.24h-3.25zM157.27 233.82h5.90v3.24h-5.90zM114.90 236.46h3.25v3.24h-3.25zM75.18 239.10h3.25v3.24h-3.25zM80.48 239.10h5.90v3.24h-5.90zM112.26 239.10h3.25v3.24h-3.25zM170.51 239.10h3.25v3.24h-3.25zM106.96 241.74h3.25v3.24h-3.25zM85.78 244.38h3.25v3.24h-3.25zM128.14 244.38h3.25v3.24h-3.25zM151.98 249.66h5.90v3.24h-5.90zM106.96 252.30h3.25v3.24h-3.25zM144.03 252.30h3.25v3.24h-3.25zM93.72 254.94h3.25v3.24h-3.25zM99.02 257.58h3.25v3.24h-3.25zM144.03 257.58h3.25v3.24h-3.25zM101.66 260.22h3.25v3.24h-3.25zM109.61 260.22h3.25v3.24h-3.25zM141.38 260.22h3.25v3.24h-3.25zM101.66 262.86h3.25v3.24h-3.25zM133.44 262.86h5.90v3.24h-5.90zM67.24 265.50h3.25v3.24h-3.25zM72.54 265.50h3.25v3.24h-3.25zM101.66 265.50h3.25v3.24h-3.25zM106.96 265.50h3.25v3.24h-3.25zM128.14 265.50h3.25v3.24h-3.25zM75.18 268.14h3.25v3.24h-3.25zM128.14 268.14h3.25v3.24h-3.25zM165.22 268.14h3.25v3.24h-3.25zM77.83 270.78h3.25v3.24h-3.25zM128.14 270.78h3.25v3.24h-3.25zM165.22 270.78h5.90v3.24h-5.90zM165.22 273.42h3.25v3.24h-3.25zM77.83 276.06h3.25v3.24h-3.25zM138.74 276.06h3.25v3.24h-3.25zM104.31 278.70h3.25v3.24h-3.25zM141.38 278.70h3.25v3.24h-3.25zM75.18 281.34h3.25v3.24h-3.25zM104.31 281.34h3.25v3.24h-3.25zM138.74 281.34h3.25v3.24h-3.25zM173.16 283.98h3.25v3.24h-3.25zM64.59 286.62h11.19v3.24h-11.19zM173.16 286.62h3.25v3.24h-3.25zM99.02 289.26h3.25v3.24h-3.25zM112.26 289.26h3.25v3.24h-3.25zM141.38 289.26h3.25v3.24h-3.25zM173.16 289.26h3.25v3.24h-3.25zM173.16 291.90h3.25v3.24h-3.25zM83.13 294.54h11.19v3.24h-11.19zM173.16 294.54h3.25v3.24h-3.25zM173.16 297.18h3.25v3.24h-3.25zM183.75 297.18h3.25v3.24h-3.25zM83.13 299.82h3.25v3.24h-3.25zM117.55 299.82h3.25v3.24h-3.25zM173.16 299.82h3.25v3.24h-3.25zM117.55 302.46h3.25v3.24h-3.25zM136.09 305.10h3.25v3.24h-3.25zM167.86 305.10h3.25v3.24h-3.25zM120.20 307.74h3.25v3.24h-3.25zM136.09 307.74h3.25v3.24h-3.25zM173.16 307.74h3.25v3.24h-3.25zM85.78 310.38h3.25v3.24h-3.25zM120.20 310.38h5.90v3.24h-5.90zM136.09 310.38h3.25v3.24h-3.25zM162.57 310.38h5.90v3.24h-5.90zM96.37 313.02h3.25v3.24h-3.25zM101.66 313.02h16.49v3.24h-16.49zM165.22 313.02h3.25v3.24h-3.25zM91.07 315.66h3.25v3.24h-3.25zM144.03 315.66h3.25v3.24h-3.25zM159.92 315.66h5.90v3.24h-5.90zM80.48 318.30h3.25v3.24h-3.25zM85.78 318.30h3.25v3.24h-3.25zM144.03 318.30h3.25v3.24h-3.25zM157.27 320.94h3.25v3.24h-3.25zM162.57 326.22h5.90v3.24h-5.90zM122.85 328.86h5.90v3.24h-5.90zM181.10 328.86h5.90v3.24h-5.90z"/>
<path fill="#b73557" d="M93.72 202.14h3.25v3.24h-3.25zM96.37 204.78h3.25v3.24h-3.25zM125.50 204.78h3.25v3.24h-3.25zM75.18 212.70h3.25v3.24h-3.25zM122.85 212.70h3.25v3.24h-3.25zM101.66 215.34h3.25v3.24h-3.25zM144.03 220.62h3.25v3.24h-3.25zM157.27 220.62h3.25v3.24h-3.25zM64.59 231.18h5.90v3.24h-5.90zM144.03 231.18h3.25v3.24h-3.25zM151.98 233.82h3.25v3.24h-3.25zM56.65 236.46h3.25v3.24h-3.25zM146.68 236.46h5.90v3.24h-5.90zM72.54 239.10h3.25v3.24h-3.25zM141.38 239.10h5.90v3.24h-5.90zM165.22 241.74h3.25v3.24h-3.25zM130.79 244.38h3.25v3.24h-3.25zM154.62 244.38h3.25v3.24h-3.25zM167.86 244.38h3.25v3.24h-3.25zM170.51 247.02h3.25v3.24h-3.25zM77.83 249.66h3.25v3.24h-3.25zM138.74 249.66h3.25v3.24h-3.25zM72.54 252.30h3.25v3.24h-3.25zM175.81 252.30h3.25v3.24h-3.25zM178.46 254.94h3.25v3.24h-3.25zM162.57 257.58h3.25v3.24h-3.25zM178.46 257.58h3.25v3.24h-3.25zM165.22 260.22h3.25v3.24h-3.25zM178.46 260.22h3.25v3.24h-3.25zM175.81 262.86h3.25v3.24h-3.25zM154.62 265.50h3.25v3.24h-3.25zM59.30 268.14h3.25v3.24h-3.25zM83.13 270.78h3.25v3.24h-3.25zM88.42 270.78h3.25v3.24h-3.25zM149.33 270.78h3.25v3.24h-3.25zM159.92 270.78h3.25v3.24h-3.25zM159.92 273.42h3.25v3.24h-3.25zM80.48 276.06h3.25v3.24h-3.25zM99.02 276.06h3.25v3.24h-3.25zM130.79 278.70h3.25v3.24h-3.25zM144.03 278.70h3.25v3.24h-3.25zM77.83 281.34h3.25v3.24h-3.25zM144.03 281.34h3.25v3.24h-3.25zM157.27 281.34h3.25v3.24h-3.25zM112.26 283.98h3.25v3.24h-3.25zM128.14 283.98h3.25v3.24h-3.25zM112.26 286.62h3.25v3.24h-3.25zM125.50 286.62h3.25v3.24h-3.25zM80.48 289.26h3.25v3.24h-3.25zM93.72 289.26h3.25v3.24h-3.25zM125.50 289.26h3.25v3.24h-3.25zM64.59 291.90h3.25v3.24h-3.25zM77.83 291.90h3.25v3.24h-3.25zM130.79 291.90h3.25v3.24h-3.25zM120.20 294.54h3.25v3.24h-3.25zM120.20 297.18h3.25v3.24h-3.25zM75.18 302.46h8.54v3.24h-8.54zM120.20 302.46h3.25v3.24h-3.25zM178.46 305.10h3.25v3.24h-3.25zM80.48 307.74h3.25v3.24h-3.25zM72.54 310.38h3.25v3.24h-3.25zM77.83 315.66h3.25v3.24h-3.25zM99.02 315.66h3.25v3.24h-3.25zM106.96 315.66h5.90v3.24h-5.90zM77.83 318.30h3.25v3.24h-3.25zM91.07 318.30h3.25v3.24h-3.25zM133.44 318.30h3.25v3.24h-3.25zM138.74 318.30h3.25v3.24h-3.25zM181.10 318.30h3.25v3.24h-3.25zM85.78 320.94h3.25v3.24h-3.25zM178.46 320.94h3.25v3.24h-3.25zM122.85 323.58h3.25v3.24h-3.25zM146.68 323.58h3.25v3.24h-3.25zM181.10 323.58h3.25v3.24h-3.25zM157.27 326.22h3.25v3.24h-3.25zM67.24 328.86h3.25v3.24h-3.25zM117.55 328.86h3.25v3.24h-3.25z"/>
<path fill="#a52c60" d="M96.37 202.14h3.25v3.24h-3.25zM114.90 202.14h3.25v3.24h-3.25zM170.51 202.14h3.25v3.24h-3.25zM99.02 204.78h3.25v3.24h-3.25zM183.75 204.78h3.25v3.24h-3.25zM104.31 207.42h5.90v3.24h-5.90zM151.98 217.98h3.25v3.24h-3.25zM154.62 220.62h3.25v3.24h-3.25zM154.62 228.54h3.25v3.24h-3.25zM151.98 231.18h3.25v3.24h-3.25zM64.59 233.82h5.90v3.24h-5.90zM146.68 233.82h5.90v3.24h-5.90zM141.38 241.74h3.25v3.24h-3.25zM72.54 244.38h3.25v3.24h-3.25zM159.92 244.38h5.90v3.24h-5.90zM75.18 247.02h3.25v3.24h-3.25zM162.57 247.02h3.25v3.24h-3.25zM167.86 247.02h3.25v3.24h-3.25zM72.54 249.66h3.25v3.24h-3.25zM162.57 249.66h3.25v3.24h-3.25zM69.89 252.30h3.25v3.24h-3.25zM167.86 252.30h3.25v3.24h-3.25zM162.57 254.94h11.19v3.24h-11.19zM175.81 254.94h3.25v3.24h-3.25zM167.86 257.58h3.25v3.24h-3.25zM175.81 257.58h3.25v3.24h-3.25zM175.81 260.22h3.25v3.24h-3.25zM59.30 265.50h3.25v3.24h-3.25zM54.00 268.14h3.25v3.24h-3.25zM154.62 268.14h3.25v3.24h-3.25zM54.00 270.78h3.25v3.24h-3.25zM83.13 273.42h3.25v3.24h-3.25zM149.33 273.42h3.25v3.24h-3.25zM146.68 276.06h3.25v3.24h-3.25zM83.13 278.70h3.25v3.24h-3.25zM125.50 278.70h3.25v3.24h-3.25zM83.13 281.34h3.25v3.24h-3.25zM122.85 281.34h3.25v3.24h-3.25zM128.14 281.34h3.25v3.24h-3.25zM154.62 281.34h3.25v3.24h-3.25zM54.00 283.98h3.25v3.24h-3.25zM83.13 283.98h3.25v3.24h-3.25zM99.02 283.98h3.25v3.24h-3.25zM117.55 283.98h3.25v3.24h-3.25zM122.85 283.98h3.25v3.24h-3.25zM151.98 283.98h3.25v3.24h-3.25zM54.00 286.62h3.25v3.24h-3.25zM83.13 286.62h11.19v3.24h-11.19zM96.37 286.62h3.25v3.24h-3.25zM114.90 286.62h3.25v3.24h-3.25zM56.65 289.26h3.25v3.24h-3.25zM122.85 291.90h5.90v3.24h-5.90zM69.89 294.54h3.25v3.24h-3.25zM122.85 294.54h3.25v3.24h-3.25zM128.14 294.54h3.25v3.24h-3.25zM67.24 297.18h5.90v3.24h-5.90zM125.50 297.18h3.25v3.24h-3.25zM69.89 299.82h8.54v3.24h-8.54zM122.85 299.82h3.25v3.24h-3.25zM83.13 305.10h3.25v3.24h-3.25zM183.75 307.74h3.25v3.24h-3.25zM69.89 313.02h8.54v3.24h-8.54zM67.24 315.66h5.90v3.24h-5.90zM64.59 318.30h8.54v3.24h-8.54zM69.89 320.94h3.25v3.24h-3.25zM75.18 320.94h3.25v3.24h-3.25zM88.42 320.94h3.25v3.24h-3.25zM96.37 320.94h27.08v3.24h-27.08zM136.09 320.94h3.25v3.24h-3.25zM183.75 320.94h3.25v3.24h-3.25zM69.89 323.58h8.54v3.24h-8.54zM114.90 323.58h3.25v3.24h-3.25zM136.09 323.58h3.25v3.24h-3.25zM69.89 326.22h8.54v3.24h-8.54zM88.42 326.22h3.25v3.24h-3.25zM114.90 326.22h3.25v3.24h-3.25zM136.09 326.22h5.90v3.24h-5.90zM149.33 326.22h8.54v3.24h-8.54zM54.00 328.86h3.25v3.24h-3.25zM69.89 328.86h16.49v3.24h-16.49zM114.90 328.86h3.25v3.24h-3.25zM136.09 328.86h3.25v3.24h-3.25zM144.03 328.86h8.54v3.24h-8.54zM154.62 328.86h3.25v3.24h-3.25z"/>
<path fill="#982766" d="M99.02 202.14h3.25v3.24h-3.25zM112.26 202.14h3.25v3.24h-3.25zM101.66 204.78h3.25v3.24h-3.25zM175.81 204.78h5.90v3.24h-5.90zM83.13 210.06h3.25v3.24h-3.25zM122.85 210.06h3.25v3.24h-3.25zM77.83 212.70h3.25v3.24h-3.25zM101.66 212.70h5.90v3.24h-5.90zM146.68 220.62h3.25v3.24h-3.25zM154.62 223.26h3.25v3.24h-3.25zM154.62 225.90h3.25v3.24h-3.25zM146.68 231.18h3.25v3.24h-3.25zM133.44 244.38h3.25v3.24h-3.25zM141.38 247.02h3.25v3.24h-3.25zM69.89 249.66h3.25v3.24h-3.25zM173.16 257.58h3.25v3.24h-3.25zM54.00 265.50h3.25v3.24h-3.25zM157.27 270.78h3.25v3.24h-3.25zM96.37 276.06h3.25v3.24h-3.25zM157.27 276.06h3.25v3.24h-3.25zM88.42 278.70h3.25v3.24h-3.25zM91.07 281.34h3.25v3.24h-3.25zM54.00 289.26h3.25v3.24h-3.25zM67.24 305.10h3.25v3.24h-3.25zM67.24 307.74h3.25v3.24h-3.25zM64.59 315.66h3.25v3.24h-3.25zM59.30 320.94h3.25v3.24h-3.25zM56.65 323.58h3.25v3.24h-3.25zM91.07 323.58h3.25v3.24h-3.25zM112.26 323.58h3.25v3.24h-3.25zM91.07 326.22h3.25v3.24h-3.25z"/>
<path fill="#85216b" d="M101.66 202.14h3.25v3.24h-3.25zM109.61 202.14h3.25v3.24h-3.25zM122.85 202.14h3.25v3.24h-3.25zM181.10 202.14h5.90v3.24h-5.90zM122.85 207.42h3.25v3.24h-3.25zM120.20 210.06h3.25v3.24h-3.25zM80.48 217.98h3.25v3.24h-3.25zM149.33 220.62h3.25v3.24h-3.25zM146.68 223.26h3.25v3.24h-3.25zM146.68 225.90h3.25v3.24h-3.25zM54.00 241.74h3.25v3.24h-3.25zM54.00 244.38h3.25v3.24h-3.25zM69.89 244.38h3.25v3.24h-3.25zM136.09 244.38h5.90v3.24h-5.90zM69.89 247.02h3.25v3.24h-3.25zM133.44 247.02h3.25v3.24h-3.25zM54.00 254.94h3.25v3.24h-3.25zM64.59 260.22h3.25v3.24h-3.25zM88.42 273.42h3.25v3.24h-3.25zM93.72 276.06h3.25v3.24h-3.25zM154.62 276.06h3.25v3.24h-3.25zM93.72 281.34h5.90v3.24h-5.90zM61.94 315.66h3.25v3.24h-3.25zM56.65 320.94h3.25v3.24h-3.25zM109.61 326.22h3.25v3.24h-3.25zM93.72 328.86h3.25v3.24h-3.25z"/>
<path fill="#f3761b" d="M128.14 202.14h3.25v3.24h-3.25zM157.27 207.42h3.25v3.24h-3.25zM165.22 207.42h3.25v3.24h-3.25zM91.07 210.06h3.25v3.24h-3.25zM128.14 212.70h3.25v3.24h-3.25zM165.22 212.70h5.90v3.24h-5.90zM144.03 215.34h3.25v3.24h-3.25zM178.46 215.34h3.25v3.24h-3.25zM133.44 223.26h3.25v3.24h-3.25zM106.96 228.54h3.25v3.24h-3.25zM128.14 231.18h5.90v3.24h-5.90zM85.78 233.82h3.25v3.24h-3.25zM120.20 233.82h3.25v3.24h-3.25zM88.42 236.46h3.25v3.24h-3.25zM99.02 239.10h3.25v3.24h-3.25zM91.07 241.74h3.25v3.24h-3.25zM125.50 241.74h3.25v3.24h-3.25zM122.85 249.66h3.25v3.24h-3.25zM128.14 260.22h3.25v3.24h-3.25zM133.44 260.22h3.25v3.24h-3.25zM125.50 262.86h3.25v3.24h-3.25zM96.37 265.50h3.25v3.24h-3.25zM64.59 273.42h3.25v3.24h-3.25zM72.54 278.70h3.25v3.24h-3.25zM64.59 281.34h3.25v3.24h-3.25zM159.92 289.26h3.25v3.24h-3.25zM112.26 291.90h3.25v3.24h-3.25zM149.33 291.90h3.25v3.24h-3.25zM144.03 294.54h3.25v3.24h-3.25zM114.90 297.18h3.25v3.24h-3.25zM93.72 299.82h3.25v3.24h-3.25zM165.22 299.82h3.25v3.24h-3.25zM162.57 302.46h3.25v3.24h-3.25zM138.74 305.10h3.25v3.24h-3.25zM157.27 307.74h3.25v3.24h-3.25zM101.66 310.38h3.25v3.24h-3.25zM109.61 310.38h3.25v3.24h-3.25zM154.62 310.38h3.25v3.24h-3.25zM170.51 313.02h3.25v3.24h-3.25zM149.33 315.66h3.25v3.24h-3.25z"/>
<path fill="#fcaa0f" d="M130.79 202.14h3.25v3.24h-3.25zM133.44 207.42h3.25v3.24h-3.25zM138.74 212.70h3.25v3.24h-3.25zM91.07 220.62h3.25v3.24h-3.25zM83.13 225.90h5.90v3.24h-5.90zM77.83 228.54h3.25v3.24h-3.25zM88.42 231.18h3.25v3.24h-3.25zM91.07 233.82h3.25v3.24h-3.25zM93.72 236.46h3.25v3.24h-3.25zM99.02 244.38h3.25v3.24h-3.25zM93.72 247.02h3.25v3.24h-3.25zM122.85 252.30h3.25v3.24h-3.25zM120.20 254.94h3.25v3.24h-3.25zM117.55 257.58h3.25v3.24h-3.25zM114.90 260.22h3.25v3.24h-3.25zM112.26 268.14h3.25v3.24h-3.25zM122.85 268.14h3.25v3.24h-3.25zM159.92 291.90h5.90v3.24h-5.90zM162.57 297.18h3.25v3.24h-3.25zM144.03 299.82h3.25v3.24h-3.25zM141.38 307.74h3.25v3.24h-3.25z"/>
<path fill="#f5d949" d="M138.74 202.14h3.25v3.24h-3.25zM141.38 210.06h3.25v3.24h-3.25zM104.31 223.26h3.25v3.24h-3.25zM99.02 228.54h3.25v3.24h-3.25zM93.72 231.18h5.90v3.24h-5.90zM120.20 262.86h3.25v3.24h-3.25zM104.31 294.54h3.25v3.24h-3.25zM106.96 299.82h3.25v3.24h-3.25zM157.27 299.82h3.25v3.24h-3.25zM106.96 302.46h3.25v3.24h-3.25zM101.66 305.10h3.25v3.24h-3.25zM106.96 305.10h3.25v3.24h-3.25zM144.03 305.10h5.90v3.24h-5.90z"/>
<path fill="#f3f586" d="M144.03 202.14h5.90v3.24h-5.90zM149.33 204.78h3.25v3.24h-3.25zM144.03 207.42h3.25v3.24h-3.25zM99.02 220.62h3.25v3.24h-3.25zM117.55 265.50h3.25v3.24h-3.25zM117.55 268.14h3.25v3.24h-3.25zM154.62 299.82h3.25v3.24h-3.25z"/>
<path fill="#d94d3d" d="M59.30 204.78h3.25v3.24h-3.25zM77.83 204.78h3.25v3.24h-3.25zM85.78 204.78h5.90v3.24h-5.90zM162.57 204.78h3.25v3.24h-3.25zM93.72 207.42h3.25v3.24h-3.25zM173.16 207.42h3.25v3.24h-3.25zM56.65 210.06h3.25v3.24h-3.25zM72.54 210.06h3.25v3.24h-3.25zM125.50 212.70h3.25v3.24h-3.25zM120.20 215.34h5.90v3.24h-5.90zM67.24 217.98h3.25v3.24h-3.25zM144.03 217.98h3.25v3.24h-3.25zM165.22 217.98h5.90v3.24h-5.90zM67.24 220.62h3.25v3.24h-3.25zM67.24 223.26h3.25v3.24h-3.25zM112.26 223.26h3.25v3.24h-3.25zM61.94 225.90h3.25v3.24h-3.25zM117.55 228.54h3.25v3.24h-3.25zM141.38 228.54h3.25v3.24h-3.25zM109.61 231.18h3.25v3.24h-3.25zM117.55 231.18h3.25v3.24h-3.25zM141.38 231.18h3.25v3.24h-3.25zM104.31 236.46h3.25v3.24h-3.25zM138.74 236.46h3.25v3.24h-3.25zM77.83 239.10h3.25v3.24h-3.25zM104.31 239.10h3.25v3.24h-3.25zM85.78 241.74h3.25v3.24h-3.25zM112.26 241.74h3.25v3.24h-3.25zM106.96 244.38h3.25v3.24h-3.25zM114.90 244.38h3.25v3.24h-3.25zM85.78 247.02h3.25v3.24h-3.25zM117.55 247.02h3.25v3.24h-3.25zM83.13 249.66h3.25v3.24h-3.25zM106.96 249.66h3.25v3.24h-3.25zM117.55 249.66h3.25v3.24h-3.25zM104.31 252.30h3.25v3.24h-3.25zM114.90 252.30h3.25v3.24h-3.25zM77.83 254.94h3.25v3.24h-3.25zM112.26 254.94h3.25v3.24h-3.25zM144.03 254.94h3.25v3.24h-3.25zM77.83 257.58h3.25v3.24h-3.25zM85.78 260.22h3.25v3.24h-3.25zM85.78 262.86h3.25v3.24h-3.25zM128.14 262.86h3.25v3.24h-3.25zM69.89 265.50h3.25v3.24h-3.25zM85.78 268.14h3.25v3.24h-3.25zM99.02 268.14h3.25v3.24h-3.25zM106.96 268.14h3.25v3.24h-3.25zM77.83 273.42h3.25v3.24h-3.25zM109.61 273.42h3.25v3.24h-3.25zM125.50 273.42h3.25v3.24h-3.25zM138.74 278.70h3.25v3.24h-3.25zM61.94 283.98h3.25v3.24h-3.25zM162.57 283.98h3.25v3.24h-3.25zM170.51 283.98h3.25v3.24h-3.25zM144.03 289.26h3.25v3.24h-3.25zM138.74 291.90h3.25v3.24h-3.25zM117.55 294.54h3.25v3.24h-3.25zM83.13 297.18h3.25v3.24h-3.25zM117.55 297.18h3.25v3.24h-3.25zM170.51 302.46h3.25v3.24h-3.25zM117.55 305.10h3.25v3.24h-3.25zM165.22 307.74h3.25v3.24h-3.25zM117.55 310.38h3.25v3.24h-3.25zM167.86 310.38h3.25v3.24h-3.25zM178.46 310.38h3.25v3.24h-3.25zM80.48 313.02h3.25v3.24h-3.25zM93.72 313.02h3.25v3.24h-3.25zM80.48 315.66h3.25v3.24h-3.25zM165.22 315.66h3.25v3.24h-3.25zM154.62 318.30h3.25v3.24h-3.25zM167.86 318.30h3.25v3.24h-3.25zM159.92 323.58h3.25v3.24h-3.25zM165.22 323.58h3.25v3.24h-3.25z"/>
<path fill="#f6fa96" d="M144.03 204.78h5.90v3.24h-5.90zM146.68 207.42h3.25v3.24h-3.25zM96.37 225.90h5.90v3.24h-5.90zM130.79 254.94h3.25v3.24h-3.25zM151.98 299.82h3.25v3.24h-3.25z"/>
<path fill="#f98b0b" d="M157.27 204.78h3.25v3.24h-3.25zM170.51 210.06h3.25v3.24h-3.25zM91.07 212.70h3.25v3.24h-3.25zM149.33 212.70h3.25v3.24h-3.25zM93.72 215.34h3.25v3.24h-3.25zM128.14 215.34h3.25v3.24h-3.25zM133.44 215.34h3.25v3.24h-3.25zM175.81 215.34h3.25v3.24h-3.25zM130.79 217.98h3.25v3.24h-3.25zM122.85 220.62h3.25v3.24h-3.25zM106.96 225.90h3.25v3.24h-3.25zM133.44 225.90h3.25v3.24h-3.25zM75.18 228.54h3.25v3.24h-3.25zM128.14 228.54h5.90v3.24h-5.90zM136.09 228.54h3.25v3.24h-3.25zM101.66 231.18h3.25v3.24h-3.25zM122.85 231.18h3.25v3.24h-3.25zM88.42 233.82h3.25v3.24h-3.25zM122.85 233.82h3.25v3.24h-3.25zM93.72 239.10h5.90v3.24h-5.90zM120.20 239.10h3.25v3.24h-3.25zM93.72 241.74h3.25v3.24h-3.25zM101.66 244.38h3.25v3.24h-3.25zM93.72 249.66h3.25v3.24h-3.25zM96.37 262.86h3.25v3.24h-3.25zM112.26 262.86h3.25v3.24h-3.25zM122.85 270.78h3.25v3.24h-3.25zM69.89 273.42h3.25v3.24h-3.25zM117.55 276.06h3.25v3.24h-3.25zM67.24 281.34h3.25v3.24h-3.25zM101.66 291.90h3.25v3.24h-3.25zM154.62 291.90h3.25v3.24h-3.25zM165.22 291.90h3.25v3.24h-3.25zM146.68 294.54h3.25v3.24h-3.25zM144.03 297.18h3.25v3.24h-3.25zM165.22 297.18h3.25v3.24h-3.25zM162.57 299.82h3.25v3.24h-3.25zM96.37 307.74h3.25v3.24h-3.25zM112.26 307.74h3.25v3.24h-3.25zM154.62 307.74h3.25v3.24h-3.25zM144.03 310.38h3.25v3.24h-3.25zM151.98 313.02h3.25v3.24h-3.25zM173.16 313.02h3.25v3.24h-3.25z"/>
<path fill="#6c186e" d="M120.20 207.42h3.25v3.24h-3.25zM67.24 239.10h3.25v3.24h-3.25zM56.65 244.38h3.25v3.24h-3.25zM64.59 254.94h3.25v3.24h-3.25zM61.94 257.58h3.25v3.24h-3.25zM56.65 297.18h3.25v3.24h-3.25zM59.30 299.82h3.25v3.24h-3.25zM54.00 318.30h3.25v3.24h-3.25z"/>
<path fill="#fca309" d="M154.62 207.42h3.25v3.24h-3.25zM133.44 210.06h3.25v3.24h-3.25zM151.98 210.06h3.25v3.24h-3.25zM136.09 212.70h3.25v3.24h-3.25zM146.68 212.70h3.25v3.24h-3.25zM91.07 215.34h3.25v3.24h-3.25zM91.07 217.98h3.25v3.24h-3.25zM96.37 217.98h3.25v3.24h-3.25zM85.78 231.18h3.25v3.24h-3.25zM96.37 236.46h3.25v3.24h-3.25zM93.72 244.38h3.25v3.24h-3.25zM136.09 252.30h3.25v3.24h-3.25zM112.26 265.50h3.25v3.24h-3.25zM112.26 270.78h3.25v3.24h-3.25zM106.96 291.90h3.25v3.24h-3.25zM157.27 291.90h3.25v3.24h-3.25zM149.33 294.54h3.25v3.24h-3.25zM96.37 302.46h3.25v3.24h-3.25zM96.37 305.10h3.25v3.24h-3.25zM99.02 307.74h3.25v3.24h-3.25zM151.98 307.74h3.25v3.24h-3.25zM146.68 310.38h5.90v3.24h-5.90z"/>
<path fill="#f57d15" d="M154.62 210.06h3.25v3.24h-3.25zM88.42 212.70h3.25v3.24h-3.25zM170.51 212.70h3.25v3.24h-3.25zM173.16 215.34h3.25v3.24h-3.25zM88.42 217.98h3.25v3.24h-3.25zM101.66 217.98h3.25v3.24h-3.25zM125.50 217.98h3.25v3.24h-3.25zM133.44 217.98h3.25v3.24h-3.25zM88.42 220.62h3.25v3.24h-3.25zM106.96 220.62h3.25v3.24h-3.25zM120.20 220.62h3.25v3.24h-3.25zM85.78 223.26h3.25v3.24h-3.25zM120.20 225.90h3.25v3.24h-3.25zM136.09 225.90h3.25v3.24h-3.25zM75.18 231.18h3.25v3.24h-3.25zM133.44 231.18h5.90v3.24h-5.90zM125.50 233.82h3.25v3.24h-3.25zM91.07 239.10h3.25v3.24h-3.25zM91.07 244.38h3.25v3.24h-3.25zM91.07 247.02h3.25v3.24h-3.25zM101.66 249.66h3.25v3.24h-3.25zM125.50 249.66h3.25v3.24h-3.25zM138.74 252.30h3.25v3.24h-3.25zM91.07 262.86h3.25v3.24h-3.25zM91.07 265.50h3.25v3.24h-3.25zM67.24 270.78h5.90v3.24h-5.90zM72.54 273.42h3.25v3.24h-3.25zM64.59 276.06h3.25v3.24h-3.25zM72.54 276.06h3.25v3.24h-3.25zM162.57 289.26h5.90v3.24h-5.90zM151.98 291.90h3.25v3.24h-3.25zM141.38 299.82h3.25v3.24h-3.25zM93.72 302.46h3.25v3.24h-3.25zM93.72 305.10h3.25v3.24h-3.25zM104.31 310.38h5.90v3.24h-5.90zM146.68 313.02h3.25v3.24h-3.25zM173.16 315.66h5.90v3.24h-5.90z"/>
<path fill="#fb9b06" d="M133.44 212.70h3.25v3.24h-3.25zM130.79 215.34h3.25v3.24h-3.25zM122.85 223.26h5.90v3.24h-5.90zM80.48 225.90h3.25v3.24h-3.25zM122.85 225.90h5.90v3.24h-5.90zM77.83 231.18h8.54v3.24h-8.54zM99.02 233.82h3.25v3.24h-3.25zM101.66 247.02h3.25v3.24h-3.25zM96.37 249.66h3.25v3.24h-3.25zM67.24 278.70h3.25v3.24h-3.25zM104.31 291.90h3.25v3.24h-3.25zM99.02 294.54h3.25v3.24h-3.25zM112.26 294.54h3.25v3.24h-3.25zM112.26 297.18h3.25v3.24h-3.25zM141.38 302.46h3.25v3.24h-3.25zM159.92 302.46h3.25v3.24h-3.25zM112.26 305.10h3.25v3.24h-3.25zM157.27 305.10h3.25v3.24h-3.25z"/>
<path fill="#fcffa4" d="M96.37 223.26h8.54v3.24h-8.54zM133.44 254.94h3.25v3.24h-3.25z"/>
<path fill="#59106e" d="M61.94 239.10h5.90v3.24h-5.90zM67.24 241.74h3.25v3.24h-3.25zM59.30 252.30h3.25v3.24h-3.25zM54.00 299.82h5.90v3.24h-5.90zM56.65 302.46h3.25v3.24h-3.25zM56.65 305.10h3.25v3.24h-3.25zM56.65 307.74h3.25v3.24h-3.25zM56.65 310.38h3.25v3.24h-3.25zM56.65 313.02h3.25v3.24h-3.25z"/>
<path fill="#4a0c6b" d="M59.30 241.74h3.25v3.24h-3.25zM67.24 244.38h3.25v3.24h-3.25z"/>
<path fill="#210c4a" d="M61.94 241.74h3.25v3.24h-3.25z"/>
<path fill="#280b53" d="M64.59 241.74h3.25v3.24h-3.25zM64.59 249.66h3.25v3.24h-3.25z"/>
<path fill="#360961" d="M59.30 244.38h3.25v3.24h-3.25z"/>
<path fill="#0b0724" d="M61.94 244.38h3.25v3.24h-3.25z"/>
<path fill="#150b37" d="M64.59 244.38h3.25v3.24h-3.25zM61.94 249.66h3.25v3.24h-3.25z"/>
<path fill="#2f0a5b" d="M59.30 247.02h3.25v3.24h-3.25z"/>
<path fill="#07051b" d="M61.94 247.02h3.25v3.24h-3.25z"/>
<path fill="#10092d" d="M64.59 247.02h3.25v3.24h-3.25z"/>
<path fill="#510e6c" d="M67.24 247.02h3.25v3.24h-3.25zM64.59 252.30h3.25v3.24h-3.25zM54.00 302.46h3.25v3.24h-3.25zM54.00 305.10h3.25v3.24h-3.25zM54.00 307.74h3.25v3.24h-3.25zM54.00 310.38h3.25v3.24h-3.25zM54.00 313.02h3.25v3.24h-3.25z"/>
<path fill="#440a68" d="M59.30 249.66h3.25v3.24h-3.25z"/>
<path fill="#65156e" d="M67.24 249.66h3.25v3.24h-3.25zM59.30 254.94h3.25v3.24h-3.25zM54.00 297.18h3.25v3.24h-3.25zM59.30 302.46h3.25v3.24h-3.25zM59.30 305.10h3.25v3.24h-3.25zM59.30 307.74h3.25v3.24h-3.25zM59.30 310.38h3.25v3.24h-3.25zM59.30 313.02h3.25v3.24h-3.25z"/>
<path fill="#3d0965" d="M61.94 252.30h3.25v3.24h-3.25z"/>
<path fill="#5f136e" d="M61.94 254.94h3.25v3.24h-3.25zM54.00 315.66h5.90v3.24h-5.90z"/>
</g>
<rect x="54.0" y="199.5" width="132.4" height="132.0" fill="none" stroke="#333" stroke-width="0.5"/>
<line x1="55.32" y1="331.5" x2="55.32" y2="333.7" stroke="#444" stroke-width="0.5"/>
<text x="55.32" y="339.30" font-size="5.6" font-family='"Liberation Sans", sans-serif' text-anchor="middle" fill="#333" >0</text>
<line x1="51.8" y1="200.82" x2="54.0" y2="200.82" stroke="#444" stroke-width="0.5"/>
<text x="50.70" y="202.82" font-size="5.6" font-family='"Liberation Sans", sans-serif' text-anchor="end" fill="#333" >0</text>
<line x1="81.80" y1="331.5" x2="81.80" y2="333.7" stroke="#444" stroke-width="0.5"/>
<text x="81.80" y="339.30" font-size="5.6" font-family='"Liberation Sans", sans-serif' text-anchor="middle" fill="#333" >10</text>
<line x1="51.8" y1="227.30" x2="54.0" y2="227.30" stroke="#444" stroke-width="0.5"/>
<text x="50.70" y="229.30" font-size="5.6" font-family='"Liberation Sans", sans-serif' text-anchor="end" fill="#333" >10</text>
<line x1="108.28" y1="331.5" x2="108.28" y2="333.7" stroke="#444" stroke-width="0.5"/>
<text x="108.28" y="339.30" font-size="5.6" font-family='"Liberation Sans", sans-serif' text-anchor="middle" fill="#333" >20</text>
<line x1="51.8" y1="253.78" x2="54.0" y2="253.78" stroke="#444" stroke-width="0.5"/>
<text x="50.70" y="255.78" font-size="5.6" font-family='"Liberation Sans", sans-serif' text-anchor="end" fill="#333" >20</text>
<line x1="134.76" y1="331.5" x2="134.76" y2="333.7" stroke="#444" stroke-width="0.5"/>
<text x="134.76" y="339.30" font-size="5.6" font-family='"Liberation Sans", sans-serif' text-anchor="middle" fill="#333" >30</text>
<line x1="51.8" y1="280.26" x2="54.0" y2="280.26" stroke="#444" stroke-width="0.5"/>
<text x="50.70" y="282.26" font-size="5.6" font-family='"Liberation Sans", sans-serif' text-anchor="end" fill="#333" >30</text>
<line x1="161.24" y1="331.5" x2="161.24" y2="333.7" stroke="#444" stroke-width="0.5"/>
<text x="161.24" y="339.30" font-size="5.6" font-family='"Liberation Sans", sans-serif' text-anchor="middle" fill="#333" >40</text>
<line x1="51.8" y1="306.74" x2="54.0" y2="306.74" stroke="#444" stroke-width="0.5"/>
<text x="50.70" y="308.74" font-size="5.6" font-family='"Liberation Sans", sans-serif' text-anchor="end" fill="#333" >40</text>
<defs><linearGradient id="cb199" x1="0" y1="1" x2="0" y2="0"><stop offset="0.0000" stop-color="#000004"/><stop offset="0.0625" stop-color="#0b0724"/><stop offset="0.1250" stop-color="#210c4a"/><stop offset="0.1875" stop-color="#3d0965"/><stop offset="0.2500" stop-color="#57106e"/><stop offset="0.3125" stop-color="#71196e"/><stop offset="0.3750" stop-color="#8a226a"/><stop offset="0.4375" stop-color="#a32c61"/><stop offset="0.5000" stop-color="#bc3754"/><stop offset="0.5625" stop-color="#d24644"/><stop offset="0.6250" stop-color="#e45a31"/><stop offset="0.6875" stop-color="#f1731d"/><stop offset="0.7500" stop-color="#f98e09"/><stop offset="0.8125" stop-color="#fcac11"/><stop offset="0.8750" stop-color="#f9cb35"/><stop offset="0.9375" stop-color="#f2ea69"/><stop offset="1.0000" stop-color="#fcffa4"/></linearGradient></defs>
<rect x="195.2" y="199.5" width="6.5" height="132.0" fill="url(#cb199)" stroke="#333" stroke-width="0.5"/>
<line x1="201.7" y1="327.59" x2="203.89999999999998" y2="327.59" stroke="#444" stroke-width="0.5"/>
<text x="205.00" y="329.59" font-size="5.6" font-family='"Liberation Sans", sans-serif' text-anchor="start" fill="#333" >2.7</text>
<line x1="201.7" y1="308.03" x2="203.89999999999998" y2="308.03" stroke="#444" stroke-width="0.5"/>
<text x="205.00" y="310.03" font-size="5.6" font-family='"Liberation Sans", sans-serif' text-anchor="start" fill="#333" >2.8</text>
<line x1="201.7" y1="288.48" x2="203.89999999999998" y2="288.48" stroke="#444" stroke-width="0.5"/>
<text x="205.00" y="290.48" font-size="5.6" font-family='"Liberation Sans", sans-serif' text-anchor="start" fill="#333" >2.9</text>
<line x1="201.7" y1="268.92" x2="203.89999999999998" y2="268.92" stroke="#444" stroke-width="0.5"/>
<text x="205.00" y="270.92" font-size="5.6" font-family='"Liberation Sans", sans-serif' text-anchor="start" fill="#333" >3.0</text>
<line x1="201.7" y1="249.37" x2="203.89999999999998" y2="249.37" stroke="#444" stroke-width="0.5"/>
<text x="205.00" y="251.37" font-size="5.6" font-family='"Liberation Sans", sans-serif' text-anchor="start" fill="#333" >3.1</text>
<line x1="201.7" y1="229.81" x2="203.89999999999998" y2="229.81" stroke="#444" stroke-width="0.5"/>
<text x="205.00" y="231.81" font-size="5.6" font-family='"Liberation Sans", sans-serif' text-anchor="start" fill="#333" >3.2</text>
<line x1="201.7" y1="210.26" x2="203.89999999999998" y2="210.26" stroke="#444" stroke-width="0.5"/>
<text x="205.00" y="212.26" font-size="5.6" font-family='"Liberation Sans", sans-serif' text-anchor="start" fill="#333" >3.3</text>
<g filter="url(#soft)"><rect x="257.3" y="16.8" width="132.5" height="132.4" fill="#a3a3a3"/>
<path fill="#a2a2a2" d="M257.30 16.80h32.40v3.25h-32.40zM299.70 16.80h5.90v3.25h-5.90zM326.20 16.80h16.50v3.25h-16.50zM363.30 16.80h11.20v3.25h-11.20zM281.15 19.45h13.85v3.25h-13.85zM302.35 19.45h3.25v3.25h-3.25zM326.20 19.45h16.50v3.25h-16.50zM363.30 19.45h11.20v3.25h-11.20zM283.80 22.10h8.55v3.25h-8.55zM323.55 22.10h3.25v3.25h-3.25zM363.30 22.10h5.90v3.25h-5.90zM283.80 24.74h5.90v3.25h-5.90zM320.90 24.74h5.90v3.25h-5.90zM363.30 24.74h5.90v3.25h-5.90zM267.90 27.39h3.25v3.25h-3.25zM283.80 27.39h3.25v3.25h-3.25zM318.25 27.39h3.25v3.25h-3.25zM323.55 27.39h3.25v3.25h-3.25zM347.40 27.39h16.50v3.25h-16.50zM265.25 30.04h8.55v3.25h-8.55zM283.80 30.04h3.25v3.25h-3.25zM318.25 30.04h3.25v3.25h-3.25zM323.55 30.04h3.25v3.25h-3.25zM347.40 30.04h16.50v3.25h-16.50zM265.25 32.69h11.20v3.25h-11.20zM283.80 32.69h5.90v3.25h-5.90zM336.80 32.69h11.20v3.25h-11.20zM265.25 35.34h11.20v3.25h-11.20zM281.15 35.34h8.55v3.25h-8.55zM294.40 35.34h5.90v3.25h-5.90zM307.65 35.34h5.90v3.25h-5.90zM336.80 35.34h11.20v3.25h-11.20zM265.25 37.98h11.20v3.25h-11.20zM278.50 37.98h11.20v3.25h-11.20zM291.75 37.98h13.85v3.25h-13.85zM310.30 37.98h3.25v3.25h-3.25zM331.50 37.98h11.20v3.25h-11.20zM265.25 40.63h11.20v3.25h-11.20zM281.15 40.63h13.85v3.25h-13.85zM331.50 40.63h11.20v3.25h-11.20zM265.25 43.28h8.55v3.25h-8.55zM281.15 43.28h13.85v3.25h-13.85zM315.60 43.28h16.50v3.25h-16.50zM257.30 45.93h13.85v3.25h-13.85zM283.80 45.93h11.20v3.25h-11.20zM315.60 45.93h16.50v3.25h-16.50zM257.30 48.58h11.20v3.25h-11.20zM286.45 48.58h40.35v3.25h-40.35zM257.30 51.22h11.20v3.25h-11.20zM289.10 51.22h37.70v3.25h-37.70zM265.25 53.87h5.90v3.25h-5.90zM289.10 53.87h3.25v3.25h-3.25zM305.00 53.87h21.80v3.25h-21.80zM267.90 56.52h3.25v3.25h-3.25zM305.00 56.52h21.80v3.25h-21.80zM267.90 59.17h3.25v3.25h-3.25zM289.10 59.17h3.25v3.25h-3.25zM305.00 59.17h16.50v3.25h-16.50zM323.55 59.17h3.25v3.25h-3.25zM336.80 59.17h3.25v3.25h-3.25zM289.10 61.82h3.25v3.25h-3.25zM305.00 61.82h16.50v3.25h-16.50zM336.80 61.82h3.25v3.25h-3.25zM286.45 64.46h19.15v3.25h-19.15zM315.60 64.46h11.20v3.25h-11.20zM336.80 64.46h5.90v3.25h-5.90zM360.65 64.46h8.55v3.25h-8.55zM270.55 67.11h3.25v3.25h-3.25zM286.45 67.11h19.15v3.25h-19.15zM315.60 67.11h11.20v3.25h-11.20zM334.15 67.11h8.55v3.25h-8.55zM360.65 67.11h8.55v3.25h-8.55zM257.30 69.76h3.25v3.25h-3.25zM270.55 69.76h3.25v3.25h-3.25zM283.80 69.76h35.05v3.25h-35.05zM328.85 69.76h16.50v3.25h-16.50zM360.65 69.76h5.90v3.25h-5.90zM257.30 72.41h19.15v3.25h-19.15zM281.15 72.41h8.55v3.25h-8.55zM307.65 72.41h11.20v3.25h-11.20zM334.15 72.41h8.55v3.25h-8.55zM371.25 72.41h5.90v3.25h-5.90zM257.30 75.06h27.10v3.25h-27.10zM312.95 75.06h11.20v3.25h-11.20zM365.95 75.06h13.85v3.25h-13.85zM257.30 77.70h27.10v3.25h-27.10zM312.95 77.70h13.85v3.25h-13.85zM365.95 77.70h13.85v3.25h-13.85zM257.30 80.35h32.40v3.25h-32.40zM307.65 80.35h11.20v3.25h-11.20zM323.55 80.35h5.90v3.25h-5.90zM365.95 80.35h5.90v3.25h-5.90zM376.55 80.35h5.90v3.25h-5.90zM257.30 83.00h35.05v3.25h-35.05zM297.05 83.00h19.15v3.25h-19.15zM326.20 83.00h3.25v3.25h-3.25zM368.60 83.00h13.85v3.25h-13.85zM262.60 85.65h21.80v3.25h-21.80zM291.75 85.65h13.85v3.25h-13.85zM312.95 85.65h5.90v3.25h-5.90zM326.20 85.65h5.90v3.25h-5.90zM371.25 85.65h5.90v3.25h-5.90zM262.60 88.30h21.80v3.25h-21.80zM291.75 88.30h13.85v3.25h-13.85zM315.60 88.30h5.90v3.25h-5.90zM323.55 88.30h11.20v3.25h-11.20zM267.90 90.94h16.50v3.25h-16.50zM294.40 90.94h8.55v3.25h-8.55zM318.25 90.94h21.80v3.25h-21.80zM355.35 90.94h3.25v3.25h-3.25zM387.15 90.94h3.25v3.25h-3.25zM267.90 93.59h16.50v3.25h-16.50zM297.05 93.59h5.90v3.25h-5.90zM318.25 93.59h21.80v3.25h-21.80zM350.05 93.59h11.20v3.25h-11.20zM371.25 93.59h11.20v3.25h-11.20zM384.50 93.59h5.90v3.25h-5.90zM267.90 96.24h21.80v3.25h-21.80zM297.05 96.24h5.90v3.25h-5.90zM318.25 96.24h5.90v3.25h-5.90zM328.85 96.24h13.85v3.25h-13.85zM352.70 96.24h11.20v3.25h-11.20zM368.60 96.24h13.85v3.25h-13.85zM384.50 96.24h3.25v3.25h-3.25zM267.90 98.89h37.70v3.25h-37.70zM320.90 98.89h3.25v3.25h-3.25zM331.50 98.89h16.50v3.25h-16.50zM358.00 98.89h27.10v3.25h-27.10zM267.90 101.54h37.70v3.25h-37.70zM331.50 101.54h3.25v3.25h-3.25zM339.45 101.54h11.20v3.25h-11.20zM360.65 101.54h21.80v3.25h-21.80zM267.90 104.18h37.70v3.25h-37.70zM342.10 104.18h5.90v3.25h-5.90zM358.00 104.18h21.80v3.25h-21.80zM283.80 106.83h32.40v3.25h-32.40zM331.50 106.83h3.25v3.25h-3.25zM358.00 106.83h19.15v3.25h-19.15zM283.80 109.48h32.40v3.25h-32.40zM323.55 109.48h3.25v3.25h-3.25zM352.70 109.48h5.90v3.25h-5.90zM371.25 109.48h5.90v3.25h-5.90zM257.30 112.13h5.90v3.25h-5.90zM278.50 112.13h32.40v3.25h-32.40zM342.10 112.13h11.20v3.25h-11.20zM384.50 112.13h5.90v3.25h-5.90zM257.30 114.78h5.90v3.25h-5.90zM278.50 114.78h32.40v3.25h-32.40zM342.10 114.78h11.20v3.25h-11.20zM384.50 114.78h5.90v3.25h-5.90zM257.30 117.42h11.20v3.25h-11.20zM278.50 117.42h11.20v3.25h-11.20zM294.40 117.42h5.90v3.25h-5.90zM315.60 117.42h37.70v3.25h-37.70zM379.20 117.42h5.90v3.25h-5.90zM257.30 120.07h11.20v3.25h-11.20zM278.50 120.07h11.20v3.25h-11.20zM294.40 120.07h5.90v3.25h-5.90zM315.60 120.07h37.70v3.25h-37.70zM379.20 120.07h5.90v3.25h-5.90zM259.95 122.72h8.55v3.25h-8.55zM278.50 122.72h5.90v3.25h-5.90zM291.75 122.72h5.90v3.25h-5.90zM305.00 122.72h19.15v3.25h-19.15zM331.50 122.72h27.10v3.25h-27.10zM363.30 122.72h5.90v3.25h-5.90zM273.20 125.37h3.25v3.25h-3.25zM278.50 125.37h5.90v3.25h-5.90zM291.75 125.37h8.55v3.25h-8.55zM305.00 125.37h13.85v3.25h-13.85zM331.50 125.37h27.10v3.25h-27.10zM363.30 125.37h5.90v3.25h-5.90zM273.20 128.02h8.55v3.25h-8.55zM289.10 128.02h19.15v3.25h-19.15zM312.95 128.02h11.20v3.25h-11.20zM358.00 128.02h11.20v3.25h-11.20zM273.20 130.66h8.55v3.25h-8.55zM297.05 130.66h8.55v3.25h-8.55zM318.25 130.66h3.25v3.25h-3.25zM358.00 130.66h11.20v3.25h-11.20zM275.85 133.31h3.25v3.25h-3.25zM297.05 133.31h3.25v3.25h-3.25zM310.30 133.31h3.25v3.25h-3.25zM358.00 133.31h11.20v3.25h-11.20zM270.55 135.96h5.90v3.25h-5.90zM305.00 135.96h11.20v3.25h-11.20zM358.00 135.96h11.20v3.25h-11.20zM270.55 138.61h3.25v3.25h-3.25zM307.65 138.61h13.85v3.25h-13.85zM352.70 138.61h5.90v3.25h-5.90zM265.25 141.26h3.25v3.25h-3.25zM270.55 141.26h3.25v3.25h-3.25zM320.90 141.26h3.25v3.25h-3.25zM352.70 141.26h5.90v3.25h-5.90zM265.25 143.90h5.90v3.25h-5.90zM318.25 143.90h5.90v3.25h-5.90zM352.70 143.90h11.20v3.25h-11.20zM265.25 146.55h5.90v3.25h-5.90zM294.40 146.55h5.90v3.25h-5.90zM320.90 146.55h3.25v3.25h-3.25zM352.70 146.55h11.20v3.25h-11.20z"/>
<path fill="#e8201f" d="M289.10 16.80h11.20v3.25h-11.20zM305.00 16.80h21.80v3.25h-21.80zM342.10 16.80h21.80v3.25h-21.80zM294.40 19.45h8.55v3.25h-8.55zM305.00 19.45h21.80v3.25h-21.80zM342.10 19.45h21.80v3.25h-21.80zM291.75 22.10h32.40v3.25h-32.40zM347.40 22.10h16.50v3.25h-16.50zM289.10 24.74h32.40v3.25h-32.40zM347.40 24.74h16.50v3.25h-16.50zM286.45 27.39h32.40v3.25h-32.40zM286.45 30.04h32.40v3.25h-32.40zM289.10 32.69h27.10v3.25h-27.10zM289.10 35.34h5.90v3.25h-5.90zM299.70 35.34h8.55v3.25h-8.55zM289.10 37.98h3.25v3.25h-3.25zM257.30 53.87h8.55v3.25h-8.55zM326.20 53.87h11.20v3.25h-11.20zM257.30 56.52h11.20v3.25h-11.20zM326.20 56.52h11.20v3.25h-11.20zM257.30 59.17h11.20v3.25h-11.20zM320.90 59.17h3.25v3.25h-3.25zM326.20 59.17h11.20v3.25h-11.20zM257.30 61.82h13.85v3.25h-13.85zM320.90 61.82h16.50v3.25h-16.50zM257.30 64.46h13.85v3.25h-13.85zM305.00 64.46h11.20v3.25h-11.20zM326.20 64.46h11.20v3.25h-11.20zM257.30 67.11h13.85v3.25h-13.85zM305.00 67.11h11.20v3.25h-11.20zM326.20 67.11h8.55v3.25h-8.55zM259.95 69.76h11.20v3.25h-11.20zM289.10 72.41h19.15v3.25h-19.15zM283.80 75.06h29.75v3.25h-29.75zM283.80 77.70h29.75v3.25h-29.75zM289.10 80.35h19.15v3.25h-19.15zM318.25 80.35h5.90v3.25h-5.90zM371.25 80.35h5.90v3.25h-5.90zM291.75 83.00h5.90v3.25h-5.90zM315.60 83.00h11.20v3.25h-11.20zM318.25 85.65h8.55v3.25h-8.55zM320.90 88.30h3.25v3.25h-3.25zM387.15 96.24h3.25v3.25h-3.25zM384.50 98.89h5.90v3.25h-5.90zM381.85 101.54h8.55v3.25h-8.55zM379.20 104.18h11.20v3.25h-11.20zM376.55 106.83h13.85v3.25h-13.85zM376.55 109.48h13.85v3.25h-13.85zM373.90 112.13h11.20v3.25h-11.20zM373.90 114.78h11.20v3.25h-11.20zM373.90 117.42h5.90v3.25h-5.90zM373.90 120.07h5.90v3.25h-5.90zM283.80 122.72h8.55v3.25h-8.55zM283.80 125.37h8.55v3.25h-8.55zM281.15 128.02h8.55v3.25h-8.55zM307.65 128.02h5.90v3.25h-5.90zM281.15 130.66h16.50v3.25h-16.50zM305.00 130.66h8.55v3.25h-8.55zM259.95 133.31h3.25v3.25h-3.25zM278.50 133.31h19.15v3.25h-19.15zM299.70 133.31h11.20v3.25h-11.20zM275.85 135.96h29.75v3.25h-29.75zM273.20 138.61h35.05v3.25h-35.05zM273.20 141.26h48.30v3.25h-48.30zM270.55 143.90h48.30v3.25h-48.30zM270.55 146.55h24.45v3.25h-24.45zM299.70 146.55h21.80v3.25h-21.80z"/>
<path fill="#51b04d" d="M373.90 16.80h16.50v3.25h-16.50zM257.30 19.45h24.45v3.25h-24.45zM373.90 19.45h16.50v3.25h-16.50zM257.30 22.10h27.10v3.25h-27.10zM326.20 22.10h21.80v3.25h-21.80zM368.60 22.10h5.90v3.25h-5.90zM259.95 24.74h24.45v3.25h-24.45zM326.20 24.74h21.80v3.25h-21.80zM368.60 24.74h5.90v3.25h-5.90zM265.25 27.39h3.25v3.25h-3.25zM270.55 27.39h13.85v3.25h-13.85zM320.90 27.39h3.25v3.25h-3.25zM331.50 27.39h16.50v3.25h-16.50zM363.30 27.39h5.90v3.25h-5.90zM262.60 30.04h3.25v3.25h-3.25zM273.20 30.04h11.20v3.25h-11.20zM331.50 30.04h16.50v3.25h-16.50zM363.30 30.04h5.90v3.25h-5.90zM262.60 32.69h3.25v3.25h-3.25zM275.85 32.69h8.55v3.25h-8.55zM315.60 32.69h5.90v3.25h-5.90zM331.50 32.69h5.90v3.25h-5.90zM347.40 32.69h16.50v3.25h-16.50zM384.50 32.69h5.90v3.25h-5.90zM259.95 35.34h5.90v3.25h-5.90zM275.85 35.34h5.90v3.25h-5.90zM312.95 35.34h5.90v3.25h-5.90zM331.50 35.34h5.90v3.25h-5.90zM347.40 35.34h16.50v3.25h-16.50zM384.50 35.34h5.90v3.25h-5.90zM259.95 37.98h5.90v3.25h-5.90zM275.85 37.98h3.25v3.25h-3.25zM305.00 37.98h5.90v3.25h-5.90zM320.90 37.98h3.25v3.25h-3.25zM326.20 37.98h5.90v3.25h-5.90zM342.10 37.98h11.20v3.25h-11.20zM384.50 37.98h5.90v3.25h-5.90zM259.95 40.63h5.90v3.25h-5.90zM275.85 40.63h5.90v3.25h-5.90zM294.40 40.63h16.50v3.25h-16.50zM315.60 40.63h8.55v3.25h-8.55zM326.20 40.63h5.90v3.25h-5.90zM342.10 40.63h11.20v3.25h-11.20zM384.50 40.63h5.90v3.25h-5.90zM257.30 43.28h8.55v3.25h-8.55zM273.20 43.28h8.55v3.25h-8.55zM294.40 43.28h16.50v3.25h-16.50zM331.50 43.28h16.50v3.25h-16.50zM384.50 43.28h5.90v3.25h-5.90zM270.55 45.93h13.85v3.25h-13.85zM294.40 45.93h16.50v3.25h-16.50zM331.50 45.93h16.50v3.25h-16.50zM384.50 45.93h5.90v3.25h-5.90zM267.90 48.58h5.90v3.25h-5.90zM283.80 48.58h3.25v3.25h-3.25zM326.20 48.58h16.50v3.25h-16.50zM384.50 48.58h5.90v3.25h-5.90zM267.90 51.22h3.25v3.25h-3.25zM283.80 51.22h5.90v3.25h-5.90zM326.20 51.22h16.50v3.25h-16.50zM384.50 51.22h5.90v3.25h-5.90zM286.45 53.87h3.25v3.25h-3.25zM291.75 53.87h13.85v3.25h-13.85zM336.80 53.87h5.90v3.25h-5.90zM358.00 53.87h11.20v3.25h-11.20zM379.20 53.87h11.20v3.25h-11.20zM286.45 56.52h19.15v3.25h-19.15zM336.80 56.52h5.90v3.25h-5.90zM358.00 56.52h11.20v3.25h-11.20zM379.20 56.52h11.20v3.25h-11.20zM286.45 59.17h3.25v3.25h-3.25zM291.75 59.17h13.85v3.25h-13.85zM339.45 59.17h5.90v3.25h-5.90zM365.95 59.17h11.20v3.25h-11.20zM387.15 59.17h3.25v3.25h-3.25zM270.55 61.82h3.25v3.25h-3.25zM283.80 61.82h5.90v3.25h-5.90zM291.75 61.82h13.85v3.25h-13.85zM339.45 61.82h5.90v3.25h-5.90zM358.00 61.82h16.50v3.25h-16.50zM379.20 61.82h11.20v3.25h-11.20zM270.55 64.46h3.25v3.25h-3.25zM281.15 64.46h5.90v3.25h-5.90zM342.10 64.46h3.25v3.25h-3.25zM368.60 64.46h5.90v3.25h-5.90zM379.20 64.46h11.20v3.25h-11.20zM283.80 67.11h3.25v3.25h-3.25zM342.10 67.11h3.25v3.25h-3.25zM358.00 67.11h3.25v3.25h-3.25zM368.60 67.11h5.90v3.25h-5.90zM376.55 67.11h13.85v3.25h-13.85zM273.20 69.76h3.25v3.25h-3.25zM281.15 69.76h3.25v3.25h-3.25zM318.25 69.76h11.20v3.25h-11.20zM344.75 69.76h3.25v3.25h-3.25zM358.00 69.76h3.25v3.25h-3.25zM365.95 69.76h24.45v3.25h-24.45zM275.85 72.41h5.90v3.25h-5.90zM318.25 72.41h16.50v3.25h-16.50zM342.10 72.41h8.55v3.25h-8.55zM358.00 72.41h13.85v3.25h-13.85zM376.55 72.41h13.85v3.25h-13.85zM323.55 75.06h24.45v3.25h-24.45zM360.65 75.06h5.90v3.25h-5.90zM379.20 75.06h11.20v3.25h-11.20zM326.20 77.70h5.90v3.25h-5.90zM339.45 77.70h8.55v3.25h-8.55zM360.65 77.70h5.90v3.25h-5.90zM379.20 77.70h11.20v3.25h-11.20zM328.85 80.35h3.25v3.25h-3.25zM360.65 80.35h5.90v3.25h-5.90zM381.85 80.35h8.55v3.25h-8.55zM328.85 83.00h3.25v3.25h-3.25zM350.05 83.00h19.15v3.25h-19.15zM381.85 83.00h8.55v3.25h-8.55zM257.30 85.65h5.90v3.25h-5.90zM283.80 85.65h8.55v3.25h-8.55zM305.00 85.65h8.55v3.25h-8.55zM331.50 85.65h3.25v3.25h-3.25zM352.70 85.65h19.15v3.25h-19.15zM376.55 85.65h13.85v3.25h-13.85zM257.30 88.30h5.90v3.25h-5.90zM283.80 88.30h8.55v3.25h-8.55zM305.00 88.30h3.25v3.25h-3.25zM310.30 88.30h5.90v3.25h-5.90zM334.15 88.30h5.90v3.25h-5.90zM347.40 88.30h43.00v3.25h-43.00zM262.60 90.94h5.90v3.25h-5.90zM283.80 90.94h11.20v3.25h-11.20zM302.35 90.94h8.55v3.25h-8.55zM315.60 90.94h3.25v3.25h-3.25zM339.45 90.94h16.50v3.25h-16.50zM358.00 90.94h29.75v3.25h-29.75zM262.60 93.59h5.90v3.25h-5.90zM283.80 93.59h13.85v3.25h-13.85zM302.35 93.59h16.50v3.25h-16.50zM339.45 93.59h11.20v3.25h-11.20zM360.65 93.59h11.20v3.25h-11.20zM381.85 93.59h3.25v3.25h-3.25zM262.60 96.24h5.90v3.25h-5.90zM289.10 96.24h8.55v3.25h-8.55zM302.35 96.24h5.90v3.25h-5.90zM312.95 96.24h5.90v3.25h-5.90zM323.55 96.24h5.90v3.25h-5.90zM342.10 96.24h11.20v3.25h-11.20zM363.30 96.24h5.90v3.25h-5.90zM381.85 96.24h3.25v3.25h-3.25zM262.60 98.89h5.90v3.25h-5.90zM310.30 98.89h11.20v3.25h-11.20zM323.55 98.89h8.55v3.25h-8.55zM347.40 98.89h11.20v3.25h-11.20zM257.30 101.54h11.20v3.25h-11.20zM305.00 101.54h27.10v3.25h-27.10zM334.15 101.54h5.90v3.25h-5.90zM350.05 101.54h11.20v3.25h-11.20zM257.30 104.18h11.20v3.25h-11.20zM305.00 104.18h37.70v3.25h-37.70zM347.40 104.18h11.20v3.25h-11.20zM257.30 106.83h27.10v3.25h-27.10zM315.60 106.83h16.50v3.25h-16.50zM334.15 106.83h24.45v3.25h-24.45zM257.30 109.48h27.10v3.25h-27.10zM315.60 109.48h8.55v3.25h-8.55zM326.20 109.48h27.10v3.25h-27.10zM358.00 109.48h13.85v3.25h-13.85zM262.60 112.13h16.50v3.25h-16.50zM310.30 112.13h16.50v3.25h-16.50zM331.50 112.13h11.20v3.25h-11.20zM352.70 112.13h21.80v3.25h-21.80zM262.60 114.78h16.50v3.25h-16.50zM310.30 114.78h16.50v3.25h-16.50zM331.50 114.78h11.20v3.25h-11.20zM352.70 114.78h21.80v3.25h-21.80zM267.90 117.42h11.20v3.25h-11.20zM289.10 117.42h5.90v3.25h-5.90zM299.70 117.42h16.50v3.25h-16.50zM352.70 117.42h21.80v3.25h-21.80zM384.50 117.42h5.90v3.25h-5.90zM267.90 120.07h11.20v3.25h-11.20zM289.10 120.07h5.90v3.25h-5.90zM299.70 120.07h16.50v3.25h-16.50zM352.70 120.07h21.80v3.25h-21.80zM384.50 120.07h5.90v3.25h-5.90zM257.30 122.72h3.25v3.25h-3.25zM267.90 122.72h11.20v3.25h-11.20zM297.05 122.72h8.55v3.25h-8.55zM323.55 122.72h8.55v3.25h-8.55zM358.00 122.72h5.90v3.25h-5.90zM368.60 122.72h21.80v3.25h-21.80zM257.30 125.37h16.50v3.25h-16.50zM275.85 125.37h3.25v3.25h-3.25zM299.70 125.37h5.90v3.25h-5.90zM318.25 125.37h13.85v3.25h-13.85zM358.00 125.37h5.90v3.25h-5.90zM368.60 125.37h21.80v3.25h-21.80zM259.95 128.02h13.85v3.25h-13.85zM323.55 128.02h35.05v3.25h-35.05zM368.60 128.02h11.20v3.25h-11.20zM262.60 130.66h11.20v3.25h-11.20zM312.95 130.66h5.90v3.25h-5.90zM320.90 130.66h37.70v3.25h-37.70zM368.60 130.66h11.20v3.25h-11.20zM262.60 133.31h13.85v3.25h-13.85zM312.95 133.31h8.55v3.25h-8.55zM331.50 133.31h11.20v3.25h-11.20zM352.70 133.31h5.90v3.25h-5.90zM368.60 133.31h5.90v3.25h-5.90zM384.50 133.31h5.90v3.25h-5.90zM257.30 135.96h13.85v3.25h-13.85zM315.60 135.96h8.55v3.25h-8.55zM331.50 135.96h11.20v3.25h-11.20zM352.70 135.96h5.90v3.25h-5.90zM368.60 135.96h5.90v3.25h-5.90zM384.50 135.96h5.90v3.25h-5.90zM257.30 138.61h13.85v3.25h-13.85zM320.90 138.61h16.50v3.25h-16.50zM347.40 138.61h5.90v3.25h-5.90zM358.00 138.61h16.50v3.25h-16.50zM379.20 138.61h11.20v3.25h-11.20zM257.30 141.26h8.55v3.25h-8.55zM267.90 141.26h3.25v3.25h-3.25zM323.55 141.26h13.85v3.25h-13.85zM347.40 141.26h5.90v3.25h-5.90zM358.00 141.26h16.50v3.25h-16.50zM379.20 141.26h11.20v3.25h-11.20zM257.30 143.90h8.55v3.25h-8.55zM323.55 143.90h29.75v3.25h-29.75zM363.30 143.90h27.10v3.25h-27.10zM257.30 146.55h8.55v3.25h-8.55zM323.55 146.55h29.75v3.25h-29.75zM363.30 146.55h27.10v3.25h-27.10z"/>
<path fill="#ab5a26" d="M373.90 22.10h16.50v3.25h-16.50zM257.30 24.74h3.25v3.25h-3.25zM373.90 24.74h16.50v3.25h-16.50zM257.30 27.39h8.55v3.25h-8.55zM326.20 27.39h5.90v3.25h-5.90zM368.60 27.39h21.80v3.25h-21.80zM257.30 30.04h5.90v3.25h-5.90zM320.90 30.04h3.25v3.25h-3.25zM326.20 30.04h5.90v3.25h-5.90zM368.60 30.04h21.80v3.25h-21.80zM257.30 32.69h5.90v3.25h-5.90zM320.90 32.69h11.20v3.25h-11.20zM363.30 32.69h21.80v3.25h-21.80zM257.30 35.34h3.25v3.25h-3.25zM318.25 35.34h13.85v3.25h-13.85zM363.30 35.34h21.80v3.25h-21.80zM257.30 37.98h3.25v3.25h-3.25zM312.95 37.98h8.55v3.25h-8.55zM323.55 37.98h3.25v3.25h-3.25zM352.70 37.98h32.40v3.25h-32.40zM257.30 40.63h3.25v3.25h-3.25zM310.30 40.63h5.90v3.25h-5.90zM323.55 40.63h3.25v3.25h-3.25zM352.70 40.63h32.40v3.25h-32.40zM310.30 43.28h5.90v3.25h-5.90zM347.40 43.28h37.70v3.25h-37.70zM310.30 45.93h5.90v3.25h-5.90zM347.40 45.93h37.70v3.25h-37.70zM273.20 48.58h11.20v3.25h-11.20zM342.10 48.58h43.00v3.25h-43.00zM270.55 51.22h5.90v3.25h-5.90zM281.15 51.22h3.25v3.25h-3.25zM342.10 51.22h43.00v3.25h-43.00zM270.55 53.87h3.25v3.25h-3.25zM283.80 53.87h3.25v3.25h-3.25zM342.10 53.87h16.50v3.25h-16.50zM368.60 53.87h11.20v3.25h-11.20zM270.55 56.52h3.25v3.25h-3.25zM283.80 56.52h3.25v3.25h-3.25zM342.10 56.52h16.50v3.25h-16.50zM368.60 56.52h11.20v3.25h-11.20zM270.55 59.17h3.25v3.25h-3.25zM283.80 59.17h3.25v3.25h-3.25zM344.75 59.17h21.80v3.25h-21.80zM376.55 59.17h11.20v3.25h-11.20zM281.15 61.82h3.25v3.25h-3.25zM344.75 61.82h13.85v3.25h-13.85zM373.90 61.82h5.90v3.25h-5.90zM273.20 64.46h3.25v3.25h-3.25zM278.50 64.46h3.25v3.25h-3.25zM344.75 64.46h16.50v3.25h-16.50zM373.90 64.46h5.90v3.25h-5.90zM273.20 67.11h11.20v3.25h-11.20zM344.75 67.11h13.85v3.25h-13.85zM373.90 67.11h3.25v3.25h-3.25zM275.85 69.76h5.90v3.25h-5.90zM347.40 69.76h11.20v3.25h-11.20zM350.05 72.41h8.55v3.25h-8.55zM347.40 75.06h13.85v3.25h-13.85zM331.50 77.70h8.55v3.25h-8.55zM347.40 77.70h13.85v3.25h-13.85zM331.50 80.35h29.75v3.25h-29.75zM331.50 83.00h19.15v3.25h-19.15zM334.15 85.65h19.15v3.25h-19.15zM307.65 88.30h3.25v3.25h-3.25zM339.45 88.30h8.55v3.25h-8.55zM257.30 90.94h5.90v3.25h-5.90zM310.30 90.94h5.90v3.25h-5.90zM257.30 93.59h5.90v3.25h-5.90zM257.30 96.24h5.90v3.25h-5.90zM307.65 96.24h5.90v3.25h-5.90zM257.30 98.89h5.90v3.25h-5.90zM305.00 98.89h5.90v3.25h-5.90zM326.20 112.13h5.90v3.25h-5.90zM326.20 114.78h5.90v3.25h-5.90zM257.30 128.02h3.25v3.25h-3.25zM379.20 128.02h11.20v3.25h-11.20zM257.30 130.66h5.90v3.25h-5.90zM379.20 130.66h11.20v3.25h-11.20zM257.30 133.31h3.25v3.25h-3.25zM320.90 133.31h11.20v3.25h-11.20zM342.10 133.31h11.20v3.25h-11.20zM373.90 133.31h11.20v3.25h-11.20zM323.55 135.96h8.55v3.25h-8.55zM342.10 135.96h11.20v3.25h-11.20zM373.90 135.96h11.20v3.25h-11.20zM336.80 138.61h11.20v3.25h-11.20zM373.90 138.61h5.90v3.25h-5.90zM336.80 141.26h11.20v3.25h-11.20zM373.90 141.26h5.90v3.25h-5.90z"/>
<path fill="#f8891a" d="M275.85 51.22h5.90v3.25h-5.90zM273.20 53.87h11.20v3.25h-11.20zM273.20 56.52h11.20v3.25h-11.20zM273.20 59.17h11.20v3.25h-11.20zM273.20 61.82h8.55v3.25h-8.55zM275.85 64.46h3.25v3.25h-3.25z"/>
</g>
<rect x="382.0" y="19.8" width="4.6" height="4.5" fill="#fdfdf8"/>
<rect x="257.3" y="16.8" width="132.5" height="132.4" fill="none" stroke="#333" stroke-width="0.5"/>
<line x1="258.62" y1="149.20000000000002" x2="258.62" y2="151.4" stroke="#444" stroke-width="0.5"/>
<text x="258.62" y="157.00" font-size="5.6" font-family='"Liberation Sans", sans-serif' text-anchor="middle" fill="#333" >0</text>
<line x1="255.10000000000002" y1="18.12" x2="257.3" y2="18.12" stroke="#444" stroke-width="0.5"/>
<text x="254.00" y="20.12" font-size="5.6" font-family='"Liberation Sans", sans-serif' text-anchor="end" fill="#333" >0</text>
<line x1="285.12" y1="149.20000000000002" x2="285.12" y2="151.4" stroke="#444" stroke-width="0.5"/>
<text x="285.12" y="157.00" font-size="5.6" font-family='"Liberation Sans", sans-serif' text-anchor="middle" fill="#333" >10</text>
<line x1="255.10000000000002" y1="44.62" x2="257.3" y2="44.62" stroke="#444" stroke-width="0.5"/>
<text x="254.00" y="46.62" font-size="5.6" font-family='"Liberation Sans", sans-serif' text-anchor="end" fill="#333" >10</text>
<line x1="311.62" y1="149.20000000000002" x2="311.62" y2="151.4" stroke="#444" stroke-width="0.5"/>
<text x="311.62" y="157.00" font-size="5.6" font-family='"Liberation Sans", sans-serif' text-anchor="middle" fill="#333" >20</text>
<line x1="255.10000000000002" y1="71.12" x2="257.3" y2="71.12" stroke="#444" stroke-width="0.5"/>
<text x="254.00" y="73.12" font-size="5.6" font-family='"Liberation Sans", sans-serif' text-anchor="end" fill="#333" >20</text>
<line x1="338.12" y1="149.20000000000002" x2="338.12" y2="151.4" stroke="#444" stroke-width="0.5"/>
<text x="338.12" y="157.00" font-size="5.6" font-family='"Liberation Sans", sans-serif' text-anchor="middle" fill="#333" >30</text>
<line x1="255.10000000000002" y1="97.62" x2="257.3" y2="97.62" stroke="#444" stroke-width="0.5"/>
<text x="254.00" y="99.62" font-size="5.6" font-family='"Liberation Sans", sans-serif' text-anchor="end" fill="#333" >30</text>
<line x1="364.62" y1="149.20000000000002" x2="364.62" y2="151.4" stroke="#444" stroke-width="0.5"/>
<text x="364.62" y="157.00" font-size="5.6" font-family='"Liberation Sans", sans-serif' text-anchor="middle" fill="#333" >40</text>
<line x1="255.10000000000002" y1="124.12" x2="257.3" y2="124.12" stroke="#444" stroke-width="0.5"/>
<text x="254.00" y="126.12" font-size="5.6" font-family='"Liberation Sans", sans-serif' text-anchor="end" fill="#333" >40</text>
<g filter="url(#soft)"><rect x="257.3" y="199.0" width="132.5" height="132.4" fill="#a3a3a3"/>
<path fill="#a2a2a2" d="M257.30 199.00h3.25v3.25h-3.25zM262.60 199.00h5.90v3.25h-5.90zM278.50 199.00h5.90v3.25h-5.90zM310.30 199.00h3.25v3.25h-3.25zM365.95 199.00h13.85v3.25h-13.85zM257.30 201.65h11.20v3.25h-11.20zM281.15 201.65h3.25v3.25h-3.25zM297.05 201.65h11.20v3.25h-11.20zM310.30 201.65h3.25v3.25h-3.25zM328.85 201.65h3.25v3.25h-3.25zM363.30 201.65h16.50v3.25h-16.50zM257.30 204.30h8.55v3.25h-8.55zM270.55 204.30h3.25v3.25h-3.25zM278.50 204.30h5.90v3.25h-5.90zM294.40 204.30h13.85v3.25h-13.85zM312.95 204.30h3.25v3.25h-3.25zM323.55 204.30h11.20v3.25h-11.20zM360.65 204.30h8.55v3.25h-8.55zM373.90 204.30h16.50v3.25h-16.50zM278.50 206.94h8.55v3.25h-8.55zM291.75 206.94h24.45v3.25h-24.45zM320.90 206.94h5.90v3.25h-5.90zM328.85 206.94h5.90v3.25h-5.90zM360.65 206.94h8.55v3.25h-8.55zM373.90 206.94h16.50v3.25h-16.50zM275.85 209.59h40.35v3.25h-40.35zM318.25 209.59h5.90v3.25h-5.90zM358.00 209.59h8.55v3.25h-8.55zM387.15 209.59h3.25v3.25h-3.25zM281.15 212.24h32.40v3.25h-32.40zM318.25 212.24h5.90v3.25h-5.90zM352.70 212.24h16.50v3.25h-16.50zM384.50 212.24h5.90v3.25h-5.90zM283.80 214.89h29.75v3.25h-29.75zM315.60 214.89h3.25v3.25h-3.25zM320.90 214.89h3.25v3.25h-3.25zM350.05 214.89h19.15v3.25h-19.15zM381.85 214.89h8.55v3.25h-8.55zM286.45 217.54h40.35v3.25h-40.35zM339.45 217.54h3.25v3.25h-3.25zM347.40 217.54h24.45v3.25h-24.45zM379.20 217.54h11.20v3.25h-11.20zM289.10 220.18h13.85v3.25h-13.85zM310.30 220.18h13.85v3.25h-13.85zM336.80 220.18h5.90v3.25h-5.90zM344.75 220.18h27.10v3.25h-27.10zM376.55 220.18h13.85v3.25h-13.85zM291.75 222.83h3.25v3.25h-3.25zM315.60 222.83h3.25v3.25h-3.25zM336.80 222.83h13.85v3.25h-13.85zM355.35 222.83h35.05v3.25h-35.05zM342.10 225.48h5.90v3.25h-5.90zM358.00 225.48h21.80v3.25h-21.80zM384.50 225.48h5.90v3.25h-5.90zM342.10 228.13h5.90v3.25h-5.90zM358.00 228.13h21.80v3.25h-21.80zM384.50 228.13h5.90v3.25h-5.90zM336.80 230.78h11.20v3.25h-11.20zM358.00 230.78h21.80v3.25h-21.80zM336.80 233.42h11.20v3.25h-11.20zM358.00 233.42h21.80v3.25h-21.80zM336.80 236.07h53.60v3.25h-53.60zM336.80 238.72h53.60v3.25h-53.60zM331.50 241.37h5.90v3.25h-5.90zM342.10 241.37h21.80v3.25h-21.80zM379.20 241.37h11.20v3.25h-11.20zM331.50 244.02h5.90v3.25h-5.90zM342.10 244.02h21.80v3.25h-21.80zM379.20 244.02h11.20v3.25h-11.20zM262.60 246.66h5.90v3.25h-5.90zM326.20 246.66h27.10v3.25h-27.10zM262.60 249.31h5.90v3.25h-5.90zM326.20 249.31h27.10v3.25h-27.10zM315.60 251.96h11.20v3.25h-11.20zM342.10 251.96h11.20v3.25h-11.20zM315.60 254.61h11.20v3.25h-11.20zM342.10 254.61h11.20v3.25h-11.20zM257.30 257.26h27.10v3.25h-27.10zM310.30 257.26h43.00v3.25h-43.00zM257.30 259.90h27.10v3.25h-27.10zM310.30 259.90h43.00v3.25h-43.00zM257.30 262.55h32.40v3.25h-32.40zM310.30 262.55h16.50v3.25h-16.50zM331.50 262.55h5.90v3.25h-5.90zM347.40 262.55h11.20v3.25h-11.20zM257.30 265.20h32.40v3.25h-32.40zM310.30 265.20h16.50v3.25h-16.50zM331.50 265.20h5.90v3.25h-5.90zM347.40 265.20h11.20v3.25h-11.20zM257.30 267.85h5.90v3.25h-5.90zM267.90 267.85h27.10v3.25h-27.10zM305.00 267.85h21.80v3.25h-21.80zM331.50 267.85h27.10v3.25h-27.10zM257.30 270.50h5.90v3.25h-5.90zM267.90 270.50h27.10v3.25h-27.10zM305.00 270.50h21.80v3.25h-21.80zM331.50 270.50h27.10v3.25h-27.10zM273.20 273.14h11.20v3.25h-11.20zM310.30 273.14h11.20v3.25h-11.20zM326.20 273.14h27.10v3.25h-27.10zM358.00 273.14h5.90v3.25h-5.90zM273.20 275.79h11.20v3.25h-11.20zM310.30 275.79h11.20v3.25h-11.20zM326.20 275.79h13.85v3.25h-13.85zM273.20 278.44h11.20v3.25h-11.20zM294.40 278.44h16.50v3.25h-16.50zM326.20 278.44h11.20v3.25h-11.20zM273.20 281.09h11.20v3.25h-11.20zM294.40 281.09h16.50v3.25h-16.50zM326.20 281.09h5.90v3.25h-5.90zM267.90 283.74h48.30v3.25h-48.30zM373.90 283.74h5.90v3.25h-5.90zM267.90 286.38h48.30v3.25h-48.30zM373.90 286.38h5.90v3.25h-5.90zM262.60 289.03h27.10v3.25h-27.10zM294.40 289.03h11.20v3.25h-11.20zM315.60 289.03h5.90v3.25h-5.90zM355.35 289.03h16.50v3.25h-16.50zM379.20 289.03h11.20v3.25h-11.20zM262.60 291.68h27.10v3.25h-27.10zM294.40 291.68h11.20v3.25h-11.20zM315.60 291.68h5.90v3.25h-5.90zM379.20 291.68h11.20v3.25h-11.20zM257.30 294.33h27.10v3.25h-27.10zM320.90 294.33h5.90v3.25h-5.90zM350.05 294.33h3.25v3.25h-3.25zM384.50 294.33h5.90v3.25h-5.90zM257.30 296.98h27.10v3.25h-27.10zM320.90 296.98h5.90v3.25h-5.90zM347.40 296.98h3.25v3.25h-3.25zM384.50 296.98h5.90v3.25h-5.90zM262.60 299.62h11.20v3.25h-11.20zM289.10 299.62h11.20v3.25h-11.20zM344.75 299.62h5.90v3.25h-5.90zM373.90 299.62h11.20v3.25h-11.20zM262.60 302.27h11.20v3.25h-11.20zM289.10 302.27h11.20v3.25h-11.20zM342.10 302.27h3.25v3.25h-3.25zM373.90 302.27h11.20v3.25h-11.20zM267.90 304.92h5.90v3.25h-5.90zM283.80 304.92h16.50v3.25h-16.50zM326.20 304.92h5.90v3.25h-5.90zM365.95 304.92h13.85v3.25h-13.85zM384.50 304.92h5.90v3.25h-5.90zM267.90 307.57h5.90v3.25h-5.90zM283.80 307.57h16.50v3.25h-16.50zM326.20 307.57h5.90v3.25h-5.90zM358.00 307.57h3.25v3.25h-3.25zM368.60 307.57h11.20v3.25h-11.20zM384.50 307.57h5.90v3.25h-5.90zM262.60 310.22h11.20v3.25h-11.20zM278.50 310.22h11.20v3.25h-11.20zM299.70 310.22h21.80v3.25h-21.80zM326.20 310.22h5.90v3.25h-5.90zM355.35 310.22h3.25v3.25h-3.25zM368.60 310.22h5.90v3.25h-5.90zM384.50 310.22h5.90v3.25h-5.90zM262.60 312.86h11.20v3.25h-11.20zM278.50 312.86h11.20v3.25h-11.20zM299.70 312.86h21.80v3.25h-21.80zM326.20 312.86h5.90v3.25h-5.90zM352.70 312.86h3.25v3.25h-3.25zM360.65 312.86h3.25v3.25h-3.25zM368.60 312.86h5.90v3.25h-5.90zM384.50 312.86h5.90v3.25h-5.90zM257.30 315.51h16.50v3.25h-16.50zM289.10 315.51h16.50v3.25h-16.50zM350.05 315.51h3.25v3.25h-3.25zM368.60 315.51h5.90v3.25h-5.90zM257.30 318.16h16.50v3.25h-16.50zM289.10 318.16h16.50v3.25h-16.50zM365.95 318.16h8.55v3.25h-8.55zM257.30 320.81h11.20v3.25h-11.20zM278.50 320.81h16.50v3.25h-16.50zM384.50 320.81h5.90v3.25h-5.90zM257.30 323.46h11.20v3.25h-11.20zM278.50 323.46h16.50v3.25h-16.50zM384.50 323.46h5.90v3.25h-5.90zM257.30 326.10h11.20v3.25h-11.20zM299.70 326.10h5.90v3.25h-5.90zM379.20 326.10h11.20v3.25h-11.20zM257.30 328.75h11.20v3.25h-11.20zM299.70 328.75h5.90v3.25h-5.90zM379.20 328.75h11.20v3.25h-11.20z"/>
<path fill="#e8201f" d="M259.95 199.00h3.25v3.25h-3.25zM283.80 199.00h27.10v3.25h-27.10zM328.85 199.00h37.70v3.25h-37.70zM283.80 201.65h13.85v3.25h-13.85zM307.65 201.65h3.25v3.25h-3.25zM331.50 201.65h32.40v3.25h-32.40zM265.25 204.30h5.90v3.25h-5.90zM273.20 204.30h5.90v3.25h-5.90zM283.80 204.30h11.20v3.25h-11.20zM307.65 204.30h5.90v3.25h-5.90zM334.15 204.30h27.10v3.25h-27.10zM368.60 204.30h5.90v3.25h-5.90zM257.30 206.94h21.80v3.25h-21.80zM286.45 206.94h5.90v3.25h-5.90zM326.20 206.94h3.25v3.25h-3.25zM334.15 206.94h27.10v3.25h-27.10zM368.60 206.94h5.90v3.25h-5.90zM257.30 209.59h19.15v3.25h-19.15zM323.55 209.59h35.05v3.25h-35.05zM365.95 209.59h21.80v3.25h-21.80zM257.30 212.24h24.45v3.25h-24.45zM323.55 212.24h29.75v3.25h-29.75zM368.60 212.24h16.50v3.25h-16.50zM257.30 214.89h27.10v3.25h-27.10zM323.55 214.89h27.10v3.25h-27.10zM368.60 214.89h13.85v3.25h-13.85zM257.30 217.54h29.75v3.25h-29.75zM326.20 217.54h13.85v3.25h-13.85zM342.10 217.54h5.90v3.25h-5.90zM371.25 217.54h8.55v3.25h-8.55zM257.30 220.18h32.40v3.25h-32.40zM302.35 220.18h8.55v3.25h-8.55zM323.55 220.18h13.85v3.25h-13.85zM342.10 220.18h3.25v3.25h-3.25zM371.25 220.18h5.90v3.25h-5.90zM257.30 222.83h35.05v3.25h-35.05zM294.40 222.83h21.80v3.25h-21.80zM318.25 222.83h19.15v3.25h-19.15zM257.30 225.48h85.40v3.25h-85.40zM257.30 228.13h85.40v3.25h-85.40zM257.30 230.78h80.10v3.25h-80.10zM257.30 233.42h80.10v3.25h-80.10zM257.30 236.07h80.10v3.25h-80.10zM257.30 238.72h80.10v3.25h-80.10zM257.30 241.37h74.80v3.25h-74.80zM257.30 244.02h74.80v3.25h-74.80zM257.30 246.66h5.90v3.25h-5.90zM267.90 246.66h58.90v3.25h-58.90zM257.30 249.31h5.90v3.25h-5.90zM267.90 249.31h58.90v3.25h-58.90zM257.30 251.96h58.90v3.25h-58.90zM326.20 251.96h16.50v3.25h-16.50zM257.30 254.61h58.90v3.25h-58.90zM326.20 254.61h16.50v3.25h-16.50zM283.80 257.26h27.10v3.25h-27.10zM283.80 259.90h27.10v3.25h-27.10zM289.10 262.55h21.80v3.25h-21.80zM326.20 262.55h5.90v3.25h-5.90zM336.80 262.55h11.20v3.25h-11.20zM289.10 265.20h21.80v3.25h-21.80zM326.20 265.20h5.90v3.25h-5.90zM336.80 265.20h11.20v3.25h-11.20zM262.60 267.85h5.90v3.25h-5.90zM294.40 267.85h11.20v3.25h-11.20zM326.20 267.85h5.90v3.25h-5.90zM262.60 270.50h5.90v3.25h-5.90zM294.40 270.50h11.20v3.25h-11.20zM326.20 270.50h5.90v3.25h-5.90zM257.30 273.14h16.50v3.25h-16.50zM257.30 275.79h16.50v3.25h-16.50zM257.30 278.44h16.50v3.25h-16.50zM257.30 281.09h16.50v3.25h-16.50zM257.30 283.74h11.20v3.25h-11.20zM257.30 286.38h11.20v3.25h-11.20zM257.30 289.03h5.90v3.25h-5.90zM305.00 289.03h11.20v3.25h-11.20zM371.25 289.03h8.55v3.25h-8.55zM257.30 291.68h5.90v3.25h-5.90zM305.00 291.68h11.20v3.25h-11.20zM355.35 291.68h24.45v3.25h-24.45zM299.70 294.33h21.80v3.25h-21.80zM352.70 294.33h32.40v3.25h-32.40zM299.70 296.98h21.80v3.25h-21.80zM350.05 296.98h35.05v3.25h-35.05zM273.20 299.62h5.90v3.25h-5.90zM299.70 299.62h27.10v3.25h-27.10zM350.05 299.62h24.45v3.25h-24.45zM273.20 302.27h5.90v3.25h-5.90zM299.70 302.27h27.10v3.25h-27.10zM344.75 302.27h29.75v3.25h-29.75zM299.70 304.92h27.10v3.25h-27.10zM342.10 304.92h24.45v3.25h-24.45zM299.70 307.57h27.10v3.25h-27.10zM342.10 307.57h16.50v3.25h-16.50zM289.10 310.22h11.20v3.25h-11.20zM342.10 310.22h13.85v3.25h-13.85zM289.10 312.86h11.20v3.25h-11.20zM342.10 312.86h11.20v3.25h-11.20zM355.35 315.51h3.25v3.25h-3.25z"/>
<path fill="#51b04d" d="M267.90 199.00h11.20v3.25h-11.20zM312.95 199.00h16.50v3.25h-16.50zM379.20 199.00h11.20v3.25h-11.20zM267.90 201.65h13.85v3.25h-13.85zM312.95 201.65h16.50v3.25h-16.50zM379.20 201.65h11.20v3.25h-11.20zM315.60 204.30h8.55v3.25h-8.55zM315.60 206.94h5.90v3.25h-5.90zM315.60 209.59h3.25v3.25h-3.25zM312.95 212.24h5.90v3.25h-5.90zM312.95 214.89h3.25v3.25h-3.25zM318.25 214.89h3.25v3.25h-3.25zM350.05 222.83h5.90v3.25h-5.90zM347.40 225.48h11.20v3.25h-11.20zM379.20 225.48h5.90v3.25h-5.90zM347.40 228.13h11.20v3.25h-11.20zM379.20 228.13h5.90v3.25h-5.90zM347.40 230.78h11.20v3.25h-11.20zM379.20 230.78h11.20v3.25h-11.20zM347.40 233.42h11.20v3.25h-11.20zM379.20 233.42h11.20v3.25h-11.20zM336.80 241.37h5.90v3.25h-5.90zM363.30 241.37h16.50v3.25h-16.50zM336.80 244.02h5.90v3.25h-5.90zM363.30 244.02h16.50v3.25h-16.50zM352.70 246.66h37.70v3.25h-37.70zM352.70 249.31h37.70v3.25h-37.70zM352.70 251.96h37.70v3.25h-37.70zM352.70 254.61h37.70v3.25h-37.70zM352.70 257.26h37.70v3.25h-37.70zM352.70 259.90h37.70v3.25h-37.70zM358.00 262.55h32.40v3.25h-32.40zM358.00 265.20h32.40v3.25h-32.40zM358.00 267.85h32.40v3.25h-32.40zM358.00 270.50h32.40v3.25h-32.40zM283.80 273.14h27.10v3.25h-27.10zM320.90 273.14h5.90v3.25h-5.90zM352.70 273.14h5.90v3.25h-5.90zM363.30 273.14h27.10v3.25h-27.10zM283.80 275.79h27.10v3.25h-27.10zM320.90 275.79h5.90v3.25h-5.90zM339.45 275.79h50.95v3.25h-50.95zM283.80 278.44h11.20v3.25h-11.20zM310.30 278.44h16.50v3.25h-16.50zM336.80 278.44h16.50v3.25h-16.50zM363.30 278.44h27.10v3.25h-27.10zM283.80 281.09h11.20v3.25h-11.20zM310.30 281.09h16.50v3.25h-16.50zM331.50 281.09h13.85v3.25h-13.85zM368.60 281.09h21.80v3.25h-21.80zM315.60 283.74h24.45v3.25h-24.45zM368.60 283.74h5.90v3.25h-5.90zM379.20 283.74h11.20v3.25h-11.20zM315.60 286.38h21.80v3.25h-21.80zM365.95 286.38h8.55v3.25h-8.55zM379.20 286.38h11.20v3.25h-11.20zM289.10 289.03h5.90v3.25h-5.90zM320.90 289.03h13.85v3.25h-13.85zM352.70 289.03h3.25v3.25h-3.25zM289.10 291.68h5.90v3.25h-5.90zM320.90 291.68h11.20v3.25h-11.20zM352.70 291.68h3.25v3.25h-3.25zM283.80 294.33h16.50v3.25h-16.50zM326.20 294.33h5.90v3.25h-5.90zM347.40 294.33h3.25v3.25h-3.25zM283.80 296.98h16.50v3.25h-16.50zM326.20 296.98h8.55v3.25h-8.55zM344.75 296.98h3.25v3.25h-3.25zM257.30 299.62h5.90v3.25h-5.90zM278.50 299.62h11.20v3.25h-11.20zM326.20 299.62h8.55v3.25h-8.55zM342.10 299.62h3.25v3.25h-3.25zM384.50 299.62h5.90v3.25h-5.90zM257.30 302.27h5.90v3.25h-5.90zM278.50 302.27h11.20v3.25h-11.20zM326.20 302.27h16.50v3.25h-16.50zM384.50 302.27h5.90v3.25h-5.90zM257.30 304.92h11.20v3.25h-11.20zM273.20 304.92h11.20v3.25h-11.20zM331.50 304.92h11.20v3.25h-11.20zM379.20 304.92h5.90v3.25h-5.90zM257.30 307.57h11.20v3.25h-11.20zM273.20 307.57h11.20v3.25h-11.20zM331.50 307.57h11.20v3.25h-11.20zM360.65 307.57h3.25v3.25h-3.25zM365.95 307.57h3.25v3.25h-3.25zM379.20 307.57h5.90v3.25h-5.90zM257.30 310.22h5.90v3.25h-5.90zM273.20 310.22h5.90v3.25h-5.90zM320.90 310.22h5.90v3.25h-5.90zM331.50 310.22h11.20v3.25h-11.20zM373.90 310.22h11.20v3.25h-11.20zM257.30 312.86h5.90v3.25h-5.90zM273.20 312.86h5.90v3.25h-5.90zM320.90 312.86h5.90v3.25h-5.90zM331.50 312.86h11.20v3.25h-11.20zM355.35 312.86h3.25v3.25h-3.25zM373.90 312.86h11.20v3.25h-11.20zM273.20 315.51h16.50v3.25h-16.50zM305.00 315.51h45.65v3.25h-45.65zM352.70 315.51h3.25v3.25h-3.25zM373.90 315.51h16.50v3.25h-16.50zM273.20 318.16h16.50v3.25h-16.50zM305.00 318.16h53.60v3.25h-53.60zM373.90 318.16h16.50v3.25h-16.50zM267.90 320.81h11.20v3.25h-11.20zM294.40 320.81h90.70v3.25h-90.70zM267.90 323.46h11.20v3.25h-11.20zM294.40 323.46h90.70v3.25h-90.70zM267.90 326.10h32.40v3.25h-32.40zM305.00 326.10h74.80v3.25h-74.80zM267.90 328.75h32.40v3.25h-32.40zM305.00 328.75h74.80v3.25h-74.80z"/>
<path fill="#ab5a26" d="M352.70 278.44h11.20v3.25h-11.20zM344.75 281.09h8.55v3.25h-8.55zM358.00 281.09h11.20v3.25h-11.20zM339.45 283.74h5.90v3.25h-5.90zM360.65 283.74h8.55v3.25h-8.55zM336.80 286.38h5.90v3.25h-5.90zM352.70 286.38h13.85v3.25h-13.85zM334.15 289.03h5.90v3.25h-5.90zM350.05 289.03h3.25v3.25h-3.25zM331.50 291.68h3.25v3.25h-3.25zM347.40 291.68h5.90v3.25h-5.90zM331.50 294.33h3.25v3.25h-3.25zM342.10 294.33h5.90v3.25h-5.90zM334.15 296.98h3.25v3.25h-3.25zM342.10 296.98h3.25v3.25h-3.25zM334.15 299.62h8.55v3.25h-8.55zM363.30 307.57h3.25v3.25h-3.25zM358.00 310.22h11.20v3.25h-11.20zM358.00 312.86h3.25v3.25h-3.25zM363.30 312.86h5.90v3.25h-5.90zM358.00 315.51h11.20v3.25h-11.20zM358.00 318.16h8.55v3.25h-8.55z"/>
<path fill="#f8891a" d="M352.70 281.09h5.90v3.25h-5.90zM344.75 283.74h16.50v3.25h-16.50zM342.10 286.38h11.20v3.25h-11.20zM339.45 289.03h11.20v3.25h-11.20zM334.15 291.68h13.85v3.25h-13.85zM334.15 294.33h8.55v3.25h-8.55zM336.80 296.98h5.90v3.25h-5.90z"/>
</g>
<rect x="382.0" y="201.7" width="4.6" height="4.5" fill="#fdfdf8"/>
<rect x="257.3" y="199.0" width="132.5" height="132.4" fill="none" stroke="#333" stroke-width="0.5"/>
<line x1="258.62" y1="331.4" x2="258.62" y2="333.59999999999997" stroke="#444" stroke-width="0.5"/>
<text x="258.62" y="339.20" font-size="5.6" font-family='"Liberation Sans", sans-serif' text-anchor="middle" fill="#333" >0</text>
<line x1="255.10000000000002" y1="200.32" x2="257.3" y2="200.32" stroke="#444" stroke-width="0.5"/>
<text x="254.00" y="202.32" font-size="5.6" font-family='"Liberation Sans", sans-serif' text-anchor="end" fill="#333" >0</text>
<line x1="285.12" y1="331.4" x2="285.12" y2="333.59999999999997" stroke="#444" stroke-width="0.5"/>
<text x="285.12" y="339.20" font-size="5.6" font-family='"Liberation Sans", sans-serif' text-anchor="middle" fill="#333" >10</text>
<line x1="255.10000000000002" y1="226.82" x2="257.3" y2="226.82" stroke="#444" stroke-width="0.5"/>
<text x="254.00" y="228.82" font-size="5.6" font-family='"Liberation Sans", sans-serif' text-anchor="end" fill="#333" >10</text>
<line x1="311.62" y1="331.4" x2="311.62" y2="333.59999999999997" stroke="#444" stroke-width="0.5"/>
<text x="311.62" y="339.20" font-size="5.6" font-family='"Liberation Sans", sans-serif' text-anchor="middle" fill="#333" >20</text>
<line x1="255.10000000000002" y1="253.32" x2="257.3" y2="253.32" stroke="#444" stroke-width="0.5"/>
<text x="254.00" y="255.32" font-size="5.6" font-family='"Liberation Sans", sans-serif' text-anchor="end" fill="#333" >20</text>
<line x1="338.12" y1="331.4" x2="338.12" y2="333.59999999999997" stroke="#444" stroke-width="0.5"/>
<text x="338.12" y="339.20" font-size="5.6" font-family='"Liberation Sans", sans-serif' text-anchor="middle" fill="#333" >30</text>
<line x1="255.10000000000002" y1="279.82" x2="257.3" y2="279.82" stroke="#444" stroke-width="0.5"/>
<text x="254.00" y="281.82" font-size="5.6" font-family='"Liberation Sans", sans-serif' text-anchor="end" fill="#333" >30</text>
<line x1="364.62" y1="331.4" x2="364.62" y2="333.59999999999997" stroke="#444" stroke-width="0.5"/>
<text x="364.62" y="339.20" font-size="5.6" font-family='"Liberation Sans", sans-serif' text-anchor="middle" fill="#333" >40</text>
<line x1="255.10000000000002" y1="306.32" x2="257.3" y2="306.32" stroke="#444" stroke-width="0.5"/>
<text x="254.00" y="308.32" font-size="5.6" font-family='"Liberation Sans", sans-serif' text-anchor="end" fill="#333" >40</text>
<rect x="446.6" y="3.5" width="181.19999999999993" height="145.8" fill="none" stroke="#2a2a2a" stroke-width="0.9"/>
<line x1="444.3" y1="136.80" x2="446.6" y2="136.80" stroke="#2a2a2a" stroke-width="0.8"/>
<line x1="627.8" y1="136.80" x2="625.5" y2="136.80" stroke="#2a2a2a" stroke-width="0.8"/>
<text x="443.00" y="139.80" font-size="8.9" font-family='"Liberation Serif", serif' text-anchor="end" fill="#111" >0.0</text>
<line x1="445.20000000000005" y1="124.11" x2="446.6" y2="124.11" stroke="#2a2a2a" stroke-width="0.8"/>
<line x1="627.8" y1="124.11" x2="626.4" y2="124.11" stroke="#2a2a2a" stroke-width="0.8"/>
<line x1="444.3" y1="111.42" x2="446.6" y2="111.42" stroke="#2a2a2a" stroke-width="0.8"/>
<line x1="627.8" y1="111.42" x2="625.5" y2="111.42" stroke="#2a2a2a" stroke-width="0.8"/>
<text x="443.00" y="114.42" font-size="8.9" font-family='"Liberation Serif", serif' text-anchor="end" fill="#111" >0.2</text>
<line x1="445.20000000000005" y1="98.73" x2="446.6" y2="98.73" stroke="#2a2a2a" stroke-width="0.8"/>
<line x1="627.8" y1="98.73" x2="626.4" y2="98.73" stroke="#2a2a2a" stroke-width="0.8"/>
<line x1="444.3" y1="86.04" x2="446.6" y2="86.04" stroke="#2a2a2a" stroke-width="0.8"/>
<line x1="627.8" y1="86.04" x2="625.5" y2="86.04" stroke="#2a2a2a" stroke-width="0.8"/>
<text x="443.00" y="89.04" font-size="8.9" font-family='"Liberation Serif", serif' text-anchor="end" fill="#111" >0.4</text>
<line x1="445.20000000000005" y1="73.35" x2="446.6" y2="73.35" stroke="#2a2a2a" stroke-width="0.8"/>
<line x1="627.8" y1="73.35" x2="626.4" y2="73.35" stroke="#2a2a2a" stroke-width="0.8"/>
<line x1="444.3" y1="60.66" x2="446.6" y2="60.66" stroke="#2a2a2a" stroke-width="0.8"/>
<line x1="627.8" y1="60.66" x2="625.5" y2="60.66" stroke="#2a2a2a" stroke-width="0.8"/>
<text x="443.00" y="63.66" font-size="8.9" font-family='"Liberation Serif", serif' text-anchor="end" fill="#111" >0.6</text>
<line x1="445.20000000000005" y1="47.97" x2="446.6" y2="47.97" stroke="#2a2a2a" stroke-width="0.8"/>
<line x1="627.8" y1="47.97" x2="626.4" y2="47.97" stroke="#2a2a2a" stroke-width="0.8"/>
<line x1="444.3" y1="35.28" x2="446.6" y2="35.28" stroke="#2a2a2a" stroke-width="0.8"/>
<line x1="627.8" y1="35.28" x2="625.5" y2="35.28" stroke="#2a2a2a" stroke-width="0.8"/>
<text x="443.00" y="38.28" font-size="8.9" font-family='"Liberation Serif", serif' text-anchor="end" fill="#111" >0.8</text>
<line x1="445.20000000000005" y1="22.59" x2="446.6" y2="22.59" stroke="#2a2a2a" stroke-width="0.8"/>
<line x1="627.8" y1="22.59" x2="626.4" y2="22.59" stroke="#2a2a2a" stroke-width="0.8"/>
<line x1="444.3" y1="9.90" x2="446.6" y2="9.90" stroke="#2a2a2a" stroke-width="0.8"/>
<line x1="627.8" y1="9.90" x2="625.5" y2="9.90" stroke="#2a2a2a" stroke-width="0.8"/>
<text x="443.00" y="12.90" font-size="8.9" font-family='"Liberation Serif", serif' text-anchor="end" fill="#111" >1.0</text>
<line x1="460.02" y1="149.3" x2="460.02" y2="150.8" stroke="#2a2a2a" stroke-width="0.8"/>
<line x1="460.02" y1="3.5" x2="460.02" y2="5.0" stroke="#2a2a2a" stroke-width="0.8"/>
<line x1="493.58" y1="149.3" x2="493.58" y2="151.9" stroke="#2a2a2a" stroke-width="0.8"/>
<line x1="493.58" y1="3.5" x2="493.58" y2="6.1" stroke="#2a2a2a" stroke-width="0.8"/>
<text x="493.58" y="161.80" font-size="8.9" font-family='"Liberation Serif", serif' text-anchor="middle" fill="#111" >500</text>
<line x1="527.13" y1="149.3" x2="527.13" y2="150.8" stroke="#2a2a2a" stroke-width="0.8"/>
<line x1="527.13" y1="3.5" x2="527.13" y2="5.0" stroke="#2a2a2a" stroke-width="0.8"/>
<line x1="560.69" y1="149.3" x2="560.69" y2="151.9" stroke="#2a2a2a" stroke-width="0.8"/>
<line x1="560.69" y1="3.5" x2="560.69" y2="6.1" stroke="#2a2a2a" stroke-width="0.8"/>
<text x="560.69" y="161.80" font-size="8.9" font-family='"Liberation Serif", serif' text-anchor="middle" fill="#111" >1000</text>
<line x1="594.24" y1="149.3" x2="594.24" y2="150.8" stroke="#2a2a2a" stroke-width="0.8"/>
<line x1="594.24" y1="3.5" x2="594.24" y2="5.0" stroke="#2a2a2a" stroke-width="0.8"/>
<line x1="627.80" y1="149.3" x2="627.80" y2="151.9" stroke="#2a2a2a" stroke-width="0.8"/>
<line x1="627.80" y1="3.5" x2="627.80" y2="6.1" stroke="#2a2a2a" stroke-width="0.8"/>
<text x="627.80" y="161.80" font-size="8.9" font-family='"Liberation Serif", serif' text-anchor="middle" fill="#111" >1500</text>
<path d="M446.7 133.3 L447.3 133.3 L447.9 133.1 L448.5 132.9 L449.1 132.7 L449.7 132.4 L449.7 132.5 L450.3 132.0 L450.9 130.9 L451.5 129.7 L452.1 128.6 L452.1 128.6 L452.7 127.3 L453.3 126.0 L453.9 125.3 L454.0 125.3 L454.5 125.7 L455.1 126.8 L455.6 127.6 L455.7 127.8 L456.3 128.8 L456.9 129.8 L457.5 130.6 L458.0 130.9 L458.1 130.9 L458.7 130.7 L459.3 130.3 L459.9 130.0 L460.3 129.8 L460.5 129.6 L461.1 128.6 L461.7 127.4 L462.3 126.5 L462.7 126.4 L462.9 126.4 L463.5 126.7 L464.1 127.3 L464.6 127.8 L464.7 127.9 L465.3 128.7 L465.9 129.6 L466.5 130.6 L467.0 131.2 L467.1 131.4 L467.7 132.2 L468.3 132.8 L468.9 133.4 L469.5 134.0 L470.1 134.5 L470.1 134.6 L470.7 135.0 L471.3 135.4 L471.9 135.9 L472.5 136.3 L473.1 136.6 L473.7 136.8 L474.0 136.8 L474.3 136.9 L474.9 136.8 L475.5 136.6 L476.1 136.4 L476.7 136.2 L477.2 136.0 L477.3 135.9 L477.9 135.5 L478.5 134.9 L479.1 134.1 L479.7 133.0 L479.9 132.4 L480.3 131.1 L480.9 127.8 L481.3 124.6 L481.5 122.4" fill="none" stroke="#f5474a" stroke-width="1.0" stroke-linejoin="round" stroke-linecap="round" />
<path d="M486.9 126.2 L487.0 127.1 L487.5 130.4 L488.1 132.8 L488.2 132.8 L488.7 133.1 L489.3 133.4 L489.9 133.7 L490.5 133.9 L490.5 133.7 L491.1 133.6 L491.7 133.6 L492.3 133.4 L492.5 133.4 L492.9 133.9 L493.5 134.7 L494.1 135.8 L494.7 136.6 L495.0 136.3 L495.3 136.2 L495.9 136.7 L496.5 137.0 L497.1 137.0 L497.7 137.2 L498.3 137.5 L498.9 137.4 L498.9 137.1 L499.5 136.8 L500.1 135.9 L500.7 134.7 L501.0 134.1 L501.3 133.5 L501.9 131.6 L502.5 129.3 L503.0 127.8 L503.1 127.5 L503.7 126.2 L504.3 125.3 L504.4 125.4 L504.9 125.9 L505.5 126.7 L506.0 127.5 L506.1 127.7 L506.7 128.4 L507.3 129.3 L507.8 130.1 L507.9 130.1 L508.5 131.4 L509.1 133.6 L509.5 134.8 L509.7 134.9 L510.3 136.3 L510.6 136.5 L510.9 136.6 L511.5 136.8 L512.1 136.8 L512.7 136.6 L513.3 136.5 L513.9 136.4 L514.5 136.6 L515.0 136.9 L515.1 137.0 L515.7 137.0 L516.3 136.9 L516.9 136.6 L517.5 136.6 L518.1 136.7 L518.7 136.8 L519.3 136.8 L519.9 136.6 L520.0 136.4 L520.5 136.8 L521.1 137.2 L521.7 136.9 L522.3 136.7 L522.9 137.2 L523.5 137.3 L524.1 136.9 L524.7 136.8 L525.3 136.8 L525.9 136.8 L526.5 137.2 L527.0 137.3 L527.1 137.1 L527.7 137.1 L528.3 137.1 L528.9 137.1 L529.5 136.9 L530.1 136.7 L530.7 136.8 L531.3 137.1 L531.9 137.1 L532.5 136.9 L533.1 136.9 L533.7 136.7 L534.3 136.7 L534.9 136.9 L535.0 136.8 L535.5 136.7 L536.1 136.9 L536.7 137.1 L537.3 137.1 L537.9 136.8 L538.5 136.4 L539.1 136.4 L539.7 136.8 L540.3 137.0 L540.9 136.7 L541.5 136.8 L542.1 136.9 L542.7 136.9 L543.0 136.8 L543.3 136.7 L543.9 136.6 L544.5 136.3 L545.1 136.4 L545.7 136.5 L546.3 136.6 L546.9 136.8 L547.5 136.4 L548.1 135.6 L548.7 135.3 L549.3 135.6 L549.9 135.6 L550.0 135.7 L550.5 135.7 L551.1 135.1 L551.7 135.0 L552.3 135.4 L552.9 135.6 L553.5 135.6 L554.1 135.5 L554.7 135.2 L555.3 135.1 L555.9 135.2 L556.5 135.1 L557.1 135.1 L557.7 135.4 L558.0 135.6 L558.3 135.5 L558.9 135.2 L559.5 135.0 L560.1 134.9 L560.7 135.0 L561.3 135.1 L561.9 135.0 L562.5 135.1 L563.1 135.4 L563.7 135.4 L564.3 134.9 L564.9 134.9 L565.5 134.9 L566.1 134.6 L566.7 134.4 L567.0 134.6 L567.3 134.9 L567.9 134.9 L568.5 134.8 L569.1 134.9 L569.7 135.1 L570.3 134.7 L570.9 134.2 L571.5 134.2 L572.1 133.9 L572.7 133.8 L573.3 134.5 L573.9 135.2 L574.0 134.9 L574.5 134.5 L575.1 134.6 L575.7 135.0 L576.3 134.9 L576.9 134.7 L577.5 134.6 L578.1 134.6 L578.7 134.7 L579.3 134.7 L579.9 134.4 L580.0 134.2 L580.5 134.3 L581.1 134.5 L581.7 134.6 L582.3 134.5 L582.9 134.7 L583.5 134.8 L584.0 135.0 L584.1 135.6 L584.7 135.7 L585.3 135.5 L585.9 135.6 L586.5 135.4 L587.1 135.1 L587.7 135.4 L588.0 135.7 L588.3 135.6 L588.9 135.3 L589.5 135.1 L590.1 135.0 L590.7 134.9 L591.3 134.5 L591.9 134.3 L592.5 134.2 L593.0 133.8 L593.1 133.4 L593.7 133.5 L594.3 134.2 L594.9 134.6 L595.5 134.7 L596.1 134.8 L596.7 134.8 L597.3 134.9 L597.9 135.0 L598.5 135.1 L599.1 135.5 L599.7 135.8 L600.0 135.7 L600.3 135.4 L600.9 135.1 L601.5 135.1 L602.1 135.2 L602.7 134.9 L603.3 134.2 L603.9 133.6 L604.0 133.5 L604.5 133.3 L605.1 132.7 L605.7 131.7 L606.3 130.8 L606.9 130.5 L607.0 130.4 L607.5 130.3 L608.1 130.7 L608.7 131.3 L609.3 131.9 L609.9 132.3 L610.0 132.5 L610.5 132.9 L611.1 132.7 L611.7 132.7 L612.3 133.0 L612.9 133.1 L613.5 133.1 L614.0 133.5 L614.1 133.8 L614.7 133.4 L615.3 132.8 L615.9 132.6 L616.5 132.4 L617.0 132.1 L617.1 132.2 L617.7 132.4 L618.3 132.3 L618.9 132.4 L619.5 132.6 L620.0 132.3 L620.1 132.4 L620.7 132.6 L621.3 132.3 L621.9 131.9 L622.5 132.0 L623.1 132.5 L623.7 133.1 L624.0 132.9 L624.3 132.4 L624.9 132.2 L625.5 132.4 L626.1 132.5 L626.7 132.4 L627.3 132.4 L627.5 132.4" fill="none" stroke="#f5474a" stroke-width="1.0" stroke-linejoin="round" stroke-linecap="round" />
<path d="M446.7 133.7 L447.3 133.7 L447.9 133.6 L448.5 133.4 L449.1 133.2 L449.7 133.0 L449.7 133.0 L450.3 132.3 L450.9 131.2 L451.5 130.0 L452.1 128.8 L452.1 128.9 L452.7 127.8 L453.3 126.5 L453.9 125.7 L454.0 125.6 L454.5 126.0 L455.1 127.3 L455.6 128.3 L455.7 128.5 L456.3 129.4 L456.9 130.3 L457.5 131.0 L458.0 131.3 L458.1 131.2 L458.7 131.1 L459.3 130.8 L459.9 130.4 L460.3 130.3 L460.5 130.1 L461.1 129.1 L461.7 127.9 L462.3 127.0 L462.7 126.8 L462.9 126.8 L463.5 127.1 L464.1 127.6 L464.6 128.1 L464.7 128.3 L465.3 129.1 L465.9 130.1 L466.5 131.0 L467.0 131.6 L467.1 131.7 L467.7 132.5 L468.3 133.2 L468.9 133.9 L469.5 134.5 L470.1 134.9 L470.1 134.8 L470.7 135.3 L471.3 135.9 L471.9 136.3 L472.5 136.6 L473.1 137.1 L473.7 137.3 L474.0 137.3 L474.3 137.2 L474.9 137.1 L475.5 137.0 L476.1 136.9 L476.7 136.7 L477.2 136.5 L477.3 136.4 L477.9 135.9 L478.5 135.2 L479.1 134.4 L479.7 133.3 L479.9 132.9 L480.3 131.6 L480.9 128.1 L481.3 124.8 L481.5 122.6" fill="none" stroke="#ffa135" stroke-width="1.0" stroke-linejoin="round" stroke-linecap="round" />
<path d="M486.9 126.5 L487.0 127.3 L487.5 130.5 L488.1 132.7 L488.2 132.8 L488.7 133.1 L489.3 133.4 L489.9 133.8 L490.5 134.0 L490.5 134.0 L491.1 134.0 L491.7 133.8 L492.3 134.1 L492.5 134.4 L492.9 134.6 L493.5 135.0 L494.1 135.4 L494.7 136.0 L495.0 136.3 L495.3 136.2 L495.9 136.3 L496.5 137.0 L497.1 137.3 L497.7 137.0 L498.3 136.9 L498.9 137.0 L498.9 137.2 L499.5 137.0 L500.1 136.0 L500.7 134.9 L501.0 134.5 L501.3 133.7 L501.9 131.5 L502.5 129.0 L503.0 127.4 L503.1 127.4 L503.7 126.9 L504.3 126.3 L504.4 126.1 L504.9 126.5 L505.5 127.3 L506.0 128.3 L506.1 128.5 L506.7 128.6 L507.3 128.8 L507.8 129.6 L507.9 130.0 L508.5 131.9 L509.1 133.6 L509.5 134.2 L509.7 134.5 L510.3 136.5 L510.6 136.9 L510.9 136.5 L511.5 136.6 L512.1 136.9 L512.7 137.0 L513.3 136.8 L513.9 136.6 L514.5 136.5 L515.0 136.7 L515.1 137.3 L515.7 137.3 L516.3 136.9 L516.9 136.5 L517.5 136.4 L518.1 136.7 L518.7 137.0 L519.3 137.0 L519.9 136.9 L520.0 136.8 L520.5 137.0 L521.1 137.3 L521.7 137.7 L522.3 137.8 L522.9 137.3 L523.5 137.1 L524.1 137.1 L524.7 137.1 L525.3 137.1 L525.9 137.2 L526.5 137.2 L527.0 137.4 L527.1 137.5 L527.7 137.4 L528.3 137.3 L528.9 137.0 L529.5 137.0 L530.1 137.1 L530.7 137.1 L531.3 137.2 L531.9 137.0 L532.5 136.8 L533.1 136.8 L533.7 136.7 L534.3 136.7 L534.9 136.6 L535.0 136.5 L535.5 136.8 L536.1 137.0 L536.7 136.9 L537.3 136.7 L537.9 136.6 L538.5 136.6 L539.1 136.6 L539.7 136.7 L540.3 136.6 L540.9 136.5 L541.5 136.7 L542.1 136.8 L542.7 136.6 L543.0 136.6 L543.3 136.6 L543.9 136.3 L544.5 136.5 L545.1 136.6 L545.7 136.5 L546.3 136.4 L546.9 136.1 L547.5 136.1 L548.1 136.2 L548.7 136.2 L549.3 135.9 L549.9 135.6 L550.0 136.0 L550.5 136.4 L551.1 136.3 L551.7 135.8 L552.3 135.6 L552.9 135.8 L553.5 135.6 L554.1 135.2 L554.7 135.4 L555.3 135.3 L555.9 135.2 L556.5 135.6 L557.1 135.9 L557.7 135.8 L558.0 135.9 L558.3 136.3 L558.9 136.2 L559.5 135.7 L560.1 135.3 L560.7 135.1 L561.3 135.2 L561.9 135.4 L562.5 135.5 L563.1 135.4 L563.7 135.3 L564.3 135.1 L564.9 135.1 L565.5 135.3 L566.1 135.4 L566.7 135.4 L567.0 135.2 L567.3 135.0 L567.9 134.9 L568.5 134.6 L569.1 134.6 L569.7 135.0 L570.3 135.1 L570.9 134.9 L571.5 134.6 L572.1 134.7 L572.7 134.8 L573.3 134.5 L573.9 134.4 L574.0 134.9 L574.5 135.3 L575.1 135.2 L575.7 134.9 L576.3 135.0 L576.9 134.7 L577.5 134.2 L578.1 134.4 L578.7 134.9 L579.3 135.1 L579.9 135.2 L580.0 135.1 L580.5 134.9 L581.1 134.9 L581.7 135.0 L582.3 134.9 L582.9 135.1 L583.5 135.7 L584.0 135.9 L584.1 135.5 L584.7 135.4 L585.3 135.8 L585.9 136.0 L586.5 136.1 L587.1 136.1 L587.7 135.8 L588.0 135.7 L588.3 135.9 L588.9 136.0 L589.5 135.7 L590.1 134.8 L590.7 134.5 L591.3 134.4 L591.9 133.9 L592.5 133.7 L593.0 134.1 L593.1 134.3 L593.7 134.1 L594.3 134.1 L594.9 134.3 L595.5 134.4 L596.1 134.4 L596.7 134.1 L597.3 134.1 L597.9 134.3 L598.5 134.5 L599.1 134.7 L599.7 134.6 L600.0 134.4 L600.3 134.4 L600.9 134.5 L601.5 134.4 L602.1 133.9 L602.7 133.7 L603.3 133.9 L603.9 134.0 L604.0 133.8 L604.5 132.9 L605.1 132.3 L605.7 131.9 L606.3 131.1 L606.9 130.6 L607.0 130.8 L607.5 130.9 L608.1 130.9 L608.7 131.0 L609.3 131.6 L609.9 132.4 L610.0 132.4 L610.5 132.6 L611.1 133.0 L611.7 133.2 L612.3 133.3 L612.9 133.4 L613.5 133.3 L614.0 133.2 L614.1 133.3 L614.7 133.6 L615.3 133.3 L615.9 132.8 L616.5 132.6 L617.0 132.7 L617.1 132.6 L617.7 132.1 L618.3 131.9 L618.9 132.4 L619.5 132.9 L620.0 132.7 L620.1 132.4 L620.7 132.7 L621.3 132.9 L621.9 132.6 L622.5 132.6 L623.1 133.0 L623.7 133.1 L624.0 133.0 L624.3 133.0 L624.9 133.4 L625.5 133.5 L626.1 133.1 L626.7 132.6 L627.3 132.2 L627.5 132.4" fill="none" stroke="#ffa135" stroke-width="1.0" stroke-linejoin="round" stroke-linecap="round" />
<path d="M446.7 131.8 L447.3 131.8 L447.9 131.7 L448.5 131.4 L449.1 131.2 L449.7 130.9 L449.7 131.0 L450.3 130.4 L450.9 129.4 L451.5 128.1 L452.1 127.0 L452.1 127.1 L452.7 125.9 L453.3 124.7 L453.9 124.0 L454.0 123.8 L454.5 124.1 L455.1 125.2 L455.6 126.2 L455.7 126.4 L456.3 127.4 L456.9 128.3 L457.5 129.1 L458.0 129.3 L458.1 129.4 L458.7 129.3 L459.3 128.9 L459.9 128.6 L460.3 128.2 L460.5 128.0 L461.1 127.0 L461.7 126.0 L462.3 125.3 L462.7 125.1 L462.9 125.1 L463.5 125.3 L464.1 125.8 L464.6 126.4 L464.7 126.4 L465.3 127.2 L465.9 128.1 L466.5 129.1 L467.0 129.8 L467.1 129.9 L467.7 130.6 L468.3 131.3 L468.9 132.1 L469.5 132.6 L470.1 133.0 L470.1 133.0 L470.7 133.5 L471.3 133.9 L471.9 134.4 L472.5 134.9 L473.1 135.2 L473.7 135.3 L474.0 135.4 L474.3 135.3 L474.9 135.2 L475.5 135.1 L476.1 134.9 L476.7 134.6 L477.2 134.4 L477.3 134.4 L477.9 134.1 L478.5 133.5 L479.1 132.6 L479.7 131.4 L479.9 131.0 L480.3 129.9 L480.9 127.3 L481.3 124.7 L481.5 122.5" fill="none" stroke="#2ea52f" stroke-width="1.0" stroke-linejoin="round" stroke-linecap="round" />
<path d="M486.9 126.2 L487.0 127.0 L487.5 130.3 L488.1 132.6 L488.2 132.7 L488.7 133.1 L489.3 133.5 L489.9 133.8 L490.5 134.1 L490.5 134.0 L491.1 134.0 L491.7 133.9 L492.3 133.7 L492.5 133.8 L492.9 134.3 L493.5 134.7 L494.1 135.5 L494.7 136.4 L495.0 136.4 L495.3 135.9 L495.9 136.1 L496.5 136.6 L497.1 136.9 L497.7 137.0 L498.3 137.1 L498.9 137.2 L498.9 137.3 L499.5 136.8 L500.1 136.1 L500.7 135.5 L501.0 134.9 L501.3 133.6 L501.9 131.1 L502.5 129.0 L503.0 127.7 L503.1 127.4 L503.7 126.3 L504.3 125.7 L504.4 125.5 L504.9 125.8 L505.5 126.6 L506.0 127.1 L506.1 127.3 L506.7 128.3 L507.3 129.2 L507.8 129.8 L507.9 129.7 L508.5 131.4 L509.1 133.5 L509.5 134.5 L509.7 134.8 L510.3 136.2 L510.6 136.7 L510.9 136.5 L511.5 136.3 L512.1 136.6 L512.7 137.1 L513.3 137.1 L513.9 137.0 L514.5 136.9 L515.0 136.9 L515.1 136.8 L515.7 137.0 L516.3 137.5 L516.9 137.3 L517.5 136.8 L518.1 136.8 L518.7 137.1 L519.3 137.2 L519.9 136.7 L520.0 136.4 L520.5 136.6 L521.1 136.9 L521.7 137.2 L522.3 137.4 L522.9 137.4 L523.5 137.2 L524.1 137.0 L524.7 137.5 L525.3 137.9 L525.9 137.7 L526.5 137.4 L527.0 137.5 L527.1 137.5 L527.7 137.2 L528.3 137.1 L528.9 137.3 L529.5 137.3 L530.1 137.1 L530.7 137.0 L531.3 137.0 L531.9 137.0 L532.5 136.8 L533.1 136.6 L533.7 136.8 L534.3 136.9 L534.9 136.6 L535.0 136.7 L535.5 136.8 L536.1 136.6 L536.7 136.5 L537.3 136.6 L537.9 137.1 L538.5 137.6 L539.1 137.4 L539.7 136.9 L540.3 136.8 L540.9 136.7 L541.5 136.8 L542.1 136.8 L542.7 136.5 L543.0 136.6 L543.3 136.8 L543.9 136.8 L544.5 136.5 L545.1 136.2 L545.7 136.3 L546.3 136.3 L546.9 136.2 L547.5 136.0 L548.1 135.5 L548.7 135.3 L549.3 135.8 L549.9 136.0 L550.0 135.8 L550.5 135.8 L551.1 135.9 L551.7 135.6 L552.3 135.4 L552.9 135.6 L553.5 135.7 L554.1 135.5 L554.7 135.6 L555.3 135.4 L555.9 135.4 L556.5 135.7 L557.1 135.5 L557.7 135.1 L558.0 135.4 L558.3 135.8 L558.9 135.8 L559.5 135.5 L560.1 135.5 L560.7 135.4 L561.3 135.2 L561.9 135.2 L562.5 135.1 L563.1 134.8 L563.7 134.8 L564.3 134.9 L564.9 134.8 L565.5 134.7 L566.1 134.8 L566.7 135.0 L567.0 135.1 L567.3 135.2 L567.9 135.3 L568.5 135.4 L569.1 135.3 L569.7 135.0 L570.3 134.9 L570.9 135.1 L571.5 135.5 L572.1 135.3 L572.7 134.5 L573.3 134.5 L573.9 135.0 L574.0 135.3 L574.5 135.2 L575.1 135.0 L575.7 135.0 L576.3 134.9 L576.9 134.8 L577.5 134.6 L578.1 134.2 L578.7 134.2 L579.3 134.4 L579.9 134.5 L580.0 134.4 L580.5 134.2 L581.1 134.4 L581.7 134.3 L582.3 134.2 L582.9 134.4 L583.5 134.9 L584.0 135.3 L584.1 135.4 L584.7 135.4 L585.3 135.6 L585.9 135.6 L586.5 135.6 L587.1 135.9 L587.7 136.0 L588.0 135.7 L588.3 135.6 L588.9 135.5 L589.5 135.2 L590.1 134.9 L590.7 134.7 L591.3 134.4 L591.9 134.0 L592.5 133.8 L593.0 133.8 L593.1 133.9 L593.7 134.0 L594.3 134.3 L594.9 134.5 L595.5 134.6 L596.1 134.4 L596.7 134.0 L597.3 134.1 L597.9 134.3 L598.5 134.4 L599.1 134.4 L599.7 134.1 L600.0 133.9 L600.3 133.8 L600.9 133.8 L601.5 133.8 L602.1 133.6 L602.7 133.2 L603.3 133.1 L603.9 132.7 L604.0 132.3 L604.5 131.7 L605.1 131.2 L605.7 130.6 L606.3 130.5 L606.9 130.7 L607.0 130.6 L607.5 130.6 L608.1 130.8 L608.7 131.3 L609.3 131.9 L609.9 132.3 L610.0 132.6 L610.5 133.0 L611.1 133.0 L611.7 132.8 L612.3 132.9 L612.9 133.2 L613.5 133.4 L614.0 133.5 L614.1 133.6 L614.7 133.4 L615.3 132.7 L615.9 132.6 L616.5 132.8 L617.0 132.4 L617.1 132.2 L617.7 132.0 L618.3 131.9 L618.9 132.3 L619.5 132.8 L620.0 132.4 L620.1 131.8 L620.7 131.6 L621.3 132.1 L621.9 132.4 L622.5 132.2 L623.1 132.4 L623.7 132.8 L624.0 132.9 L624.3 132.5 L624.9 132.1 L625.5 132.0 L626.1 131.9 L626.7 131.9 L627.3 132.2 L627.5 132.2" fill="none" stroke="#2ea52f" stroke-width="1.0" stroke-linejoin="round" stroke-linecap="round" />
<path d="M446.7 131.7 L447.3 131.7 L447.9 131.5 L448.5 131.3 L449.1 131.1 L449.7 130.9 L449.7 130.8 L450.3 130.1 L450.9 129.1 L451.5 128.0 L452.1 126.9 L452.1 126.8 L452.7 125.5 L453.3 124.3 L453.9 123.6 L454.0 123.6 L454.5 124.0 L455.1 125.2 L455.6 126.1 L455.7 126.2 L456.3 127.1 L456.9 128.2 L457.5 129.0 L458.0 129.2 L458.1 129.1 L458.7 129.0 L459.3 128.8 L459.9 128.4 L460.3 128.1 L460.5 128.1 L461.1 127.1 L461.7 125.8 L462.3 125.0 L462.7 124.9 L462.9 124.9 L463.5 125.1 L464.1 125.6 L464.6 126.1 L464.7 126.2 L465.3 127.0 L465.9 128.0 L466.5 128.9 L467.0 129.5 L467.1 129.6 L467.7 130.4 L468.3 131.0 L468.9 131.7 L469.5 132.4 L470.1 132.9 L470.1 132.9 L470.7 133.3 L471.3 133.8 L471.9 134.2 L472.5 134.6 L473.1 134.9 L473.7 135.1 L474.0 135.1 L474.3 135.1 L474.9 135.0 L475.5 134.8 L476.1 134.7 L476.7 134.5 L477.2 134.3 L477.3 134.3 L477.9 133.8 L478.5 133.0 L479.1 132.1 L479.7 131.1 L479.9 130.8 L480.3 129.8 L480.9 127.1 L481.3 124.4 L481.5 122.3" fill="none" stroke="#6b5a45" stroke-width="1.0" stroke-linejoin="round" stroke-linecap="round" />
<path d="M486.9 126.1 L487.0 127.0 L487.5 130.2 L488.1 132.3 L488.2 132.2 L488.7 132.8 L489.3 133.3 L489.9 133.6 L490.5 133.4 L490.5 133.0 L491.1 133.0 L491.7 133.4 L492.3 133.9 L492.5 133.9 L492.9 133.8 L493.5 134.5 L494.1 135.4 L494.7 136.0 L495.0 136.0 L495.3 135.9 L495.9 135.8 L496.5 136.4 L497.1 136.8 L497.7 136.6 L498.3 136.7 L498.9 137.1 L498.9 136.9 L499.5 136.5 L500.1 135.8 L500.7 134.7 L501.0 133.8 L501.3 132.9 L501.9 130.8 L502.5 128.7 L503.0 127.4 L503.1 127.5 L503.7 126.6 L504.3 126.0 L504.4 125.8 L504.9 126.3 L505.5 127.4 L506.0 128.2 L506.1 128.2 L506.7 128.5 L507.3 129.1 L507.8 129.8 L507.9 129.8 L508.5 131.2 L509.1 132.9 L509.5 133.7 L509.7 134.0 L510.3 135.8 L510.6 136.5 L510.9 136.9 L511.5 136.9 L512.1 136.6 L512.7 136.4 L513.3 136.4 L513.9 136.5 L514.5 136.7 L515.0 136.9 L515.1 137.1 L515.7 136.6 L516.3 136.1 L516.9 136.1 L517.5 136.0 L518.1 136.3 L518.7 136.9 L519.3 136.7 L519.9 136.4 L520.0 136.8 L520.5 137.1 L521.1 136.7 L521.7 136.5 L522.3 136.7 L522.9 136.9 L523.5 137.2 L524.1 137.4 L524.7 137.5 L525.3 137.6 L525.9 137.5 L526.5 137.1 L527.0 136.7 L527.1 136.8 L527.7 137.0 L528.3 137.0 L528.9 137.1 L529.5 136.8 L530.1 136.8 L530.7 137.2 L531.3 137.2 L531.9 137.0 L532.5 137.1 L533.1 137.1 L533.7 136.6 L534.3 136.0 L534.9 136.1 L535.0 136.3 L535.5 136.3 L536.1 136.6 L536.7 136.8 L537.3 136.4 L537.9 136.4 L538.5 136.8 L539.1 136.4 L539.7 136.1 L540.3 136.4 L540.9 136.4 L541.5 136.4 L542.1 136.4 L542.7 136.2 L543.0 136.0 L543.3 136.3 L543.9 136.4 L544.5 136.1 L545.1 136.1 L545.7 136.4 L546.3 136.5 L546.9 136.2 L547.5 136.0 L548.1 135.8 L548.7 135.6 L549.3 135.8 L549.9 136.0 L550.0 136.0 L550.5 135.6 L551.1 135.3 L551.7 135.3 L552.3 135.6 L552.9 135.8 L553.5 135.9 L554.1 135.8 L554.7 135.9 L555.3 135.9 L555.9 135.4 L556.5 134.9 L557.1 134.7 L557.7 135.0 L558.0 135.4 L558.3 135.4 L558.9 135.5 L559.5 135.7 L560.1 135.8 L560.7 135.5 L561.3 135.1 L561.9 134.9 L562.5 134.9 L563.1 134.8 L563.7 134.7 L564.3 134.9 L564.9 134.9 L565.5 134.5 L566.1 134.4 L566.7 134.4 L567.0 134.6 L567.3 134.8 L567.9 134.8 L568.5 134.6 L569.1 134.5 L569.7 134.6 L570.3 134.7 L570.9 134.8 L571.5 134.5 L572.1 134.0 L572.7 134.2 L573.3 134.8 L573.9 135.1 L574.0 135.0 L574.5 134.6 L575.1 134.5 L575.7 135.0 L576.3 135.2 L576.9 134.7 L577.5 134.1 L578.1 134.0 L578.7 134.6 L579.3 135.1 L579.9 134.9 L580.0 134.7 L580.5 134.4 L581.1 134.3 L581.7 134.5 L582.3 134.4 L582.9 134.5 L583.5 135.0 L584.0 135.2 L584.1 135.2 L584.7 135.1 L585.3 134.8 L585.9 134.9 L586.5 135.1 L587.1 135.1 L587.7 134.9 L588.0 135.0 L588.3 135.0 L588.9 134.7 L589.5 134.3 L590.1 134.2 L590.7 134.3 L591.3 134.5 L591.9 134.2 L592.5 133.4 L593.0 133.4 L593.1 133.7 L593.7 133.6 L594.3 133.8 L594.9 134.0 L595.5 133.8 L596.1 133.4 L596.7 133.5 L597.3 134.0 L597.9 134.0 L598.5 133.7 L599.1 133.8 L599.7 134.3 L600.0 134.3 L600.3 134.2 L600.9 134.2 L601.5 133.9 L602.1 133.2 L602.7 133.1 L603.3 133.0 L603.9 132.3 L604.0 132.0 L604.5 132.0 L605.1 132.0 L605.7 131.3 L606.3 130.6 L606.9 130.6 L607.0 130.6 L607.5 130.7 L608.1 131.4 L608.7 131.7 L609.3 131.7 L609.9 131.9 L610.0 132.0 L610.5 131.9 L611.1 132.1 L611.7 133.2 L612.3 133.6 L612.9 133.4 L613.5 133.3 L614.0 133.5 L614.1 133.9 L614.7 133.6 L615.3 132.9 L615.9 132.3 L616.5 132.0 L617.0 131.5 L617.1 131.6 L617.7 131.8 L618.3 131.8 L618.9 131.7 L619.5 132.0 L620.0 132.4 L620.1 132.4 L620.7 132.1 L621.3 132.1 L621.9 132.0 L622.5 132.1 L623.1 132.4 L623.7 132.2 L624.0 132.0 L624.3 132.1 L624.9 132.5 L625.5 132.7 L626.1 132.3 L626.7 132.1 L627.3 131.8 L627.5 131.7" fill="none" stroke="#6b5a45" stroke-width="1.0" stroke-linejoin="round" stroke-linecap="round" />
<path d="M446.7 131.5 L447.3 131.6 L447.9 131.5 L448.5 131.2 L449.1 131.0 L449.7 130.7 L449.7 130.7 L450.3 130.2 L450.9 129.1 L451.5 128.0 L452.1 126.8 L452.1 126.8 L452.7 125.5 L453.3 124.1 L453.9 123.4 L454.0 123.4 L454.5 123.9 L455.1 125.0 L455.6 126.0 L455.7 126.1 L456.3 127.1 L456.9 128.0 L457.5 128.8 L458.0 129.1 L458.1 129.2 L458.7 129.0 L459.3 128.7 L459.9 128.3 L460.3 128.0 L460.5 127.8 L461.1 126.8 L461.7 125.6 L462.3 124.9 L462.7 124.7 L462.9 124.6 L463.5 124.9 L464.1 125.5 L464.6 126.0 L464.7 126.0 L465.3 126.8 L465.9 127.8 L466.5 128.9 L467.0 129.6 L467.1 129.7 L467.7 130.4 L468.3 131.0 L468.9 131.6 L469.5 132.1 L470.1 132.6 L470.1 132.7 L470.7 133.2 L471.3 133.7 L471.9 134.1 L472.5 134.5 L473.1 134.8 L473.7 134.9 L474.0 135.0 L474.3 135.0 L474.9 135.0 L475.5 134.8 L476.1 134.6 L476.7 134.4 L477.2 134.2 L477.3 134.3 L477.9 133.9 L478.5 133.2 L479.1 132.2 L479.7 131.1 L479.9 130.6 L480.3 129.6 L480.9 126.9 L481.3 124.4 L481.5 122.2" fill="none" stroke="#505050" stroke-width="0.75" stroke-linejoin="round" stroke-linecap="round" />
<path d="M486.9 126.1 L487.0 126.9 L487.5 130.1 L488.1 132.5 L488.2 132.5 L488.7 132.7 L489.3 133.0 L489.9 133.1 L490.5 133.1 L490.5 133.2 L491.1 133.5 L491.7 133.7 L492.3 133.7 L492.5 133.8 L492.9 134.3 L493.5 135.0 L494.1 135.5 L494.7 135.8 L495.0 136.0 L495.3 136.2 L495.9 136.3 L496.5 136.4 L497.1 137.0 L497.7 137.3 L498.3 137.0 L498.9 137.0 L498.9 137.1 L499.5 136.8 L500.1 135.9 L500.7 134.5 L501.0 134.1 L501.3 133.5 L501.9 131.2 L502.5 128.8 L503.0 127.4 L503.1 127.4 L503.7 126.4 L504.3 125.7 L504.4 125.6 L504.9 125.8 L505.5 126.8 L506.0 127.3 L506.1 127.1 L506.7 127.9 L507.3 128.7 L507.8 129.7 L507.9 130.0 L508.5 131.1 L509.1 132.8 L509.5 134.2 L509.7 134.8 L510.3 136.4 L510.6 136.5 L510.9 136.3 L511.5 136.5 L512.1 136.8 L512.7 136.7 L513.3 136.6 L513.9 136.5 L514.5 136.4 L515.0 136.6 L515.1 136.8 L515.7 136.6 L516.3 136.3 L516.9 136.4 L517.5 136.7 L518.1 136.7 L518.7 136.5 L519.3 136.5 L519.9 136.4 L520.0 136.2 L520.5 136.3 L521.1 136.6 L521.7 136.7 L522.3 136.8 L522.9 137.0 L523.5 137.0 L524.1 137.1 L524.7 137.3 L525.3 137.1 L525.9 136.9 L526.5 137.0 L527.0 137.0 L527.1 136.8 L527.7 136.8 L528.3 136.7 L528.9 136.5 L529.5 136.6 L530.1 136.7 L530.7 136.5 L531.3 136.4 L531.9 136.5 L532.5 136.6 L533.1 136.5 L533.7 136.4 L534.3 136.4 L534.9 136.3 L535.0 136.5 L535.5 136.6 L536.1 136.4 L536.7 136.4 L537.3 136.5 L537.9 136.4 L538.5 136.3 L539.1 136.5 L539.7 136.4 L540.3 135.9 L540.9 135.9 L541.5 135.9 L542.1 135.9 L542.7 135.9 L543.0 136.0 L543.3 136.1 L543.9 136.0 L544.5 136.0 L545.1 136.0 L545.7 135.8 L546.3 135.9 L546.9 136.1 L547.5 135.8 L548.1 135.5 L548.7 135.3 L549.3 135.3 L549.9 135.4 L550.0 135.5 L550.5 135.3 L551.1 135.3 L551.7 135.5 L552.3 135.4 L552.9 135.2 L553.5 135.1 L554.1 135.0 L554.7 135.3 L555.3 135.6 L555.9 135.3 L556.5 135.1 L557.1 135.1 L557.7 135.2 L558.0 135.3 L558.3 135.5 L558.9 135.5 L559.5 135.5 L560.1 135.4 L560.7 135.2 L561.3 134.9 L561.9 134.7 L562.5 134.7 L563.1 134.7 L563.7 134.4 L564.3 134.3 L564.9 134.5 L565.5 134.5 L566.1 134.4 L566.7 134.4 L567.0 134.5 L567.3 134.4 L567.9 134.2 L568.5 134.3 L569.1 134.5 L569.7 134.6 L570.3 134.4 L570.9 134.4 L571.5 134.4 L572.1 134.6 L572.7 134.7 L573.3 134.6 L573.9 134.8 L574.0 134.8 L574.5 134.7 L575.1 134.5 L575.7 134.2 L576.3 133.9 L576.9 133.9 L577.5 134.1 L578.1 134.1 L578.7 134.1 L579.3 133.9 L579.9 133.8 L580.0 133.9 L580.5 133.9 L581.1 133.9 L581.7 134.1 L582.3 134.1 L582.9 134.1 L583.5 134.4 L584.0 134.8 L584.1 135.0 L584.7 135.0 L585.3 134.9 L585.9 134.9 L586.5 135.1 L587.1 135.2 L587.7 135.2 L588.0 135.4 L588.3 135.3 L588.9 135.1 L589.5 135.1 L590.1 134.9 L590.7 134.6 L591.3 134.2 L591.9 134.0 L592.5 133.9 L593.0 133.8 L593.1 133.7 L593.7 133.8 L594.3 133.7 L594.9 133.6 L595.5 133.5 L596.1 133.7 L596.7 133.8 L597.3 133.8 L597.9 134.0 L598.5 134.2 L599.1 134.0 L599.7 133.7 L600.0 133.9 L600.3 134.1 L600.9 133.9 L601.5 133.5 L602.1 133.2 L602.7 133.1 L603.3 132.9 L603.9 132.5 L604.0 132.3 L604.5 132.1 L605.1 131.7 L605.7 131.1 L606.3 130.4 L606.9 130.3 L607.0 130.6 L607.5 130.4 L608.1 130.5 L608.7 131.0 L609.3 131.5 L609.9 132.2 L610.0 132.3 L610.5 132.1 L611.1 132.1 L611.7 132.7 L612.3 133.1 L612.9 133.2 L613.5 133.2 L614.0 132.9 L614.1 132.8 L614.7 132.5 L615.3 132.5 L615.9 132.5 L616.5 132.5 L617.0 132.5 L617.1 132.3 L617.7 132.0 L618.3 132.2 L618.9 132.2 L619.5 131.9 L620.0 131.6 L620.1 131.8 L620.7 132.0 L621.3 131.8 L621.9 131.9 L622.5 132.2 L623.1 132.2 L623.7 132.1 L624.0 132.1 L624.3 132.2 L624.9 132.3 L625.5 132.4 L626.1 132.5 L626.7 132.2 L627.3 131.9 L627.5 131.9" fill="none" stroke="#505050" stroke-width="0.75" stroke-linejoin="round" stroke-linecap="round" />
<path d="M481.5 122.2 L481.9 115.0 L482.1 109.4 L482.7 83.3 L483.0 70.0 L483.3 56.1 L483.9 26.4 L484.4 14.9 L484.5 16.0 L485.1 50.0 L485.4 70.0 L485.7 89.2 L486.2 115.1 L486.3 117.2 L486.9 126.1" fill="none" stroke="#767676" stroke-width="1.25" stroke-linejoin="round" stroke-linecap="round" />
<circle cx="484.4" cy="15.0" r="0.55" fill="#ff4040"/>
<rect x="579.4" y="6.3" width="43.5" height="45.0" fill="#fff" stroke="#c8c8c8" stroke-width="0.6"/>
<line x1="582.6" y1="12.40" x2="598.6" y2="12.40" stroke="#f5474a" stroke-width="1.6"/>
<text x="600.40" y="14.90" font-size="7.25" font-family='"Liberation Serif", serif' text-anchor="start" fill="#222" >Red</text>
<line x1="582.6" y1="21.50" x2="598.6" y2="21.50" stroke="#2ea52f" stroke-width="1.6"/>
<text x="600.40" y="24.00" font-size="7.25" font-family='"Liberation Serif", serif' text-anchor="start" fill="#222" >Green</text>
<line x1="582.6" y1="30.30" x2="598.6" y2="30.30" stroke="#ffa135" stroke-width="1.6"/>
<text x="600.40" y="32.80" font-size="7.25" font-family='"Liberation Serif", serif' text-anchor="start" fill="#222" >Orange</text>
<line x1="582.6" y1="39.20" x2="598.6" y2="39.20" stroke="#7e6a4e" stroke-width="1.6"/>
<text x="600.40" y="41.70" font-size="7.25" font-family='"Liberation Serif", serif' text-anchor="start" fill="#222" >Brown</text>
<line x1="582.6" y1="48.00" x2="598.6" y2="48.00" stroke="#858585" stroke-width="1.0"/>
<text x="600.40" y="50.50" font-size="7.25" font-family='"Liberation Serif", serif' text-anchor="start" fill="#222" >Grey</text>
<line x1="508.3" y1="28.9" x2="489.5" y2="18.4" stroke="#111" stroke-width="0.8"/>
<path d="M485.7 15.9 L491.6 16.6 L489.2 20.6 Z" fill="#111"/>
<text x="510.2" y="36.6" font-size="15.4" font-family='"Liberation Serif", serif' text-anchor="start" fill="#000" >PS</text>
<text x="527.0" y="41.2" font-size="10.8" font-family='"Liberation Serif", serif' text-anchor="start" fill="#000" >4</text>
<text x="532.4" y="30.8" font-size="9.4" font-family='"Liberation Serif", serif' text-anchor="start" fill="#000" >3-</text>
<text x="537.2" y="177.5" font-size="11.65" font-family='"Liberation Serif", serif' text-anchor="middle" fill="#000" >Raman Shift (cm<tspan font-size="6.6" dy="-4.4">-1</tspan><tspan dy="4.4">)</tspan></text>
<text transform="translate(425.6,76.2) rotate(-90)" font-size="11.4" font-family='"Liberation Serif", serif' text-anchor="middle" fill="#000">Intensity (a.u.)</text>
<rect x="446.6" y="185.5" width="181.29999999999995" height="145.89999999999998" fill="none" stroke="#2a2a2a" stroke-width="0.9"/>
<line x1="444.3" y1="318.40" x2="446.6" y2="318.40" stroke="#2a2a2a" stroke-width="0.8"/>
<line x1="627.9" y1="318.40" x2="625.6" y2="318.40" stroke="#2a2a2a" stroke-width="0.8"/>
<text x="443.00" y="321.40" font-size="8.9" font-family='"Liberation Serif", serif' text-anchor="end" fill="#111" >0.0</text>
<line x1="445.20000000000005" y1="305.76" x2="446.6" y2="305.76" stroke="#2a2a2a" stroke-width="0.8"/>
<line x1="627.9" y1="305.76" x2="626.5" y2="305.76" stroke="#2a2a2a" stroke-width="0.8"/>
<line x1="444.3" y1="293.12" x2="446.6" y2="293.12" stroke="#2a2a2a" stroke-width="0.8"/>
<line x1="627.9" y1="293.12" x2="625.6" y2="293.12" stroke="#2a2a2a" stroke-width="0.8"/>
<text x="443.00" y="296.12" font-size="8.9" font-family='"Liberation Serif", serif' text-anchor="end" fill="#111" >0.2</text>
<line x1="445.20000000000005" y1="280.48" x2="446.6" y2="280.48" stroke="#2a2a2a" stroke-width="0.8"/>
<line x1="627.9" y1="280.48" x2="626.5" y2="280.48" stroke="#2a2a2a" stroke-width="0.8"/>
<line x1="444.3" y1="267.84" x2="446.6" y2="267.84" stroke="#2a2a2a" stroke-width="0.8"/>
<line x1="627.9" y1="267.84" x2="625.6" y2="267.84" stroke="#2a2a2a" stroke-width="0.8"/>
<text x="443.00" y="270.84" font-size="8.9" font-family='"Liberation Serif", serif' text-anchor="end" fill="#111" >0.4</text>
<line x1="445.20000000000005" y1="255.20" x2="446.6" y2="255.20" stroke="#2a2a2a" stroke-width="0.8"/>
<line x1="627.9" y1="255.20" x2="626.5" y2="255.20" stroke="#2a2a2a" stroke-width="0.8"/>
<line x1="444.3" y1="242.56" x2="446.6" y2="242.56" stroke="#2a2a2a" stroke-width="0.8"/>
<line x1="627.9" y1="242.56" x2="625.6" y2="242.56" stroke="#2a2a2a" stroke-width="0.8"/>
<text x="443.00" y="245.56" font-size="8.9" font-family='"Liberation Serif", serif' text-anchor="end" fill="#111" >0.6</text>
<line x1="445.20000000000005" y1="229.92" x2="446.6" y2="229.92" stroke="#2a2a2a" stroke-width="0.8"/>
<line x1="627.9" y1="229.92" x2="626.5" y2="229.92" stroke="#2a2a2a" stroke-width="0.8"/>
<line x1="444.3" y1="217.28" x2="446.6" y2="217.28" stroke="#2a2a2a" stroke-width="0.8"/>
<line x1="627.9" y1="217.28" x2="625.6" y2="217.28" stroke="#2a2a2a" stroke-width="0.8"/>
<text x="443.00" y="220.28" font-size="8.9" font-family='"Liberation Serif", serif' text-anchor="end" fill="#111" >0.8</text>
<line x1="445.20000000000005" y1="204.64" x2="446.6" y2="204.64" stroke="#2a2a2a" stroke-width="0.8"/>
<line x1="627.9" y1="204.64" x2="626.5" y2="204.64" stroke="#2a2a2a" stroke-width="0.8"/>
<line x1="444.3" y1="192.00" x2="446.6" y2="192.00" stroke="#2a2a2a" stroke-width="0.8"/>
<line x1="627.9" y1="192.00" x2="625.6" y2="192.00" stroke="#2a2a2a" stroke-width="0.8"/>
<text x="443.00" y="195.00" font-size="8.9" font-family='"Liberation Serif", serif' text-anchor="end" fill="#111" >1.0</text>
<line x1="460.03" y1="331.4" x2="460.03" y2="332.9" stroke="#2a2a2a" stroke-width="0.8"/>
<line x1="460.03" y1="185.5" x2="460.03" y2="187.0" stroke="#2a2a2a" stroke-width="0.8"/>
<line x1="493.60" y1="331.4" x2="493.60" y2="334.0" stroke="#2a2a2a" stroke-width="0.8"/>
<line x1="493.60" y1="185.5" x2="493.60" y2="188.1" stroke="#2a2a2a" stroke-width="0.8"/>
<text x="493.60" y="343.90" font-size="8.9" font-family='"Liberation Serif", serif' text-anchor="middle" fill="#111" >500</text>
<line x1="527.18" y1="331.4" x2="527.18" y2="332.9" stroke="#2a2a2a" stroke-width="0.8"/>
<line x1="527.18" y1="185.5" x2="527.18" y2="187.0" stroke="#2a2a2a" stroke-width="0.8"/>
<line x1="560.75" y1="331.4" x2="560.75" y2="334.0" stroke="#2a2a2a" stroke-width="0.8"/>
<line x1="560.75" y1="185.5" x2="560.75" y2="188.1" stroke="#2a2a2a" stroke-width="0.8"/>
<text x="560.75" y="343.90" font-size="8.9" font-family='"Liberation Serif", serif' text-anchor="middle" fill="#111" >1000</text>
<line x1="594.33" y1="331.4" x2="594.33" y2="332.9" stroke="#2a2a2a" stroke-width="0.8"/>
<line x1="594.33" y1="185.5" x2="594.33" y2="187.0" stroke="#2a2a2a" stroke-width="0.8"/>
<line x1="627.90" y1="331.4" x2="627.90" y2="334.0" stroke="#2a2a2a" stroke-width="0.8"/>
<line x1="627.90" y1="185.5" x2="627.90" y2="188.1" stroke="#2a2a2a" stroke-width="0.8"/>
<text x="627.90" y="343.90" font-size="8.9" font-family='"Liberation Serif", serif' text-anchor="middle" fill="#111" >1500</text>
<path d="M446.6 314.3 L447.2 314.2 L447.8 314.0 L448.4 313.6 L449.0 313.2 L449.6 312.8 L449.7 312.6 L450.2 311.8 L450.8 310.5 L451.4 308.7 L452.0 307.0 L452.1 306.7 L452.6 305.2 L453.2 303.6 L453.6 303.3 L453.8 303.3 L454.4 303.8 L454.8 304.3 L455.0 304.6 L455.6 305.9 L456.2 307.5 L456.8 308.4 L456.8 308.4 L457.4 308.8 L458.0 309.1 L458.3 309.1 L458.6 309.1 L459.2 308.6 L459.8 307.7 L460.4 306.8 L460.7 306.4 L461.0 306.0 L461.6 305.0 L462.2 304.1 L462.8 303.7 L463.0 303.6 L463.4 303.7 L464.0 304.2 L464.6 304.8 L465.0 305.2 L465.2 305.5 L465.8 306.8 L466.4 308.5 L467.0 310.0 L467.4 310.7 L467.6 311.0 L468.2 311.8 L468.8 312.6 L469.4 313.2 L470.0 313.8 L470.6 314.2 L470.9 314.5 L471.2 314.8 L471.8 315.3 L472.4 315.7 L473.0 316.1 L473.6 316.5 L474.2 316.7 L474.8 316.7 L474.8 316.7 L475.4 316.7 L476.0 316.7 L476.6 316.6 L477.2 316.6 L477.8 316.5 L478.0 316.5 L478.4 316.4 L479.0 315.8 L479.6 315.0 L480.2 314.0 L480.3 313.9 L480.8 312.3 L481.4 308.3 L481.5 307.3" fill="none" stroke="#f5474a" stroke-width="1.0" stroke-linejoin="round" stroke-linecap="round" />
<path d="M486.8 307.9 L487.4 313.4 L487.4 313.3 L488.0 314.1 L488.6 315.2 L489.2 316.1 L489.7 316.2 L489.8 316.0 L490.4 315.9 L491.0 316.2 L491.6 316.7 L492.0 316.8 L492.2 316.6 L492.8 316.9 L493.4 317.2 L494.0 317.4 L494.6 317.8 L495.0 317.8 L495.2 317.8 L495.8 318.6 L496.4 319.1 L497.0 318.9 L497.4 319.0 L497.6 319.4 L498.2 319.3 L498.8 318.8 L499.4 318.1 L500.0 317.0 L500.0 317.0 L500.6 315.6 L501.2 313.6 L501.8 311.4 L502.4 309.8 L502.5 309.7 L503.0 308.3 L503.6 306.7 L504.2 306.0 L504.3 305.9 L504.8 306.1 L505.4 307.1 L506.0 308.3 L506.0 308.2 L506.6 309.0 L507.2 310.0 L507.8 311.3 L508.2 311.9 L508.4 311.9 L509.0 313.4 L509.6 315.1 L510.0 315.7 L510.2 315.9 L510.8 317.2 L511.4 318.4 L511.8 318.8 L512.0 318.8 L512.6 318.8 L513.2 318.6 L513.8 318.4 L514.4 318.6 L515.0 318.8 L515.6 318.7 L516.2 318.6 L516.8 318.9 L517.4 318.9 L518.0 318.4 L518.6 318.2 L519.2 318.2 L519.8 318.4 L520.0 318.5 L520.4 318.4 L521.0 318.4 L521.6 318.4 L522.2 318.5 L522.8 318.9 L523.4 318.8 L524.0 318.3 L524.6 318.3 L525.2 318.6 L525.8 318.6 L526.4 318.5 L527.0 318.4 L527.6 318.5 L528.2 318.7 L528.8 318.8 L529.4 318.7 L530.0 318.7 L530.0 318.5 L530.6 318.4 L531.2 318.7 L531.8 318.8 L532.4 318.8 L533.0 319.1 L533.6 319.0 L534.2 318.5 L534.8 318.6 L535.4 319.2 L536.0 319.2 L536.6 318.6 L537.2 318.3 L537.8 318.4 L538.4 318.4 L539.0 318.4 L539.6 318.5 L540.0 318.3 L540.2 318.5 L540.8 318.8 L541.4 318.7 L542.0 318.8 L542.6 319.0 L543.2 319.0 L543.8 318.8 L544.4 318.6 L545.0 318.7 L545.6 319.1 L546.2 318.9 L546.8 318.5 L547.4 318.6 L548.0 318.9 L548.6 319.1 L549.2 319.3 L549.8 319.1 L550.0 318.6 L550.4 318.3 L551.0 318.3 L551.6 318.5 L552.2 319.0 L552.8 319.2 L553.4 318.6 L554.0 317.9 L554.6 318.1 L555.2 318.3 L555.8 318.1 L556.4 318.1 L557.0 318.3 L557.6 318.5 L558.2 318.3 L558.8 318.3 L559.4 318.4 L560.0 318.3 L560.0 318.0 L560.6 317.9 L561.2 318.1 L561.8 318.2 L562.4 318.0 L563.0 318.1 L563.6 318.4 L564.2 318.2 L564.8 318.0 L565.4 318.0 L566.0 318.3 L566.0 318.5 L566.6 317.9 L567.2 317.2 L567.8 317.1 L568.4 317.4 L568.5 317.6 L569.0 316.6 L569.6 314.9 L570.2 313.6 L570.3 313.5 L570.8 314.6 L571.4 316.4 L571.5 316.4 L572.0 317.4 L572.6 318.0 L573.2 317.9 L573.8 318.0 L574.0 318.2 L574.4 318.0 L575.0 317.8 L575.6 318.3 L576.2 318.4 L576.8 318.4 L577.4 318.7 L578.0 318.3 L578.6 317.9 L579.2 317.8 L579.8 317.6 L580.0 317.6 L580.4 317.8 L581.0 317.7 L581.6 317.8 L582.2 318.2 L582.8 318.2 L583.4 318.0 L584.0 317.8 L584.6 317.8 L585.2 317.8 L585.8 317.8 L586.4 317.6 L587.0 317.2 L587.6 316.8 L588.2 316.7 L588.8 316.8 L589.4 317.2 L590.0 317.1 L590.0 316.8 L590.6 316.6 L591.2 316.4 L591.8 316.0 L592.4 315.8 L593.0 315.7 L593.6 315.4 L594.2 315.4 L594.8 315.3 L595.4 315.0 L596.0 314.6 L596.6 314.7 L597.0 315.0 L597.2 315.0 L597.8 315.1 L598.4 315.0 L599.0 314.5 L599.6 314.4 L600.2 314.8 L600.8 314.9 L601.4 314.3 L602.0 314.3 L602.6 314.5 L603.2 314.7 L603.8 314.7 L604.4 314.4 L605.0 314.1 L605.0 314.2 L605.6 314.5 L606.2 314.1 L606.8 313.7 L607.4 314.2 L608.0 314.8 L608.6 315.1 L609.2 315.0 L609.8 315.0 L610.4 315.4 L611.0 315.6 L611.6 315.5 L612.0 315.5 L612.2 315.4 L612.8 315.2 L613.4 315.1 L614.0 314.9 L614.6 314.8 L615.2 314.8 L615.8 314.6 L616.4 314.7 L617.0 314.7 L617.6 314.2 L618.2 313.8 L618.8 313.9 L619.4 314.1 L620.0 314.2 L620.0 314.2 L620.6 314.1 L621.2 313.9 L621.8 313.7 L622.4 313.7 L623.0 314.0 L623.6 314.1 L624.2 314.1 L624.8 314.4 L625.4 314.1 L626.0 313.6 L626.6 313.7 L627.2 314.1 L627.5 314.5" fill="none" stroke="#f5474a" stroke-width="1.0" stroke-linejoin="round" stroke-linecap="round" />
<path d="M446.6 314.7 L447.2 314.6 L447.8 314.3 L448.4 314.0 L449.0 313.7 L449.6 313.3 L449.7 313.2 L450.2 312.4 L450.8 310.9 L451.4 309.1 L452.0 307.5 L452.1 307.3 L452.6 305.8 L453.2 304.1 L453.6 303.6 L453.8 303.7 L454.4 304.3 L454.8 304.8 L455.0 305.1 L455.6 306.4 L456.2 307.9 L456.8 308.9 L456.8 308.9 L457.4 309.3 L458.0 309.6 L458.3 309.6 L458.6 309.5 L459.2 309.0 L459.8 308.1 L460.4 307.2 L460.7 306.8 L461.0 306.3 L461.6 305.3 L462.2 304.3 L462.8 303.8 L463.0 303.9 L463.4 304.0 L464.0 304.4 L464.6 305.2 L465.0 305.7 L465.2 305.9 L465.8 307.1 L466.4 308.7 L467.0 310.2 L467.4 311.0 L467.6 311.4 L468.2 312.2 L468.8 312.9 L469.4 313.6 L470.0 314.2 L470.6 314.8 L470.9 315.1 L471.2 315.3 L471.8 315.6 L472.4 316.0 L473.0 316.4 L473.6 316.8 L474.2 317.1 L474.8 317.2 L474.8 317.2 L475.4 317.2 L476.0 317.2 L476.6 317.1 L477.2 317.0 L477.8 316.8 L478.0 316.8 L478.4 316.6 L479.0 316.1 L479.6 315.3 L480.2 314.2 L480.3 314.1 L480.8 312.7 L481.4 308.6 L481.5 307.4" fill="none" stroke="#ffa135" stroke-width="1.0" stroke-linejoin="round" stroke-linecap="round" />
<path d="M486.8 308.0 L487.4 313.7 L487.4 313.6 L488.0 314.4 L488.6 315.7 L489.2 316.6 L489.7 316.6 L489.8 316.2 L490.4 316.0 L491.0 316.0 L491.6 316.2 L492.0 316.5 L492.2 316.7 L492.8 316.9 L493.4 317.0 L494.0 317.3 L494.6 317.9 L495.0 318.3 L495.2 318.3 L495.8 318.8 L496.4 319.4 L497.0 319.2 L497.4 318.9 L497.6 319.2 L498.2 319.6 L498.8 319.3 L499.4 318.1 L500.0 316.9 L500.0 317.0 L500.6 315.9 L501.2 313.9 L501.8 312.1 L502.4 310.4 L502.5 309.9 L503.0 308.6 L503.6 307.4 L504.2 306.6 L504.3 306.3 L504.8 306.7 L505.4 307.5 L506.0 308.4 L506.0 308.5 L506.6 309.2 L507.2 309.6 L507.8 310.2 L508.2 311.3 L508.4 312.3 L509.0 314.0 L509.6 315.3 L510.0 315.9 L510.2 316.0 L510.8 317.3 L511.4 318.3 L511.8 318.2 L512.0 318.2 L512.6 318.5 L513.2 318.5 L513.8 318.4 L514.4 318.6 L515.0 318.8 L515.6 319.0 L516.2 318.8 L516.8 318.7 L517.4 318.7 L518.0 318.7 L518.6 318.5 L519.2 318.7 L519.8 319.0 L520.0 319.2 L520.4 319.0 L521.0 318.5 L521.6 318.5 L522.2 318.7 L522.8 318.8 L523.4 318.7 L524.0 318.8 L524.6 319.0 L525.2 318.9 L525.8 318.8 L526.4 319.2 L527.0 319.2 L527.6 319.0 L528.2 318.9 L528.8 318.9 L529.4 319.1 L530.0 318.9 L530.0 318.6 L530.6 318.6 L531.2 318.7 L531.8 318.9 L532.4 319.0 L533.0 318.9 L533.6 318.4 L534.2 318.0 L534.8 318.3 L535.4 318.5 L536.0 318.9 L536.6 319.3 L537.2 319.1 L537.8 318.9 L538.4 318.9 L539.0 318.9 L539.6 318.8 L540.0 318.7 L540.2 318.8 L540.8 319.2 L541.4 319.3 L542.0 319.2 L542.6 319.0 L543.2 318.9 L543.8 319.0 L544.4 319.1 L545.0 319.2 L545.6 319.0 L546.2 318.7 L546.8 318.8 L547.4 319.1 L548.0 318.9 L548.6 318.9 L549.2 319.3 L549.8 319.3 L550.0 319.0 L550.4 319.0 L551.0 319.4 L551.6 319.2 L552.2 318.9 L552.8 318.6 L553.4 318.2 L554.0 318.3 L554.6 318.7 L555.2 318.8 L555.8 318.5 L556.4 318.2 L557.0 318.1 L557.6 318.2 L558.2 318.4 L558.8 318.8 L559.4 319.4 L560.0 319.5 L560.0 319.1 L560.6 318.4 L561.2 317.8 L561.8 317.5 L562.4 317.9 L563.0 318.5 L563.6 318.7 L564.2 318.7 L564.8 318.6 L565.4 318.5 L566.0 318.6 L566.0 318.5 L566.6 318.0 L567.2 317.5 L567.8 317.5 L568.4 317.7 L568.5 317.8 L569.0 315.8 L569.6 311.8 L570.2 309.5 L570.3 309.6 L570.8 312.1 L571.4 316.6 L571.5 316.9 L572.0 317.5 L572.6 318.2 L573.2 318.5 L573.8 318.5 L574.0 318.5 L574.4 318.6 L575.0 318.7 L575.6 318.6 L576.2 318.5 L576.8 318.2 L577.4 318.1 L578.0 318.2 L578.6 318.2 L579.2 318.3 L579.8 318.1 L580.0 317.6 L580.4 317.6 L581.0 317.7 L581.6 317.5 L582.2 317.6 L582.8 317.9 L583.4 317.9 L584.0 317.7 L584.6 317.7 L585.2 317.5 L585.8 317.4 L586.4 317.5 L587.0 317.6 L587.6 317.4 L588.2 317.0 L588.8 316.9 L589.4 317.0 L590.0 317.1 L590.0 316.9 L590.6 316.7 L591.2 317.1 L591.8 317.3 L592.4 316.7 L593.0 316.4 L593.6 315.9 L594.2 315.4 L594.8 315.4 L595.4 315.6 L596.0 315.6 L596.6 315.2 L597.0 314.9 L597.2 314.9 L597.8 314.8 L598.4 314.6 L599.0 314.2 L599.6 313.9 L600.2 313.9 L600.8 314.3 L601.4 314.3 L602.0 313.9 L602.6 313.6 L603.2 313.6 L603.8 313.7 L604.4 313.7 L605.0 313.5 L605.0 313.1 L605.6 313.1 L606.2 313.2 L606.8 313.3 L607.4 313.2 L608.0 312.9 L608.6 312.7 L609.2 312.8 L609.8 313.0 L610.4 313.5 L611.0 313.6 L611.6 313.5 L612.0 313.9 L612.2 314.1 L612.8 314.1 L613.4 314.2 L614.0 313.9 L614.6 313.2 L615.2 313.0 L615.8 312.8 L616.4 312.5 L617.0 312.1 L617.6 311.5 L618.2 311.1 L618.8 310.9 L619.4 310.8 L620.0 310.8 L620.0 310.6 L620.6 310.7 L621.2 311.1 L621.8 311.2 L622.4 311.0 L623.0 310.6 L623.6 310.7 L624.2 311.0 L624.8 311.1 L625.4 311.3 L626.0 311.5 L626.6 311.5 L627.2 311.5 L627.5 311.6" fill="none" stroke="#ffa135" stroke-width="1.0" stroke-linejoin="round" stroke-linecap="round" />
<path d="M446.6 313.4 L447.2 313.4 L447.8 313.2 L448.4 312.9 L449.0 312.5 L449.6 312.0 L449.7 312.0 L450.2 311.3 L450.8 309.8 L451.4 308.0 L452.0 306.3 L452.1 306.1 L452.6 304.6 L453.2 302.9 L453.6 302.4 L453.8 302.6 L454.4 303.1 L454.8 303.5 L455.0 303.8 L455.6 305.3 L456.2 306.9 L456.8 307.6 L456.8 307.5 L457.4 307.7 L458.0 307.8 L458.3 307.9 L458.6 307.6 L459.2 307.0 L459.8 306.3 L460.4 305.5 L460.7 305.0 L461.0 304.6 L461.6 303.7 L462.2 302.8 L462.8 302.2 L463.0 302.2 L463.4 302.4 L464.0 302.9 L464.6 303.5 L465.0 303.9 L465.2 304.3 L465.8 305.5 L466.4 307.1 L467.0 308.6 L467.4 309.3 L467.6 309.7 L468.2 310.7 L468.8 311.5 L469.4 312.3 L470.0 312.9 L470.6 313.4 L470.9 313.7 L471.2 313.9 L471.8 314.5 L472.4 315.0 L473.0 315.4 L473.6 315.7 L474.2 316.0 L474.8 316.0 L474.8 316.0 L475.4 315.9 L476.0 315.9 L476.6 315.9 L477.2 315.8 L477.8 315.6 L478.0 315.5 L478.4 315.4 L479.0 314.9 L479.6 314.2 L480.2 313.2 L480.3 313.0 L480.8 311.6 L481.4 307.8 L481.5 306.8" fill="none" stroke="#2ea52f" stroke-width="1.1" stroke-linejoin="round" stroke-linecap="round" />
<path d="M486.8 307.4 L487.4 313.1 L487.4 313.2 L488.0 314.3 L488.6 314.6 L489.2 315.3 L489.7 315.4 L489.8 314.9 L490.4 315.0 L491.0 315.7 L491.6 316.3 L492.0 316.4 L492.2 316.6 L492.8 316.9 L493.4 317.1 L494.0 317.3 L494.6 317.5 L495.0 317.8 L495.2 318.2 L495.8 318.3 L496.4 318.3 L497.0 318.7 L497.4 318.7 L497.6 318.6 L498.2 318.5 L498.8 317.8 L499.4 316.7 L500.0 316.3 L500.0 316.6 L500.6 315.1 L501.2 313.2 L501.8 311.3 L502.4 309.3 L502.5 308.7 L503.0 307.5 L503.6 306.5 L504.2 305.8 L504.3 305.4 L504.8 305.7 L505.4 307.2 L506.0 308.4 L506.0 308.2 L506.6 308.7 L507.2 309.5 L507.8 310.5 L508.2 311.0 L508.4 311.1 L509.0 312.5 L509.6 314.0 L510.0 314.7 L510.2 315.3 L510.8 316.7 L511.4 317.7 L511.8 317.9 L512.0 317.7 L512.6 317.9 L513.2 318.2 L513.8 318.3 L514.4 318.3 L515.0 317.8 L515.6 317.7 L516.2 318.1 L516.8 318.6 L517.4 318.8 L518.0 318.5 L518.6 318.1 L519.2 318.2 L519.8 317.9 L520.0 318.1 L520.4 318.7 L521.0 318.7 L521.6 318.5 L522.2 318.7 L522.8 318.8 L523.4 318.7 L524.0 318.5 L524.6 318.0 L525.2 318.0 L525.8 318.6 L526.4 318.9 L527.0 318.6 L527.6 318.4 L528.2 318.3 L528.8 318.3 L529.4 318.7 L530.0 318.7 L530.0 318.6 L530.6 318.6 L531.2 318.7 L531.8 318.7 L532.4 318.4 L533.0 318.2 L533.6 318.6 L534.2 318.9 L534.8 318.5 L535.4 318.4 L536.0 318.7 L536.6 318.8 L537.2 318.4 L537.8 318.1 L538.4 318.2 L539.0 318.1 L539.6 318.1 L540.0 318.4 L540.2 318.5 L540.8 319.0 L541.4 319.4 L542.0 319.1 L542.6 318.7 L543.2 318.3 L543.8 318.2 L544.4 318.2 L545.0 318.2 L545.6 318.2 L546.2 318.4 L546.8 318.5 L547.4 318.3 L548.0 318.1 L548.6 318.3 L549.2 318.7 L549.8 319.0 L550.0 319.2 L550.4 319.1 L551.0 318.9 L551.6 318.7 L552.2 318.8 L552.8 319.3 L553.4 319.3 L554.0 318.7 L554.6 318.5 L555.2 318.5 L555.8 318.2 L556.4 318.4 L557.0 318.8 L557.6 318.7 L558.2 318.7 L558.8 318.7 L559.4 318.5 L560.0 318.5 L560.0 318.4 L560.6 318.4 L561.2 318.4 L561.8 318.6 L562.4 318.8 L563.0 318.8 L563.6 318.7 L564.2 318.4 L564.8 318.2 L565.4 317.9 L566.0 317.7 L566.0 318.2 L566.6 318.1 L567.2 317.8 L567.8 317.7 L568.4 317.2 L568.5 317.2 L569.0 316.6 L569.6 314.8 L570.2 313.7 L570.3 314.0 L570.8 315.1 L571.4 316.5 L571.5 316.3 L572.0 316.7 L572.6 317.5 L573.2 318.3 L573.8 318.4 L574.0 318.2 L574.4 318.5 L575.0 318.9 L575.6 318.6 L576.2 318.5 L576.8 318.8 L577.4 318.7 L578.0 318.3 L578.6 317.9 L579.2 317.6 L579.8 317.6 L580.0 317.8 L580.4 318.0 L581.0 318.1 L581.6 318.2 L582.2 318.0 L582.8 317.8 L583.4 317.3 L584.0 317.0 L584.6 317.2 L585.2 317.2 L585.8 317.2 L586.4 317.2 L587.0 316.9 L587.6 316.9 L588.2 317.1 L588.8 317.1 L589.4 317.0 L590.0 317.0 L590.0 316.9 L590.6 316.6 L591.2 316.9 L591.8 317.0 L592.4 316.7 L593.0 316.7 L593.6 316.8 L594.2 316.4 L594.8 316.0 L595.4 316.0 L596.0 315.7 L596.6 315.1 L597.0 315.1 L597.2 315.2 L597.8 314.9 L598.4 314.7 L599.0 314.6 L599.6 314.0 L600.2 313.6 L600.8 313.8 L601.4 313.8 L602.0 313.4 L602.6 312.9 L603.2 313.0 L603.8 313.1 L604.4 312.8 L605.0 312.3 L605.0 312.3 L605.6 312.1 L606.2 311.8 L606.8 312.0 L607.4 312.4 L608.0 312.2 L608.6 312.1 L609.2 312.4 L609.8 312.6 L610.4 312.4 L611.0 312.0 L611.6 312.1 L612.0 312.2 L612.2 311.9 L612.8 311.7 L613.4 312.0 L614.0 311.8 L614.6 310.9 L615.2 310.1 L615.8 309.9 L616.4 310.0 L617.0 310.1 L617.6 310.1 L618.2 309.7 L618.8 309.5 L619.4 309.4 L620.0 309.3 L620.0 309.3 L620.6 309.7 L621.2 310.2 L621.8 309.9 L622.4 309.3 L623.0 309.1 L623.6 309.1 L624.2 309.0 L624.8 309.2 L625.4 309.5 L626.0 309.8 L626.6 309.7 L627.2 309.5 L627.5 309.6" fill="none" stroke="#2ea52f" stroke-width="1.1" stroke-linejoin="round" stroke-linecap="round" />
<path d="M446.6 313.4 L447.2 313.4 L447.8 313.3 L448.4 313.0 L449.0 312.6 L449.6 312.1 L449.7 312.0 L450.2 311.2 L450.8 309.6 L451.4 307.9 L452.0 306.4 L452.1 306.2 L452.6 304.7 L453.2 303.1 L453.6 302.6 L453.8 302.6 L454.4 303.2 L454.8 303.7 L455.0 304.0 L455.6 305.3 L456.2 306.8 L456.8 307.7 L456.8 307.7 L457.4 308.1 L458.0 308.4 L458.3 308.5 L458.6 308.4 L459.2 307.9 L459.8 307.1 L460.4 306.1 L460.7 305.7 L461.0 305.2 L461.6 304.2 L462.2 303.3 L462.8 302.8 L463.0 302.7 L463.4 302.9 L464.0 303.3 L464.6 303.9 L465.0 304.5 L465.2 304.8 L465.8 306.2 L466.4 307.8 L467.0 309.3 L467.4 310.0 L467.6 310.3 L468.2 311.2 L468.8 311.9 L469.4 312.5 L470.0 313.1 L470.6 313.7 L470.9 313.9 L471.2 314.1 L471.8 314.6 L472.4 315.0 L473.0 315.4 L473.6 315.7 L474.2 316.0 L474.8 316.1 L474.8 316.0 L475.4 316.0 L476.0 316.0 L476.6 316.0 L477.2 315.9 L477.8 315.7 L478.0 315.8 L478.4 315.7 L479.0 315.2 L479.6 314.3 L480.2 313.3 L480.3 313.1 L480.8 311.6 L481.4 307.8 L481.5 306.9" fill="none" stroke="#6b5a45" stroke-width="1.0" stroke-linejoin="round" stroke-linecap="round" />
<path d="M486.8 307.5 L487.4 313.1 L487.4 313.1 L488.0 314.4 L488.6 315.0 L489.2 315.2 L489.7 315.2 L489.8 315.3 L490.4 315.8 L491.0 316.4 L491.6 316.8 L492.0 316.7 L492.2 316.4 L492.8 316.5 L493.4 316.9 L494.0 317.5 L494.6 318.2 L495.0 318.2 L495.2 317.8 L495.8 318.2 L496.4 318.9 L497.0 319.1 L497.4 319.0 L497.6 319.1 L498.2 318.6 L498.8 317.9 L499.4 317.0 L500.0 316.2 L500.0 316.4 L500.6 315.0 L501.2 312.9 L501.8 311.0 L502.4 309.4 L502.5 309.2 L503.0 307.7 L503.6 306.0 L504.2 305.3 L504.3 305.4 L504.8 306.0 L505.4 307.2 L506.0 308.4 L506.0 308.7 L506.6 309.3 L507.2 309.8 L507.8 310.5 L508.2 311.1 L508.4 311.7 L509.0 313.0 L509.6 314.2 L510.0 315.3 L510.2 315.9 L510.8 317.2 L511.4 317.9 L511.8 317.7 L512.0 317.9 L512.6 318.5 L513.2 318.3 L513.8 317.9 L514.4 318.1 L515.0 318.0 L515.6 317.5 L516.2 317.3 L516.8 317.6 L517.4 318.1 L518.0 318.3 L518.6 318.3 L519.2 318.4 L519.8 318.2 L520.0 317.8 L520.4 317.9 L521.0 317.9 L521.6 317.9 L522.2 318.0 L522.8 318.2 L523.4 318.1 L524.0 317.9 L524.6 318.3 L525.2 318.7 L525.8 318.1 L526.4 317.9 L527.0 318.3 L527.6 318.6 L528.2 318.4 L528.8 318.3 L529.4 318.4 L530.0 318.2 L530.0 318.0 L530.6 318.1 L531.2 318.4 L531.8 318.7 L532.4 318.7 L533.0 318.6 L533.6 318.7 L534.2 318.7 L534.8 318.5 L535.4 318.0 L536.0 318.0 L536.6 318.3 L537.2 318.2 L537.8 318.2 L538.4 318.4 L539.0 318.3 L539.6 318.5 L540.0 318.5 L540.2 318.2 L540.8 318.7 L541.4 319.2 L542.0 318.8 L542.6 318.6 L543.2 318.9 L543.8 318.8 L544.4 318.4 L545.0 318.3 L545.6 318.4 L546.2 318.5 L546.8 318.6 L547.4 318.5 L548.0 318.3 L548.6 318.2 L549.2 318.1 L549.8 318.0 L550.0 318.2 L550.4 318.1 L551.0 318.2 L551.6 318.5 L552.2 318.3 L552.8 318.0 L553.4 318.3 L554.0 318.2 L554.6 318.3 L555.2 318.3 L555.8 318.3 L556.4 318.2 L557.0 318.1 L557.6 318.4 L558.2 318.4 L558.8 317.8 L559.4 317.9 L560.0 318.1 L560.0 317.7 L560.6 317.9 L561.2 318.4 L561.8 318.5 L562.4 318.5 L563.0 318.4 L563.6 318.1 L564.2 318.1 L564.8 318.2 L565.4 318.2 L566.0 318.0 L566.0 317.8 L566.6 317.8 L567.2 317.8 L567.8 317.4 L568.4 316.5 L568.5 316.5 L569.0 315.8 L569.6 314.2 L570.2 313.0 L570.3 313.0 L570.8 314.2 L571.4 316.3 L571.5 316.6 L572.0 317.2 L572.6 318.0 L573.2 318.5 L573.8 319.0 L574.0 318.8 L574.4 318.3 L575.0 317.7 L575.6 317.3 L576.2 317.6 L576.8 318.2 L577.4 318.2 L578.0 317.9 L578.6 318.0 L579.2 317.9 L579.8 317.5 L580.0 317.1 L580.4 317.2 L581.0 317.5 L581.6 317.6 L582.2 317.4 L582.8 317.2 L583.4 317.5 L584.0 317.6 L584.6 317.5 L585.2 317.6 L585.8 317.4 L586.4 316.9 L587.0 316.4 L587.6 316.5 L588.2 317.0 L588.8 317.0 L589.4 316.7 L590.0 316.4 L590.0 316.5 L590.6 316.4 L591.2 316.1 L591.8 316.2 L592.4 316.4 L593.0 316.0 L593.6 315.3 L594.2 314.9 L594.8 315.0 L595.4 315.2 L596.0 315.1 L596.6 314.8 L597.0 314.5 L597.2 314.3 L597.8 314.2 L598.4 314.4 L599.0 314.6 L599.6 314.4 L600.2 313.7 L600.8 313.4 L601.4 313.4 L602.0 313.0 L602.6 312.4 L603.2 312.4 L603.8 312.6 L604.4 312.7 L605.0 312.6 L605.0 312.9 L605.6 312.9 L606.2 312.6 L606.8 312.4 L607.4 312.4 L608.0 312.5 L608.6 312.6 L609.2 312.4 L609.8 312.3 L610.4 312.0 L611.0 311.7 L611.6 311.8 L612.0 312.2 L612.2 312.5 L612.8 312.5 L613.4 312.2 L614.0 312.1 L614.6 312.2 L615.2 311.8 L615.8 311.3 L616.4 311.1 L617.0 310.9 L617.6 310.7 L618.2 310.9 L618.8 310.9 L619.4 310.9 L620.0 311.0 L620.0 310.7 L620.6 310.5 L621.2 310.4 L621.8 310.5 L622.4 310.6 L623.0 310.9 L623.6 311.1 L624.2 311.1 L624.8 310.9 L625.4 310.6 L626.0 310.5 L626.6 310.6 L627.2 310.9 L627.5 311.2" fill="none" stroke="#6b5a45" stroke-width="1.0" stroke-linejoin="round" stroke-linecap="round" />
<path d="M446.6 313.4 L447.2 313.4 L447.8 313.2 L448.4 312.9 L449.0 312.5 L449.6 312.0 L449.7 312.0 L450.2 311.2 L450.8 309.7 L451.4 308.0 L452.0 306.4 L452.1 306.0 L452.6 304.5 L453.2 302.9 L453.6 302.4 L453.8 302.6 L454.4 303.1 L454.8 303.7 L455.0 304.0 L455.6 305.3 L456.2 306.7 L456.8 307.6 L456.8 307.7 L457.4 308.0 L458.0 308.3 L458.3 308.3 L458.6 308.3 L459.2 307.8 L459.8 306.9 L460.4 306.1 L460.7 305.7 L461.0 305.2 L461.6 304.3 L462.2 303.4 L462.8 302.8 L463.0 302.7 L463.4 302.8 L464.0 303.2 L464.6 303.9 L465.0 304.4 L465.2 304.7 L465.8 305.9 L466.4 307.6 L467.0 309.2 L467.4 309.9 L467.6 310.2 L468.2 311.1 L468.8 311.8 L469.4 312.4 L470.0 313.0 L470.6 313.6 L470.9 313.9 L471.2 314.1 L471.8 314.5 L472.4 314.9 L473.0 315.3 L473.6 315.6 L474.2 315.9 L474.8 315.9 L474.8 316.0 L475.4 316.0 L476.0 316.0 L476.6 315.9 L477.2 315.7 L477.8 315.5 L478.0 315.6 L478.4 315.5 L479.0 315.0 L479.6 314.2 L480.2 313.2 L480.3 313.0 L480.8 311.6 L481.4 307.8 L481.5 306.8" fill="none" stroke="#505050" stroke-width="0.75" stroke-linejoin="round" stroke-linecap="round" />
<path d="M486.8 307.4 L487.4 312.9 L487.4 312.9 L488.0 314.1 L488.6 314.9 L489.2 315.3 L489.7 315.4 L489.8 315.4 L490.4 315.7 L491.0 315.9 L491.6 316.1 L492.0 316.1 L492.2 315.9 L492.8 316.0 L493.4 316.4 L494.0 316.9 L494.6 317.5 L495.0 318.0 L495.2 318.3 L495.8 318.3 L496.4 318.4 L497.0 318.6 L497.4 318.8 L497.6 319.0 L498.2 318.7 L498.8 318.1 L499.4 317.1 L500.0 316.0 L500.0 316.1 L500.6 315.0 L501.2 313.2 L501.8 311.1 L502.4 309.1 L502.5 309.0 L503.0 307.9 L503.6 306.3 L504.2 305.4 L504.3 305.4 L504.8 305.8 L505.4 306.9 L506.0 308.2 L506.0 308.2 L506.6 308.6 L507.2 309.3 L507.8 310.3 L508.2 310.9 L508.4 311.2 L509.0 312.7 L509.6 314.2 L510.0 315.0 L510.2 315.3 L510.8 316.7 L511.4 317.7 L511.8 318.1 L512.0 318.2 L512.6 318.1 L513.2 318.1 L513.8 318.0 L514.4 317.9 L515.0 317.8 L515.6 317.9 L516.2 318.0 L516.8 318.0 L517.4 317.9 L518.0 318.2 L518.6 318.1 L519.2 318.1 L519.8 318.3 L520.0 318.3 L520.4 318.3 L521.0 318.4 L521.6 318.3 L522.2 318.3 L522.8 318.5 L523.4 318.2 L524.0 318.2 L524.6 318.3 L525.2 318.1 L525.8 318.2 L526.4 318.5 L527.0 318.6 L527.6 318.3 L528.2 318.3 L528.8 318.4 L529.4 318.3 L530.0 318.1 L530.0 318.3 L530.6 318.4 L531.2 318.5 L531.8 318.6 L532.4 318.6 L533.0 318.5 L533.6 318.3 L534.2 318.2 L534.8 318.3 L535.4 318.4 L536.0 318.3 L536.6 318.3 L537.2 318.4 L537.8 318.8 L538.4 318.9 L539.0 318.6 L539.6 318.4 L540.0 318.5 L540.2 318.6 L540.8 318.6 L541.4 318.4 L542.0 318.4 L542.6 318.3 L543.2 318.3 L543.8 318.3 L544.4 318.3 L545.0 318.4 L545.6 318.5 L546.2 318.5 L546.8 318.5 L547.4 318.4 L548.0 318.2 L548.6 318.2 L549.2 318.2 L549.8 318.2 L550.0 318.3 L550.4 318.2 L551.0 317.9 L551.6 317.9 L552.2 318.0 L552.8 318.1 L553.4 317.8 L554.0 317.6 L554.6 317.9 L555.2 318.1 L555.8 318.0 L556.4 318.0 L557.0 317.8 L557.6 317.7 L558.2 317.9 L558.8 318.1 L559.4 318.1 L560.0 318.1 L560.0 318.0 L560.6 317.9 L561.2 317.9 L561.8 318.1 L562.4 318.3 L563.0 318.1 L563.6 317.8 L564.2 317.6 L564.8 317.7 L565.4 317.8 L566.0 317.5 L566.0 317.3 L566.6 317.4 L567.2 317.4 L567.8 317.1 L568.4 316.5 L568.5 316.5 L569.0 315.8 L569.6 314.0 L570.2 313.1 L570.3 313.4 L570.8 314.4 L571.4 315.9 L571.5 315.9 L572.0 316.9 L572.6 317.7 L573.2 317.7 L573.8 317.7 L574.0 318.0 L574.4 318.2 L575.0 318.2 L575.6 318.0 L576.2 317.8 L576.8 317.9 L577.4 318.1 L578.0 317.9 L578.6 317.3 L579.2 317.4 L579.8 317.7 L580.0 317.5 L580.4 317.2 L581.0 317.3 L581.6 317.3 L582.2 317.2 L582.8 317.1 L583.4 317.1 L584.0 317.1 L584.6 317.0 L585.2 316.9 L585.8 316.8 L586.4 316.9 L587.0 317.1 L587.6 316.9 L588.2 316.7 L588.8 316.7 L589.4 316.7 L590.0 316.7 L590.0 316.7 L590.6 316.8 L591.2 316.6 L591.8 316.1 L592.4 315.9 L593.0 315.9 L593.6 315.7 L594.2 315.2 L594.8 314.7 L595.4 314.5 L596.0 314.7 L596.6 314.8 L597.0 314.6 L597.2 314.4 L597.8 314.3 L598.4 314.1 L599.0 314.0 L599.6 313.8 L600.2 313.4 L600.8 313.0 L601.4 312.7 L602.0 312.5 L602.6 312.5 L603.2 312.6 L603.8 312.7 L604.4 312.7 L605.0 312.5 L605.0 312.4 L605.6 312.3 L606.2 312.3 L606.8 312.4 L607.4 312.3 L608.0 312.1 L608.6 312.1 L609.2 312.1 L609.8 312.2 L610.4 312.4 L611.0 312.4 L611.6 312.1 L612.0 311.7 L612.2 311.5 L612.8 311.6 L613.4 311.5 L614.0 311.3 L614.6 311.4 L615.2 311.4 L615.8 311.1 L616.4 310.8 L617.0 310.8 L617.6 310.7 L618.2 310.4 L618.8 310.6 L619.4 310.8 L620.0 310.7 L620.0 310.6 L620.6 310.4 L621.2 310.3 L621.8 310.4 L622.4 310.5 L623.0 310.4 L623.6 310.6 L624.2 310.9 L624.8 310.8 L625.4 310.4 L626.0 310.3 L626.6 310.6 L627.2 311.0 L627.5 311.2" fill="none" stroke="#505050" stroke-width="0.75" stroke-linejoin="round" stroke-linecap="round" />
<path d="M481.5 306.8 L481.9 295.0 L482.0 291.5 L482.6 267.0 L483.0 249.9 L483.2 240.8 L483.8 209.4 L484.4 193.0 L484.4 193.0 L485.0 221.8 L485.4 250.0 L485.6 262.5 L486.2 295.1 L486.2 295.1 L486.8 307.4" fill="none" stroke="#767676" stroke-width="1.25" stroke-linejoin="round" stroke-linecap="round" />
<circle cx="484.4" cy="193.2" r="0.55" fill="#ff4040"/>
<rect x="579.4" y="188.3" width="43.5" height="45.0" fill="#fff" stroke="#c8c8c8" stroke-width="0.6"/>
<line x1="582.6" y1="194.60" x2="598.6" y2="194.60" stroke="#f5474a" stroke-width="1.6"/>
<text x="600.40" y="197.10" font-size="7.25" font-family='"Liberation Serif", serif' text-anchor="start" fill="#222" >Red</text>
<line x1="582.6" y1="203.50" x2="598.6" y2="203.50" stroke="#2ea52f" stroke-width="1.6"/>
<text x="600.40" y="206.00" font-size="7.25" font-family='"Liberation Serif", serif' text-anchor="start" fill="#222" >Green</text>
<line x1="582.6" y1="212.00" x2="598.6" y2="212.00" stroke="#ffa135" stroke-width="1.6"/>
<text x="600.40" y="214.50" font-size="7.25" font-family='"Liberation Serif", serif' text-anchor="start" fill="#222" >Orange</text>
<line x1="582.6" y1="220.60" x2="598.6" y2="220.60" stroke="#7e6a4e" stroke-width="1.6"/>
<text x="600.40" y="223.10" font-size="7.25" font-family='"Liberation Serif", serif' text-anchor="start" fill="#222" >Brown</text>
<line x1="582.6" y1="229.30" x2="598.6" y2="229.30" stroke="#858585" stroke-width="1.0"/>
<text x="600.40" y="231.80" font-size="7.25" font-family='"Liberation Serif", serif' text-anchor="start" fill="#222" >Grey</text>
<text x="500.2" y="207.7" font-size="12.0" font-family='"Liberation Serif", serif' text-anchor="start" fill="#000" >PIB</text>
<text x="500.3" y="221.4" font-size="11.8" font-family='"Liberation Serif", serif' text-anchor="start" fill="#000" >C-C stretching</text>
<text x="537.2" y="359.5" font-size="11.65" font-family='"Liberation Serif", serif' text-anchor="middle" fill="#000" >Raman Shift (cm<tspan font-size="6.6" dy="-4.4">-1</tspan><tspan dy="4.4">)</tspan></text>
<text transform="translate(425.6,258.3) rotate(-90)" font-size="11.4" font-family='"Liberation Serif", serif' text-anchor="middle" fill="#000">Intensity (a.u.)</text>
<rect x="518.9" y="235.5" width="84.0" height="52.89999999999998" fill="#fff" stroke="#9a9a9a" stroke-width="0.6"/>
<line x1="539.98" y1="288.4" x2="539.98" y2="290.2" stroke="#555" stroke-width="0.6"/>
<text x="539.98" y="298.40" font-size="7.3" font-family='"Liberation Serif", serif' text-anchor="middle" fill="#111" >1000</text>
<line x1="581.92" y1="288.4" x2="581.92" y2="290.2" stroke="#555" stroke-width="0.6"/>
<text x="581.92" y="298.40" font-size="7.3" font-family='"Liberation Serif", serif' text-anchor="middle" fill="#111" >1100</text>
<line x1="519.00" y1="288.4" x2="519.00" y2="289.5" stroke="#555" stroke-width="0.6"/>
<line x1="560.95" y1="288.4" x2="560.95" y2="289.5" stroke="#555" stroke-width="0.6"/>
<line x1="602.90" y1="288.4" x2="602.90" y2="289.5" stroke="#555" stroke-width="0.6"/>
<line x1="517.1" y1="288.40" x2="518.9" y2="288.40" stroke="#555" stroke-width="0.6"/>
<text x="515.30" y="291.70" font-size="7.2" font-family='"Liberation Serif", serif' text-anchor="end" fill="#111" >0.00</text>
<line x1="517.1" y1="276.65" x2="518.9" y2="276.65" stroke="#555" stroke-width="0.6"/>
<text x="515.30" y="279.95" font-size="7.2" font-family='"Liberation Serif", serif' text-anchor="end" fill="#111" >0.02</text>
<line x1="517.1" y1="264.90" x2="518.9" y2="264.90" stroke="#555" stroke-width="0.6"/>
<text x="515.30" y="268.20" font-size="7.2" font-family='"Liberation Serif", serif' text-anchor="end" fill="#111" >0.04</text>
<line x1="517.1" y1="253.15" x2="518.9" y2="253.15" stroke="#555" stroke-width="0.6"/>
<text x="515.30" y="256.45" font-size="7.2" font-family='"Liberation Serif", serif' text-anchor="end" fill="#111" >0.06</text>
<line x1="517.1" y1="241.40" x2="518.9" y2="241.40" stroke="#555" stroke-width="0.6"/>
<text x="515.30" y="244.70" font-size="7.2" font-family='"Liberation Serif", serif' text-anchor="end" fill="#111" >0.08</text>
<text x="561.2" y="305.9" font-size="7.2" font-family='"Liberation Serif", serif' text-anchor="middle" fill="#000" >Raman Shift (cm<tspan font-size="4.5" dy="-3">-1</tspan><tspan dy="3">)</tspan></text>
<text transform="translate(500.9,259.8) rotate(-90)" font-size="8.2" font-family='"Liberation Serif", serif' text-anchor="middle" fill="#000">Intensity (a.u.)</text>
<path d="M518.9 283.2 L524.4 286.0 L540.0 286.3 L548.0 284.5 L557.5 284.5 L562.0 283.2 L569.0 284.0 L575.6 286.0 L584.0 285.5 L590.6 283.6 L599.3 282.5 L602.4 282.8" fill="none" stroke="#f5474a" stroke-width="0.7" stroke-linejoin="round" stroke-linecap="round" />
<path d="M518.9 284.0 L524.4 287.2 L540.0 287.6 L545.0 287.2 L548.0 285.6 L557.5 285.5 L562.0 284.2 L569.0 284.8 L575.6 287.5 L584.0 286.6 L590.6 284.0 L596.0 282.2 L599.3 280.0 L602.4 280.8" fill="none" stroke="#2ea52f" stroke-width="0.7" stroke-linejoin="round" stroke-linecap="round" />
<path d="M518.9 283.5 L524.4 285.5 L543.3 285.5 L548.0 282.8 L557.5 282.3 L562.0 281.2 L566.0 281.0 L569.3 279.5 L572.0 281.5 L575.6 285.3 L584.3 283.8 L590.6 281.0 L599.3 279.5 L602.4 279.5" fill="none" stroke="#aaaaaa" stroke-width="0.7" stroke-linejoin="round" stroke-linecap="round" />
<path d="M518.9 283.0 L524.4 285.7 L543.3 286.2 L548.0 282.2 L552.8 283.0 L557.5 282.2 L560.7 279.1 L565.4 274.4 L569.3 264.1 L571.4 266.5 L573.6 280.7 L575.6 285.7 L584.3 283.8 L590.6 278.3 L593.7 279.9 L599.3 276.3 L602.4 277.2" fill="none" stroke="#6a5a48" stroke-width="0.75" stroke-linejoin="round" stroke-linecap="round" />
<path d="M518.9 276.3 L522.1 278.3 L524.4 285.1 L530.7 284.1 L534.7 279.4 L537.0 283.0 L538.6 281.5 L542.6 282.2 L544.9 285.1 L547.6 273.3 L549.6 282.2 L552.0 280.7 L555.2 280.7 L557.5 276.3 L560.7 271.2 L564.6 269.3 L567.0 265.7 L569.3 244.4 L570.9 246.8 L572.5 261.8 L574.8 282.2 L577.2 284.6 L581.1 284.6 L583.5 277.8 L585.9 283.0 L590.6 279.9 L593.7 280.7 L598.5 276.7 L602.4 278.3" fill="none" stroke="#ffa135" stroke-width="0.75" stroke-linejoin="round" stroke-linecap="round" />
<line x1="550.0" y1="224.6" x2="562.6" y2="240.6" stroke="#000" stroke-width="0.9"/>
<path d="M565.4 244.2 L560.6 240.6 L564.2 238.2 Z" fill="#000"/>
</svg></body></html>
